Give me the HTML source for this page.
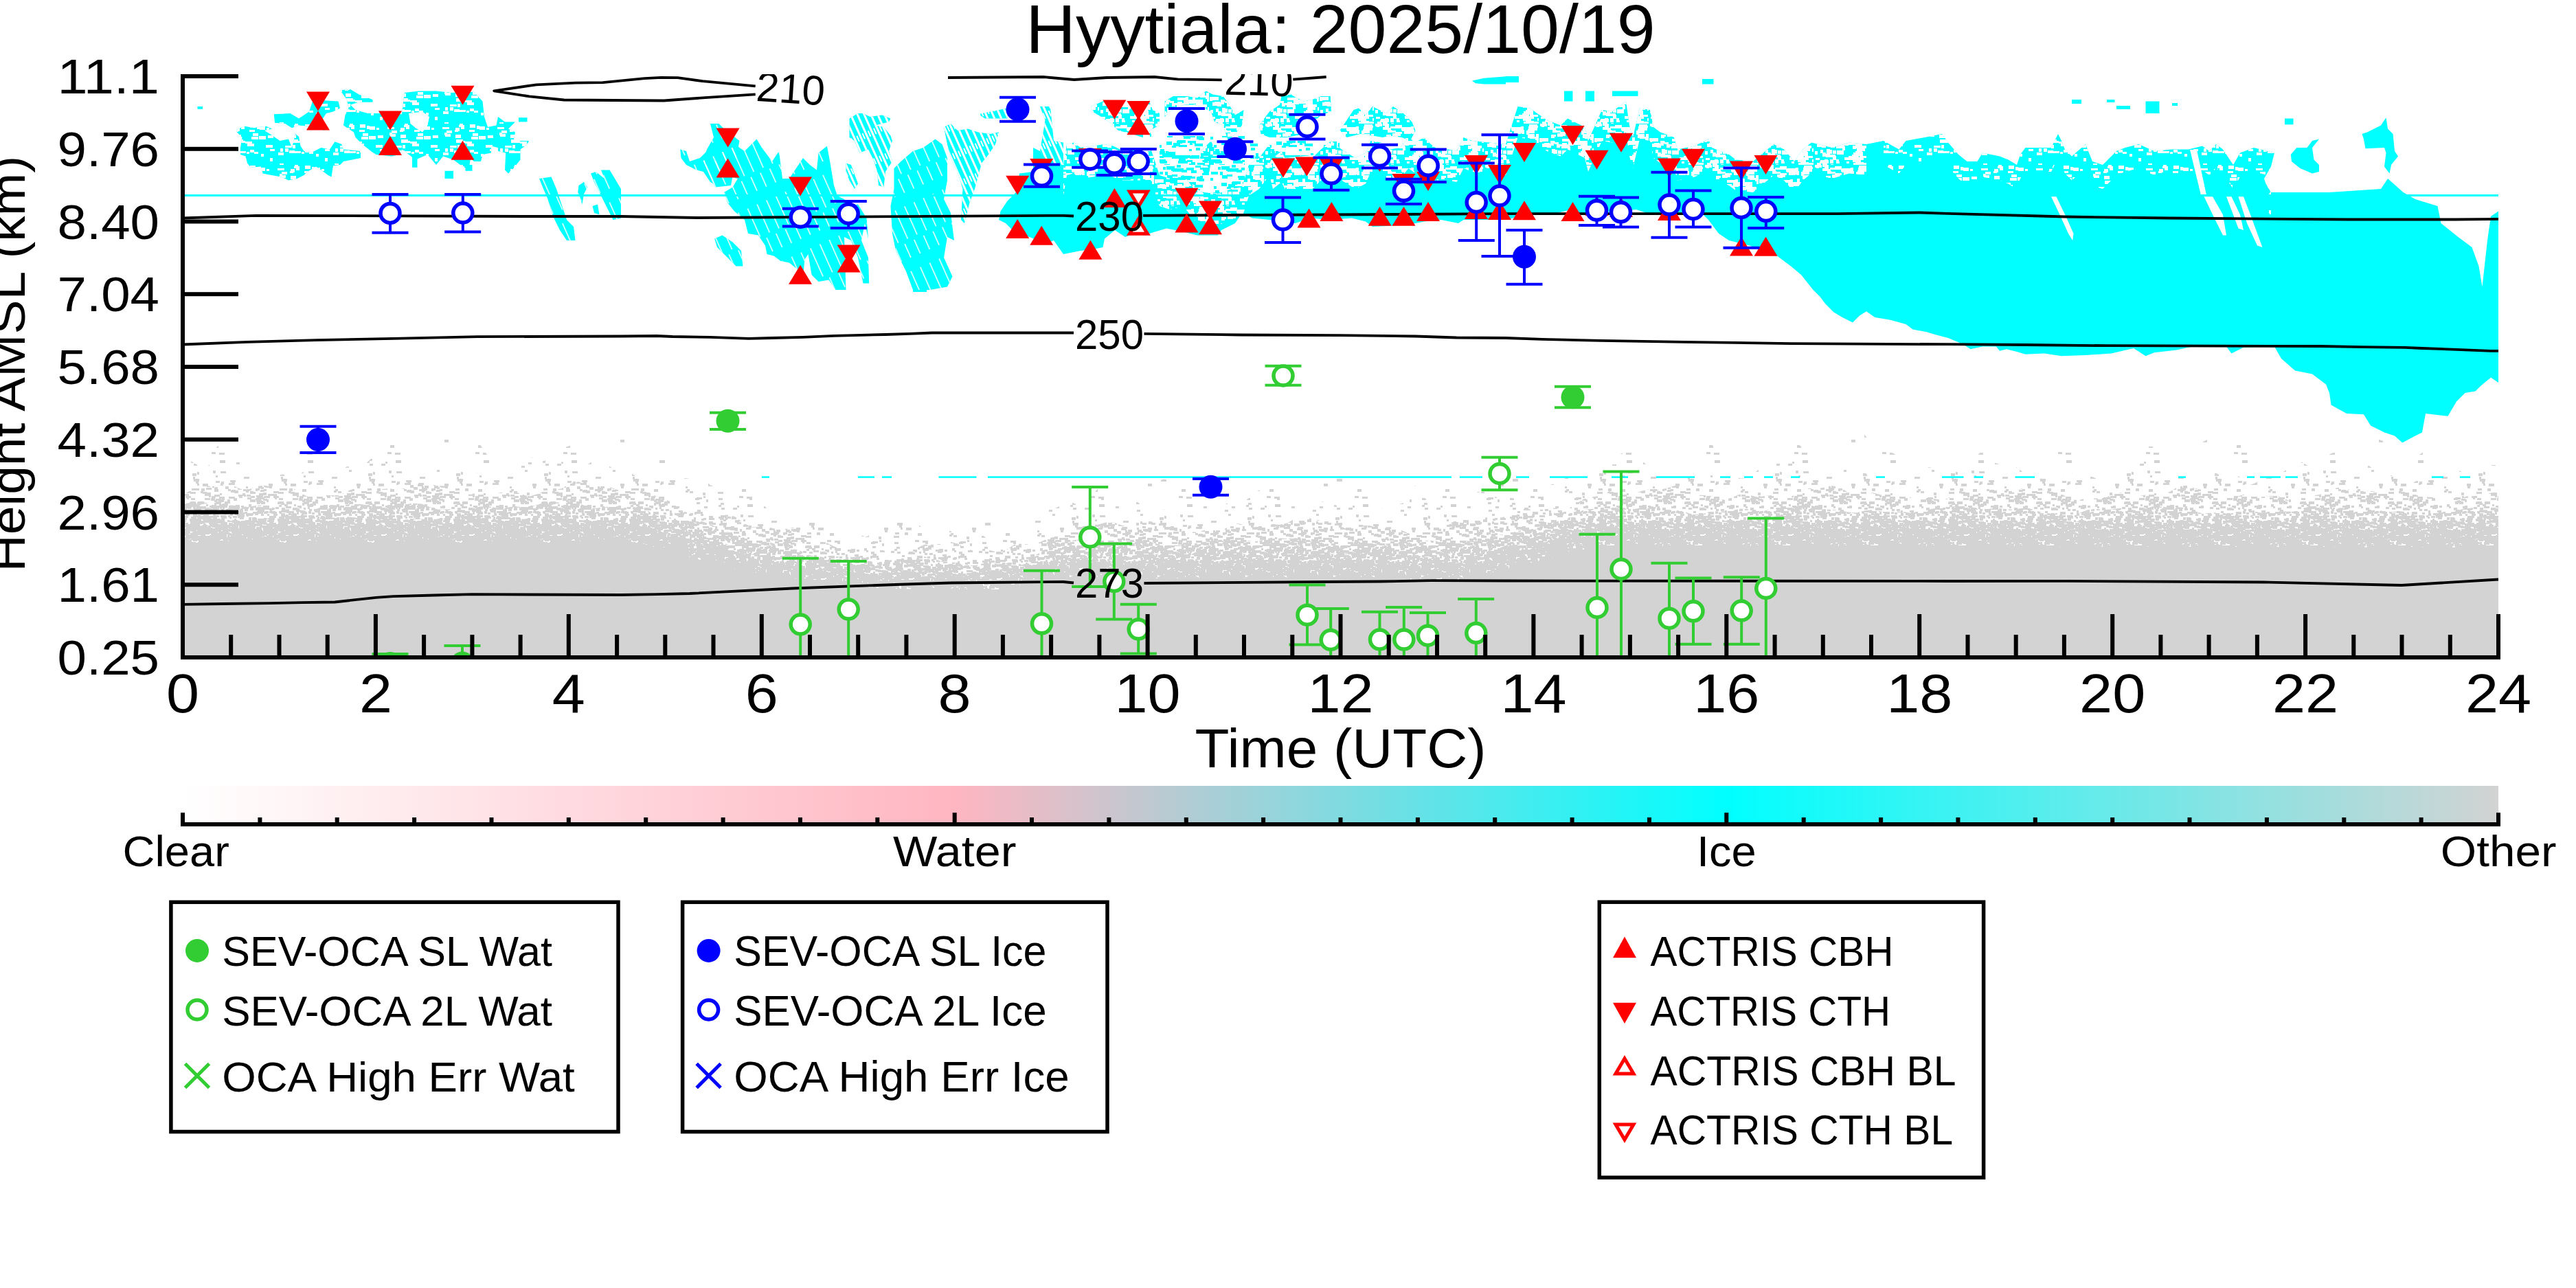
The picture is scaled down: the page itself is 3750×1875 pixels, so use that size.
<!DOCTYPE html><html><head><meta charset="utf-8"><style>html,body{margin:0;padding:0;background:#fff;width:3750px;height:1875px;overflow:hidden}</style></head><body><svg width="3750" height="1875" viewBox="0 0 3750 1875" style="display:block;font-family:'Liberation Sans', sans-serif">
<rect width="3750" height="1875" fill="#fff"/>
<defs><clipPath id="pc"><rect x="266" y="108" width="3371" height="849"/></clipPath>
<linearGradient id="cb" x1="0" x2="1" y1="0" y2="0"><stop offset="0" stop-color="#fff"/><stop offset="0.3333" stop-color="#ffb6c1"/><stop offset="0.6667" stop-color="#00ffff"/><stop offset="1" stop-color="#d3d3d3"/></linearGradient>
<linearGradient id="gg" x1="0" x2="0" y1="0" y2="1"><stop offset="0" stop-color="#d3d3d3" stop-opacity="0"/><stop offset="0.194" stop-color="#d3d3d3" stop-opacity="0.03"/><stop offset="0.419" stop-color="#d3d3d3" stop-opacity="0.15"/><stop offset="0.6" stop-color="#d3d3d3" stop-opacity="0.4"/><stop offset="0.755" stop-color="#d3d3d3" stop-opacity="0.7"/><stop offset="0.839" stop-color="#d3d3d3" stop-opacity="0.85"/><stop offset="1" stop-color="#d3d3d3" stop-opacity="1"/></linearGradient>
<pattern id="blotch" width="80" height="60" patternUnits="userSpaceOnUse"><g fill="#fff"><rect x="50" y="41" width="6" height="3"/><rect x="68" y="6" width="4" height="3"/><rect x="7" y="58" width="6" height="5"/><rect x="4" y="5" width="10" height="3"/><rect x="8" y="15" width="8" height="4"/><rect x="54" y="3" width="4" height="5"/><rect x="28" y="40" width="10" height="3"/><rect x="73" y="37" width="10" height="3"/><rect x="28" y="2" width="8" height="3"/><rect x="37" y="26" width="10" height="3"/><rect x="15" y="36" width="5" height="5"/><rect x="23" y="6" width="6" height="5"/><rect x="24" y="23" width="10" height="5"/><rect x="8" y="36" width="4" height="5"/><rect x="26" y="31" width="4" height="5"/><rect x="40" y="29" width="10" height="4"/><rect x="46" y="19" width="10" height="4"/><rect x="31" y="5" width="5" height="3"/><rect x="67" y="31" width="10" height="4"/><rect x="57" y="18" width="6" height="5"/><rect x="15" y="32" width="10" height="3"/><rect x="43" y="9" width="8" height="3"/><rect x="5" y="42" width="8" height="4"/><rect x="73" y="50" width="4" height="5"/><rect x="44" y="38" width="6" height="4"/><rect x="58" y="4" width="8" height="5"/><rect x="60" y="44" width="4" height="4"/><rect x="39" y="41" width="4" height="3"/><rect x="57" y="18" width="10" height="5"/><rect x="44" y="1" width="8" height="5"/><rect x="21" y="39" width="8" height="4"/><rect x="7" y="13" width="4" height="4"/><rect x="31" y="25" width="6" height="3"/><rect x="10" y="10" width="8" height="4"/><rect x="70" y="17" width="8" height="4"/><rect x="70" y="17" width="5" height="4"/><rect x="48" y="14" width="8" height="4"/><rect x="22" y="9" width="5" height="3"/><rect x="29" y="0" width="5" height="5"/><rect x="23" y="16" width="8" height="5"/></g></pattern>
<pattern id="blotch2" width="80" height="60" patternUnits="userSpaceOnUse"><g fill="#fff"><rect x="18" y="26" width="6" height="3"/><rect x="78" y="36" width="10" height="5"/><rect x="65" y="39" width="6" height="4"/><rect x="58" y="57" width="12" height="3"/><rect x="50" y="25" width="12" height="6"/><rect x="61" y="40" width="8" height="3"/><rect x="24" y="4" width="8" height="3"/><rect x="20" y="7" width="5" height="6"/><rect x="13" y="0" width="6" height="3"/><rect x="68" y="6" width="10" height="4"/><rect x="9" y="55" width="6" height="3"/><rect x="19" y="40" width="5" height="6"/><rect x="77" y="23" width="6" height="5"/><rect x="14" y="54" width="8" height="3"/><rect x="61" y="30" width="8" height="6"/><rect x="18" y="6" width="6" height="3"/><rect x="33" y="30" width="12" height="5"/><rect x="66" y="1" width="12" height="4"/><rect x="18" y="44" width="5" height="5"/><rect x="67" y="19" width="10" height="3"/><rect x="33" y="33" width="12" height="3"/><rect x="45" y="49" width="6" height="4"/><rect x="28" y="39" width="5" height="5"/><rect x="51" y="47" width="5" height="4"/><rect x="66" y="31" width="5" height="4"/><rect x="3" y="50" width="6" height="3"/><rect x="33" y="12" width="6" height="6"/><rect x="57" y="51" width="12" height="5"/><rect x="46" y="5" width="12" height="5"/><rect x="29" y="30" width="5" height="3"/><rect x="26" y="30" width="5" height="5"/><rect x="61" y="58" width="10" height="3"/><rect x="10" y="53" width="12" height="5"/><rect x="49" y="50" width="12" height="3"/><rect x="61" y="56" width="12" height="4"/><rect x="42" y="5" width="5" height="6"/><rect x="59" y="25" width="12" height="6"/><rect x="20" y="10" width="12" height="3"/><rect x="19" y="37" width="5" height="3"/><rect x="78" y="52" width="8" height="4"/><rect x="44" y="9" width="10" height="6"/><rect x="2" y="0" width="10" height="4"/><rect x="67" y="47" width="12" height="3"/><rect x="24" y="52" width="5" height="6"/><rect x="32" y="13" width="5" height="3"/><rect x="75" y="20" width="6" height="4"/><rect x="16" y="3" width="6" height="6"/><rect x="58" y="42" width="12" height="5"/><rect x="64" y="8" width="10" height="6"/><rect x="67" y="32" width="10" height="4"/><rect x="23" y="38" width="4" height="6"/><rect x="22" y="9" width="4" height="4"/><rect x="71" y="3" width="8" height="3"/><rect x="13" y="56" width="6" height="6"/><rect x="31" y="12" width="10" height="3"/><rect x="12" y="32" width="6" height="3"/><rect x="8" y="28" width="8" height="3"/><rect x="35" y="28" width="6" height="4"/><rect x="64" y="15" width="10" height="6"/><rect x="71" y="57" width="12" height="5"/><rect x="17" y="26" width="5" height="6"/><rect x="56" y="20" width="4" height="6"/><rect x="54" y="4" width="4" height="4"/><rect x="15" y="57" width="5" height="5"/><rect x="18" y="16" width="5" height="5"/><rect x="28" y="47" width="5" height="6"/><rect x="62" y="10" width="4" height="6"/><rect x="20" y="45" width="12" height="4"/><rect x="43" y="26" width="8" height="6"/><rect x="40" y="5" width="5" height="5"/><rect x="2" y="21" width="12" height="5"/><rect x="56" y="45" width="10" height="6"/><rect x="42" y="33" width="4" height="6"/><rect x="65" y="4" width="10" height="5"/><rect x="13" y="5" width="4" height="4"/><rect x="5" y="57" width="6" height="5"/><rect x="16" y="52" width="5" height="5"/><rect x="51" y="9" width="8" height="5"/><rect x="41" y="5" width="10" height="6"/><rect x="23" y="27" width="6" height="3"/><rect x="2" y="40" width="4" height="5"/><rect x="10" y="38" width="4" height="5"/><rect x="33" y="55" width="5" height="3"/><rect x="1" y="21" width="4" height="6"/><rect x="34" y="39" width="10" height="6"/><rect x="67" y="45" width="5" height="3"/><rect x="20" y="16" width="5" height="3"/><rect x="25" y="59" width="4" height="4"/><rect x="67" y="48" width="6" height="5"/><rect x="57" y="32" width="5" height="5"/><rect x="34" y="22" width="12" height="4"/><rect x="4" y="0" width="4" height="5"/><rect x="65" y="30" width="4" height="4"/><rect x="13" y="42" width="5" height="6"/><rect x="63" y="34" width="12" height="6"/><rect x="27" y="14" width="8" height="5"/><rect x="17" y="25" width="6" height="4"/><rect x="16" y="0" width="6" height="3"/><rect x="55" y="10" width="4" height="5"/><rect x="48" y="55" width="4" height="3"/><rect x="76" y="15" width="10" height="5"/><rect x="5" y="29" width="12" height="5"/><rect x="34" y="28" width="5" height="4"/><rect x="46" y="21" width="4" height="5"/><rect x="31" y="2" width="10" height="5"/><rect x="45" y="11" width="6" height="4"/><rect x="48" y="5" width="4" height="5"/><rect x="64" y="41" width="8" height="5"/><rect x="64" y="49" width="5" height="4"/><rect x="33" y="52" width="4" height="3"/></g></pattern>
<pattern id="cspeck" width="80" height="60" patternUnits="userSpaceOnUse"><g fill="#00ffff"><rect x="51" y="37" width="4" height="3"/><rect x="2" y="19" width="4" height="4"/><rect x="29" y="5" width="8" height="5"/><rect x="19" y="42" width="12" height="5"/><rect x="41" y="46" width="12" height="4"/><rect x="36" y="46" width="10" height="3"/><rect x="18" y="2" width="12" height="5"/><rect x="54" y="46" width="12" height="5"/><rect x="67" y="48" width="12" height="3"/><rect x="2" y="52" width="12" height="5"/><rect x="29" y="5" width="12" height="5"/><rect x="17" y="40" width="4" height="3"/><rect x="48" y="53" width="8" height="3"/><rect x="6" y="40" width="10" height="5"/><rect x="68" y="43" width="4" height="5"/><rect x="33" y="0" width="6" height="4"/><rect x="64" y="57" width="10" height="3"/><rect x="67" y="4" width="12" height="3"/><rect x="9" y="54" width="10" height="4"/><rect x="26" y="14" width="8" height="3"/><rect x="48" y="4" width="10" height="4"/><rect x="36" y="49" width="10" height="5"/><rect x="25" y="4" width="4" height="5"/><rect x="42" y="16" width="12" height="3"/><rect x="72" y="8" width="8" height="5"/><rect x="7" y="31" width="4" height="4"/><rect x="12" y="44" width="8" height="5"/><rect x="62" y="18" width="6" height="5"/><rect x="59" y="29" width="12" height="4"/><rect x="70" y="12" width="10" height="3"/><rect x="60" y="1" width="8" height="3"/><rect x="9" y="52" width="8" height="4"/><rect x="34" y="24" width="12" height="4"/><rect x="9" y="37" width="6" height="3"/><rect x="67" y="16" width="4" height="3"/><rect x="77" y="52" width="8" height="3"/><rect x="14" y="45" width="12" height="4"/><rect x="63" y="57" width="8" height="3"/><rect x="3" y="10" width="10" height="4"/><rect x="57" y="25" width="4" height="4"/><rect x="18" y="26" width="8" height="5"/><rect x="40" y="7" width="8" height="4"/><rect x="41" y="48" width="8" height="3"/><rect x="15" y="59" width="8" height="4"/><rect x="1" y="57" width="6" height="5"/><rect x="47" y="4" width="8" height="4"/><rect x="75" y="4" width="10" height="4"/><rect x="35" y="54" width="8" height="4"/><rect x="13" y="3" width="4" height="4"/><rect x="19" y="15" width="8" height="5"/><rect x="65" y="20" width="8" height="4"/><rect x="54" y="56" width="6" height="4"/><rect x="51" y="58" width="4" height="5"/><rect x="26" y="46" width="12" height="5"/><rect x="52" y="28" width="4" height="3"/><rect x="36" y="31" width="12" height="3"/><rect x="16" y="10" width="4" height="5"/><rect x="43" y="18" width="10" height="4"/><rect x="33" y="25" width="8" height="4"/><rect x="61" y="35" width="6" height="4"/><rect x="21" y="41" width="10" height="3"/><rect x="26" y="32" width="6" height="3"/><rect x="28" y="28" width="10" height="5"/><rect x="54" y="8" width="8" height="4"/><rect x="31" y="5" width="12" height="3"/><rect x="71" y="5" width="6" height="4"/><rect x="47" y="16" width="8" height="3"/><rect x="2" y="47" width="12" height="3"/><rect x="52" y="47" width="10" height="4"/><rect x="48" y="17" width="12" height="3"/><rect x="63" y="17" width="8" height="3"/><rect x="16" y="43" width="12" height="4"/><rect x="27" y="5" width="12" height="5"/><rect x="49" y="25" width="8" height="3"/><rect x="39" y="54" width="10" height="4"/></g></pattern>
<pattern id="streak" width="9" height="40" patternUnits="userSpaceOnUse" patternTransform="rotate(-24)"><rect x="0" y="0" width="3" height="40" fill="#fff"/><rect x="5" y="8" width="2" height="9" fill="#fff"/></pattern>
<pattern id="streak2" width="15" height="90" patternUnits="userSpaceOnUse" patternTransform="rotate(-24)"><rect x="0" y="0" width="1.5" height="45" fill="#fff"/><rect x="8" y="50" width="1.5" height="22" fill="#fff"/></pattern>
</defs>
<g clip-path="url(#pc)">
<defs><pattern id="sp0" width="128" height="64" patternUnits="userSpaceOnUse" patternTransform="translate(16 7)"><g fill="#d3d3d3"><rect x="119" y="57" width="6" height="4"/><rect x="48" y="23" width="8" height="4"/><rect x="47" y="12" width="8" height="3"/><rect x="36" y="11" width="6" height="3"/><rect x="10" y="50" width="8" height="4"/><rect x="40" y="1" width="6" height="4"/></g></pattern><pattern id="sp1" width="128" height="64" patternUnits="userSpaceOnUse" patternTransform="translate(4 60)"><g fill="#d3d3d3"><rect x="61" y="3" width="3" height="3"/><rect x="112" y="25" width="6" height="3"/><rect x="75" y="63" width="8" height="3"/><rect x="75" y="-1" width="8" height="3"/><rect x="21" y="58" width="3" height="4"/><rect x="21" y="32" width="5" height="3"/><rect x="73" y="3" width="5" height="3"/><rect x="27" y="51" width="3" height="4"/><rect x="98" y="8" width="3" height="3"/><rect x="0" y="27" width="3" height="4"/><rect x="120" y="48" width="4" height="3"/><rect x="18" y="25" width="6" height="3"/><rect x="22" y="39" width="5" height="3"/><rect x="104" y="15" width="5" height="3"/><rect x="25" y="1" width="4" height="3"/><rect x="124" y="22" width="3" height="3"/><rect x="114" y="24" width="8" height="3"/><rect x="98" y="14" width="4" height="3"/><rect x="54" y="0" width="6" height="3"/><rect x="77" y="2" width="5" height="4"/><rect x="100" y="12" width="4" height="3"/><rect x="54" y="56" width="3" height="3"/><rect x="84" y="37" width="5" height="3"/><rect x="19" y="11" width="6" height="3"/><rect x="62" y="1" width="4" height="4"/><rect x="95" y="58" width="8" height="3"/><rect x="123" y="17" width="4" height="4"/><rect x="39" y="39" width="6" height="3"/><rect x="63" y="24" width="4" height="4"/><rect x="50" y="49" width="4" height="4"/><rect x="20" y="53" width="6" height="4"/><rect x="27" y="4" width="3" height="3"/><rect x="61" y="50" width="8" height="3"/><rect x="125" y="37" width="5" height="3"/><rect x="-3" y="37" width="5" height="3"/><rect x="17" y="16" width="8" height="3"/><rect x="18" y="35" width="4" height="3"/><rect x="4" y="8" width="4" height="3"/><rect x="114" y="31" width="5" height="3"/><rect x="45" y="36" width="3" height="3"/><rect x="33" y="11" width="5" height="4"/><rect x="115" y="42" width="5" height="3"/><rect x="35" y="4" width="8" height="4"/></g></pattern><pattern id="sp2" width="128" height="64" patternUnits="userSpaceOnUse" patternTransform="translate(37 31)"><g fill="#d3d3d3"><rect x="79" y="4" width="5" height="4"/><rect x="19" y="61" width="3" height="4"/><rect x="19" y="-3" width="3" height="4"/><rect x="79" y="40" width="3" height="4"/><rect x="19" y="57" width="4" height="3"/><rect x="11" y="16" width="8" height="3"/><rect x="21" y="60" width="5" height="3"/><rect x="7" y="63" width="3" height="3"/><rect x="7" y="-1" width="3" height="3"/><rect x="97" y="48" width="8" height="3"/><rect x="18" y="10" width="8" height="3"/><rect x="29" y="32" width="3" height="4"/><rect x="84" y="49" width="6" height="4"/><rect x="112" y="59" width="8" height="3"/><rect x="7" y="39" width="8" height="3"/><rect x="123" y="2" width="8" height="3"/><rect x="-5" y="2" width="8" height="3"/><rect x="28" y="63" width="4" height="4"/><rect x="28" y="-1" width="4" height="4"/><rect x="124" y="32" width="8" height="4"/><rect x="-4" y="32" width="8" height="4"/><rect x="77" y="18" width="3" height="3"/><rect x="43" y="43" width="8" height="3"/><rect x="61" y="41" width="6" height="3"/><rect x="64" y="25" width="6" height="4"/><rect x="54" y="49" width="6" height="3"/><rect x="81" y="26" width="4" height="4"/><rect x="127" y="44" width="4" height="3"/><rect x="-1" y="44" width="4" height="3"/><rect x="16" y="35" width="3" height="4"/><rect x="115" y="60" width="4" height="3"/><rect x="105" y="48" width="5" height="3"/><rect x="80" y="57" width="8" height="3"/><rect x="8" y="35" width="5" height="3"/><rect x="71" y="45" width="8" height="3"/><rect x="4" y="17" width="5" height="4"/><rect x="48" y="3" width="6" height="3"/><rect x="36" y="6" width="5" height="3"/><rect x="27" y="47" width="3" height="3"/><rect x="50" y="25" width="3" height="4"/><rect x="45" y="1" width="6" height="3"/><rect x="9" y="22" width="6" height="4"/><rect x="88" y="20" width="4" height="3"/><rect x="57" y="11" width="6" height="4"/><rect x="99" y="16" width="6" height="4"/><rect x="50" y="0" width="6" height="3"/><rect x="87" y="59" width="6" height="4"/><rect x="52" y="12" width="5" height="4"/><rect x="62" y="49" width="3" height="3"/><rect x="82" y="33" width="3" height="3"/><rect x="21" y="4" width="3" height="3"/><rect x="107" y="35" width="6" height="3"/><rect x="55" y="8" width="6" height="3"/><rect x="44" y="42" width="6" height="3"/><rect x="38" y="56" width="4" height="3"/><rect x="22" y="28" width="6" height="4"/><rect x="74" y="21" width="6" height="4"/><rect x="65" y="39" width="8" height="4"/><rect x="53" y="38" width="6" height="4"/><rect x="69" y="63" width="4" height="4"/><rect x="69" y="-1" width="4" height="4"/><rect x="29" y="0" width="4" height="3"/><rect x="7" y="5" width="8" height="3"/><rect x="31" y="62" width="8" height="3"/><rect x="31" y="-2" width="8" height="3"/><rect x="42" y="8" width="3" height="4"/><rect x="105" y="51" width="8" height="3"/><rect x="121" y="63" width="5" height="3"/><rect x="121" y="-1" width="5" height="3"/><rect x="111" y="60" width="4" height="3"/><rect x="27" y="24" width="8" height="3"/><rect x="7" y="33" width="6" height="4"/><rect x="5" y="4" width="4" height="4"/><rect x="58" y="1" width="4" height="3"/><rect x="90" y="31" width="5" height="3"/><rect x="26" y="63" width="8" height="3"/><rect x="26" y="-1" width="8" height="3"/><rect x="64" y="25" width="8" height="3"/><rect x="5" y="48" width="8" height="3"/><rect x="40" y="26" width="6" height="4"/><rect x="55" y="27" width="8" height="4"/><rect x="34" y="29" width="8" height="4"/><rect x="80" y="40" width="5" height="3"/><rect x="49" y="12" width="4" height="3"/><rect x="33" y="11" width="4" height="3"/><rect x="24" y="55" width="5" height="3"/><rect x="32" y="25" width="6" height="4"/><rect x="4" y="12" width="6" height="4"/><rect x="91" y="46" width="4" height="4"/><rect x="87" y="24" width="3" height="4"/><rect x="27" y="3" width="3" height="3"/><rect x="123" y="18" width="3" height="4"/><rect x="29" y="26" width="4" height="3"/><rect x="72" y="12" width="4" height="3"/><rect x="34" y="59" width="8" height="3"/><rect x="83" y="50" width="3" height="3"/><rect x="90" y="55" width="6" height="3"/><rect x="95" y="1" width="4" height="4"/><rect x="46" y="52" width="3" height="3"/><rect x="94" y="51" width="6" height="3"/><rect x="42" y="12" width="4" height="4"/><rect x="82" y="10" width="8" height="3"/><rect x="48" y="43" width="6" height="4"/><rect x="29" y="20" width="5" height="3"/><rect x="84" y="47" width="6" height="3"/><rect x="103" y="26" width="6" height="3"/><rect x="87" y="38" width="4" height="3"/><rect x="2" y="45" width="6" height="3"/><rect x="59" y="34" width="8" height="3"/><rect x="55" y="51" width="5" height="3"/><rect x="19" y="49" width="8" height="3"/><rect x="54" y="15" width="8" height="3"/><rect x="5" y="14" width="6" height="4"/><rect x="60" y="32" width="8" height="3"/><rect x="12" y="25" width="6" height="3"/><rect x="25" y="33" width="6" height="3"/><rect x="87" y="53" width="5" height="3"/><rect x="25" y="56" width="8" height="4"/><rect x="11" y="49" width="3" height="4"/><rect x="120" y="21" width="4" height="3"/><rect x="14" y="54" width="6" height="4"/><rect x="72" y="51" width="6" height="3"/><rect x="93" y="36" width="8" height="3"/><rect x="69" y="36" width="6" height="4"/><rect x="3" y="31" width="5" height="3"/><rect x="40" y="52" width="8" height="3"/><rect x="80" y="50" width="6" height="3"/><rect x="81" y="9" width="3" height="4"/><rect x="122" y="32" width="4" height="3"/><rect x="25" y="59" width="4" height="3"/><rect x="29" y="6" width="4" height="3"/><rect x="116" y="15" width="8" height="3"/><rect x="91" y="19" width="4" height="3"/><rect x="113" y="17" width="3" height="3"/><rect x="67" y="53" width="6" height="3"/><rect x="35" y="37" width="5" height="4"/><rect x="123" y="14" width="4" height="3"/><rect x="91" y="35" width="8" height="3"/><rect x="48" y="35" width="5" height="4"/><rect x="63" y="25" width="4" height="3"/><rect x="15" y="1" width="3" height="4"/><rect x="108" y="3" width="5" height="3"/><rect x="26" y="28" width="8" height="3"/><rect x="18" y="11" width="8" height="3"/><rect x="60" y="47" width="4" height="4"/><rect x="90" y="26" width="6" height="3"/><rect x="126" y="17" width="5" height="3"/><rect x="-2" y="17" width="5" height="3"/><rect x="114" y="27" width="3" height="3"/><rect x="66" y="49" width="6" height="3"/><rect x="39" y="41" width="4" height="3"/><rect x="47" y="54" width="5" height="4"/><rect x="24" y="59" width="5" height="4"/><rect x="21" y="55" width="5" height="3"/><rect x="124" y="59" width="8" height="4"/><rect x="-4" y="59" width="8" height="4"/><rect x="19" y="39" width="5" height="3"/><rect x="20" y="38" width="4" height="4"/><rect x="83" y="36" width="6" height="4"/><rect x="91" y="41" width="4" height="3"/><rect x="82" y="56" width="5" height="3"/><rect x="71" y="56" width="8" height="4"/><rect x="117" y="40" width="8" height="3"/><rect x="63" y="10" width="4" height="3"/><rect x="6" y="46" width="5" height="3"/><rect x="99" y="24" width="6" height="4"/><rect x="99" y="19" width="8" height="3"/><rect x="45" y="22" width="8" height="4"/><rect x="72" y="2" width="3" height="3"/><rect x="14" y="20" width="4" height="4"/><rect x="5" y="54" width="8" height="3"/><rect x="78" y="10" width="3" height="4"/><rect x="70" y="13" width="5" height="3"/><rect x="6" y="18" width="5" height="3"/><rect x="108" y="31" width="3" height="4"/><rect x="86" y="58" width="4" height="3"/><rect x="86" y="42" width="6" height="3"/><rect x="124" y="9" width="4" height="3"/><rect x="105" y="44" width="8" height="3"/><rect x="22" y="59" width="3" height="3"/><rect x="6" y="46" width="8" height="4"/><rect x="107" y="53" width="3" height="3"/></g></pattern><pattern id="sp3" width="128" height="64" patternUnits="userSpaceOnUse" patternTransform="translate(124 1)"><g fill="#d3d3d3"><rect x="96" y="21" width="4" height="4"/><rect x="99" y="54" width="5" height="3"/><rect x="70" y="7" width="8" height="3"/><rect x="29" y="38" width="6" height="3"/><rect x="15" y="58" width="4" height="3"/><rect x="123" y="4" width="3" height="4"/><rect x="50" y="23" width="5" height="3"/><rect x="60" y="60" width="5" height="3"/><rect x="57" y="56" width="8" height="4"/><rect x="103" y="22" width="4" height="3"/><rect x="122" y="33" width="5" height="4"/><rect x="87" y="11" width="6" height="3"/><rect x="102" y="6" width="6" height="3"/><rect x="98" y="35" width="4" height="3"/><rect x="60" y="1" width="3" height="4"/><rect x="115" y="31" width="6" height="3"/><rect x="40" y="53" width="6" height="4"/><rect x="37" y="33" width="4" height="3"/><rect x="68" y="6" width="8" height="3"/><rect x="45" y="0" width="4" height="4"/><rect x="32" y="10" width="4" height="3"/><rect x="24" y="61" width="5" height="3"/><rect x="77" y="2" width="6" height="3"/><rect x="49" y="11" width="4" height="3"/><rect x="9" y="52" width="6" height="3"/><rect x="40" y="39" width="8" height="3"/><rect x="103" y="9" width="5" height="3"/><rect x="119" y="8" width="8" height="3"/><rect x="35" y="13" width="5" height="3"/><rect x="118" y="15" width="6" height="4"/><rect x="96" y="60" width="6" height="3"/><rect x="29" y="58" width="4" height="3"/><rect x="52" y="19" width="3" height="4"/><rect x="96" y="38" width="5" height="4"/><rect x="22" y="32" width="5" height="3"/><rect x="96" y="14" width="4" height="3"/><rect x="70" y="60" width="5" height="3"/><rect x="97" y="11" width="5" height="3"/><rect x="24" y="16" width="3" height="3"/><rect x="49" y="51" width="4" height="3"/><rect x="23" y="12" width="3" height="3"/><rect x="40" y="15" width="4" height="3"/><rect x="18" y="43" width="6" height="3"/><rect x="35" y="26" width="6" height="4"/><rect x="98" y="61" width="4" height="4"/><rect x="98" y="-3" width="4" height="4"/><rect x="3" y="51" width="5" height="3"/><rect x="81" y="31" width="8" height="4"/><rect x="4" y="33" width="8" height="4"/><rect x="87" y="39" width="5" height="3"/><rect x="96" y="26" width="6" height="3"/><rect x="75" y="13" width="8" height="3"/><rect x="40" y="32" width="8" height="4"/><rect x="59" y="45" width="8" height="3"/><rect x="36" y="25" width="8" height="4"/><rect x="50" y="3" width="8" height="4"/><rect x="34" y="31" width="4" height="3"/><rect x="106" y="42" width="6" height="4"/><rect x="92" y="34" width="5" height="3"/><rect x="115" y="17" width="6" height="3"/><rect x="16" y="33" width="4" height="4"/><rect x="85" y="18" width="4" height="4"/><rect x="73" y="46" width="3" height="3"/><rect x="92" y="21" width="4" height="4"/><rect x="19" y="58" width="4" height="4"/><rect x="46" y="17" width="3" height="3"/><rect x="97" y="2" width="5" height="4"/><rect x="105" y="59" width="4" height="3"/><rect x="98" y="15" width="3" height="3"/><rect x="44" y="43" width="8" height="3"/><rect x="67" y="31" width="8" height="3"/><rect x="13" y="4" width="8" height="3"/><rect x="127" y="13" width="4" height="3"/><rect x="-1" y="13" width="4" height="3"/><rect x="105" y="52" width="6" height="3"/><rect x="118" y="52" width="5" height="3"/><rect x="29" y="42" width="6" height="3"/><rect x="110" y="53" width="8" height="4"/><rect x="13" y="37" width="3" height="3"/><rect x="96" y="41" width="8" height="3"/><rect x="17" y="31" width="5" height="4"/><rect x="62" y="50" width="3" height="3"/><rect x="26" y="30" width="3" height="3"/><rect x="101" y="30" width="8" height="3"/><rect x="94" y="53" width="3" height="4"/><rect x="56" y="53" width="8" height="3"/><rect x="18" y="12" width="8" height="3"/><rect x="31" y="58" width="8" height="3"/><rect x="62" y="38" width="3" height="3"/><rect x="44" y="8" width="3" height="3"/><rect x="101" y="18" width="6" height="3"/><rect x="59" y="5" width="5" height="4"/><rect x="116" y="40" width="5" height="3"/><rect x="127" y="18" width="5" height="3"/><rect x="-1" y="18" width="5" height="3"/><rect x="51" y="37" width="6" height="3"/><rect x="80" y="45" width="3" height="3"/><rect x="44" y="25" width="6" height="3"/><rect x="60" y="24" width="8" height="4"/><rect x="27" y="39" width="3" height="4"/><rect x="107" y="17" width="5" height="3"/><rect x="113" y="53" width="5" height="4"/><rect x="57" y="39" width="3" height="3"/><rect x="50" y="34" width="3" height="4"/><rect x="60" y="37" width="4" height="4"/><rect x="29" y="29" width="5" height="3"/><rect x="57" y="35" width="5" height="3"/><rect x="23" y="59" width="4" height="4"/><rect x="18" y="5" width="3" height="3"/><rect x="72" y="32" width="3" height="4"/><rect x="22" y="21" width="6" height="4"/><rect x="62" y="22" width="5" height="3"/><rect x="7" y="23" width="5" height="4"/><rect x="118" y="49" width="4" height="3"/><rect x="15" y="23" width="3" height="3"/><rect x="92" y="41" width="3" height="4"/><rect x="74" y="22" width="6" height="3"/><rect x="28" y="55" width="8" height="3"/><rect x="112" y="32" width="4" height="4"/><rect x="125" y="28" width="4" height="3"/><rect x="-3" y="28" width="4" height="3"/><rect x="127" y="33" width="8" height="4"/><rect x="-1" y="33" width="8" height="4"/><rect x="13" y="57" width="3" height="3"/><rect x="38" y="2" width="4" height="3"/><rect x="111" y="56" width="8" height="3"/><rect x="18" y="14" width="5" height="3"/><rect x="60" y="18" width="4" height="4"/><rect x="108" y="5" width="3" height="3"/><rect x="67" y="63" width="5" height="4"/><rect x="67" y="-1" width="5" height="4"/><rect x="43" y="48" width="3" height="4"/><rect x="40" y="63" width="5" height="3"/><rect x="40" y="-1" width="5" height="3"/><rect x="15" y="40" width="8" height="3"/><rect x="93" y="27" width="6" height="3"/><rect x="125" y="17" width="3" height="3"/><rect x="116" y="5" width="4" height="4"/><rect x="104" y="18" width="3" height="3"/><rect x="76" y="60" width="3" height="3"/><rect x="8" y="29" width="6" height="3"/><rect x="30" y="30" width="5" height="3"/><rect x="22" y="29" width="6" height="3"/><rect x="86" y="27" width="5" height="3"/><rect x="103" y="7" width="3" height="3"/><rect x="45" y="59" width="5" height="4"/><rect x="97" y="48" width="6" height="3"/><rect x="107" y="44" width="3" height="3"/><rect x="41" y="61" width="4" height="3"/><rect x="54" y="59" width="4" height="3"/><rect x="114" y="62" width="5" height="3"/><rect x="114" y="-2" width="5" height="3"/><rect x="52" y="49" width="4" height="3"/><rect x="12" y="35" width="6" height="3"/><rect x="4" y="23" width="5" height="3"/><rect x="100" y="27" width="5" height="4"/><rect x="92" y="7" width="5" height="3"/><rect x="92" y="17" width="4" height="4"/><rect x="30" y="2" width="4" height="4"/><rect x="115" y="10" width="5" height="3"/><rect x="65" y="7" width="6" height="3"/><rect x="61" y="62" width="5" height="3"/><rect x="61" y="-2" width="5" height="3"/><rect x="38" y="16" width="3" height="3"/><rect x="79" y="52" width="3" height="3"/><rect x="34" y="33" width="6" height="3"/><rect x="115" y="48" width="5" height="4"/><rect x="71" y="57" width="4" height="3"/><rect x="98" y="45" width="6" height="3"/><rect x="74" y="47" width="4" height="3"/><rect x="55" y="17" width="5" height="4"/><rect x="123" y="1" width="3" height="3"/><rect x="17" y="27" width="5" height="4"/><rect x="90" y="15" width="8" height="4"/><rect x="66" y="11" width="5" height="3"/><rect x="100" y="63" width="6" height="3"/><rect x="100" y="-1" width="6" height="3"/><rect x="98" y="42" width="3" height="3"/><rect x="71" y="28" width="5" height="3"/><rect x="51" y="60" width="4" height="3"/><rect x="61" y="11" width="4" height="3"/><rect x="38" y="61" width="5" height="3"/><rect x="78" y="2" width="8" height="3"/><rect x="93" y="8" width="6" height="3"/><rect x="13" y="48" width="6" height="3"/><rect x="76" y="60" width="6" height="4"/><rect x="18" y="3" width="5" height="3"/><rect x="82" y="47" width="3" height="3"/><rect x="67" y="23" width="8" height="3"/><rect x="87" y="46" width="6" height="3"/><rect x="55" y="9" width="3" height="4"/><rect x="105" y="53" width="3" height="4"/><rect x="17" y="59" width="3" height="3"/><rect x="98" y="4" width="6" height="3"/><rect x="69" y="39" width="4" height="4"/><rect x="121" y="2" width="6" height="3"/><rect x="49" y="34" width="4" height="4"/><rect x="56" y="30" width="4" height="3"/><rect x="100" y="0" width="8" height="3"/><rect x="126" y="10" width="4" height="4"/><rect x="-2" y="10" width="4" height="4"/><rect x="85" y="33" width="8" height="4"/><rect x="4" y="40" width="5" height="3"/><rect x="101" y="20" width="4" height="4"/><rect x="40" y="42" width="4" height="3"/><rect x="125" y="37" width="8" height="4"/><rect x="-3" y="37" width="8" height="4"/><rect x="73" y="46" width="5" height="3"/><rect x="60" y="31" width="8" height="3"/><rect x="45" y="16" width="5" height="3"/><rect x="26" y="39" width="3" height="3"/><rect x="123" y="5" width="3" height="3"/><rect x="105" y="61" width="4" height="4"/><rect x="105" y="-3" width="4" height="4"/><rect x="64" y="50" width="3" height="3"/><rect x="100" y="32" width="8" height="4"/><rect x="83" y="23" width="5" height="3"/><rect x="33" y="53" width="5" height="3"/><rect x="68" y="20" width="4" height="4"/><rect x="96" y="37" width="4" height="3"/><rect x="47" y="1" width="4" height="4"/><rect x="34" y="34" width="6" height="4"/><rect x="64" y="50" width="5" height="3"/><rect x="35" y="6" width="6" height="4"/><rect x="30" y="5" width="4" height="4"/><rect x="91" y="15" width="4" height="3"/><rect x="6" y="61" width="6" height="3"/><rect x="17" y="39" width="4" height="3"/><rect x="72" y="28" width="6" height="4"/><rect x="104" y="18" width="6" height="4"/><rect x="55" y="36" width="8" height="3"/><rect x="44" y="13" width="4" height="3"/><rect x="124" y="55" width="8" height="3"/><rect x="-4" y="55" width="8" height="3"/><rect x="82" y="2" width="3" height="3"/><rect x="36" y="35" width="5" height="4"/><rect x="82" y="29" width="6" height="3"/><rect x="51" y="46" width="3" height="3"/><rect x="13" y="19" width="8" height="3"/><rect x="79" y="10" width="3" height="3"/><rect x="86" y="61" width="3" height="3"/><rect x="104" y="61" width="4" height="3"/><rect x="89" y="50" width="3" height="3"/><rect x="55" y="32" width="8" height="3"/><rect x="74" y="31" width="5" height="3"/><rect x="12" y="22" width="6" height="4"/><rect x="30" y="9" width="3" height="3"/><rect x="6" y="39" width="5" height="3"/><rect x="119" y="1" width="3" height="4"/><rect x="93" y="1" width="4" height="3"/><rect x="62" y="63" width="8" height="3"/><rect x="62" y="-1" width="8" height="3"/><rect x="25" y="61" width="6" height="3"/><rect x="104" y="32" width="6" height="4"/><rect x="2" y="18" width="8" height="3"/><rect x="99" y="47" width="4" height="3"/><rect x="70" y="46" width="8" height="4"/><rect x="79" y="35" width="6" height="3"/><rect x="82" y="12" width="3" height="4"/><rect x="54" y="23" width="5" height="3"/><rect x="33" y="38" width="4" height="3"/><rect x="88" y="13" width="4" height="3"/><rect x="95" y="44" width="4" height="3"/><rect x="5" y="1" width="4" height="3"/><rect x="13" y="51" width="6" height="4"/><rect x="52" y="2" width="3" height="3"/><rect x="17" y="13" width="4" height="3"/><rect x="110" y="60" width="8" height="3"/><rect x="104" y="22" width="4" height="3"/><rect x="99" y="41" width="5" height="3"/><rect x="2" y="18" width="4" height="3"/><rect x="14" y="27" width="6" height="4"/><rect x="88" y="56" width="8" height="4"/><rect x="29" y="15" width="6" height="4"/><rect x="119" y="53" width="6" height="3"/><rect x="58" y="48" width="6" height="4"/><rect x="10" y="4" width="8" height="4"/><rect x="115" y="57" width="8" height="4"/><rect x="11" y="6" width="5" height="4"/><rect x="119" y="42" width="5" height="3"/><rect x="80" y="24" width="5" height="4"/><rect x="102" y="6" width="6" height="4"/><rect x="28" y="29" width="4" height="3"/><rect x="36" y="14" width="4" height="4"/><rect x="64" y="33" width="3" height="4"/><rect x="9" y="43" width="3" height="3"/><rect x="89" y="58" width="5" height="4"/><rect x="3" y="54" width="4" height="4"/><rect x="71" y="30" width="4" height="3"/><rect x="112" y="62" width="3" height="3"/><rect x="112" y="-2" width="3" height="3"/><rect x="127" y="7" width="4" height="3"/><rect x="-1" y="7" width="4" height="3"/><rect x="38" y="46" width="8" height="3"/><rect x="85" y="4" width="4" height="3"/><rect x="73" y="15" width="5" height="3"/><rect x="99" y="3" width="6" height="3"/><rect x="125" y="9" width="8" height="3"/><rect x="-3" y="9" width="8" height="3"/><rect x="52" y="40" width="3" height="4"/><rect x="110" y="48" width="4" height="4"/><rect x="80" y="35" width="3" height="3"/><rect x="53" y="23" width="8" height="3"/><rect x="119" y="5" width="4" height="3"/><rect x="29" y="33" width="4" height="3"/><rect x="91" y="39" width="5" height="4"/><rect x="17" y="26" width="4" height="3"/><rect x="104" y="25" width="5" height="3"/><rect x="68" y="54" width="4" height="3"/><rect x="104" y="35" width="5" height="4"/><rect x="31" y="12" width="6" height="3"/><rect x="106" y="30" width="5" height="4"/><rect x="30" y="36" width="6" height="4"/><rect x="20" y="58" width="3" height="3"/><rect x="99" y="25" width="4" height="3"/><rect x="56" y="57" width="6" height="4"/><rect x="107" y="42" width="3" height="3"/><rect x="112" y="34" width="5" height="4"/><rect x="3" y="31" width="5" height="4"/><rect x="95" y="16" width="3" height="3"/><rect x="99" y="53" width="8" height="3"/><rect x="26" y="13" width="5" height="3"/><rect x="25" y="58" width="8" height="4"/><rect x="93" y="2" width="4" height="3"/><rect x="88" y="2" width="5" height="3"/><rect x="18" y="46" width="4" height="3"/><rect x="80" y="61" width="4" height="3"/><rect x="56" y="2" width="8" height="3"/><rect x="58" y="14" width="6" height="3"/><rect x="118" y="51" width="3" height="3"/><rect x="53" y="63" width="4" height="4"/><rect x="53" y="-1" width="4" height="4"/><rect x="101" y="12" width="5" height="3"/><rect x="42" y="32" width="3" height="3"/><rect x="110" y="59" width="6" height="3"/><rect x="94" y="46" width="4" height="3"/><rect x="89" y="52" width="3" height="3"/><rect x="28" y="12" width="8" height="4"/><rect x="31" y="8" width="5" height="4"/><rect x="33" y="11" width="8" height="3"/><rect x="78" y="37" width="8" height="4"/><rect x="63" y="52" width="5" height="3"/><rect x="55" y="57" width="6" height="3"/><rect x="26" y="58" width="4" height="4"/><rect x="39" y="18" width="4" height="3"/><rect x="44" y="52" width="8" height="4"/><rect x="30" y="52" width="8" height="4"/><rect x="39" y="14" width="3" height="3"/><rect x="75" y="3" width="6" height="3"/><rect x="126" y="38" width="6" height="3"/><rect x="-2" y="38" width="6" height="3"/><rect x="11" y="49" width="8" height="4"/><rect x="20" y="27" width="6" height="3"/><rect x="28" y="53" width="5" height="4"/><rect x="52" y="17" width="5" height="3"/><rect x="24" y="50" width="8" height="4"/><rect x="66" y="28" width="5" height="3"/><rect x="109" y="61" width="5" height="3"/><rect x="110" y="42" width="6" height="3"/><rect x="12" y="39" width="6" height="3"/><rect x="41" y="48" width="8" height="3"/><rect x="102" y="28" width="8" height="3"/><rect x="95" y="4" width="3" height="4"/><rect x="123" y="29" width="5" height="3"/></g></pattern><pattern id="sp4" width="128" height="64" patternUnits="userSpaceOnUse" patternTransform="translate(72 6)"><g fill="#d3d3d3"><rect x="26" y="0" width="5" height="3"/><rect x="63" y="46" width="8" height="3"/><rect x="94" y="38" width="8" height="4"/><rect x="14" y="40" width="4" height="4"/><rect x="30" y="44" width="4" height="3"/><rect x="54" y="32" width="3" height="3"/><rect x="108" y="47" width="8" height="3"/><rect x="73" y="12" width="6" height="3"/><rect x="57" y="32" width="3" height="3"/><rect x="81" y="19" width="5" height="3"/><rect x="72" y="7" width="4" height="3"/><rect x="101" y="10" width="6" height="3"/><rect x="87" y="2" width="8" height="3"/><rect x="54" y="0" width="8" height="4"/><rect x="85" y="9" width="6" height="3"/><rect x="112" y="17" width="4" height="3"/><rect x="111" y="15" width="6" height="3"/><rect x="18" y="14" width="6" height="3"/><rect x="28" y="15" width="5" height="4"/><rect x="29" y="27" width="6" height="3"/><rect x="82" y="17" width="3" height="3"/><rect x="70" y="60" width="3" height="3"/><rect x="110" y="48" width="6" height="3"/><rect x="126" y="63" width="4" height="4"/><rect x="-2" y="63" width="4" height="4"/><rect x="126" y="-1" width="4" height="4"/><rect x="99" y="61" width="6" height="4"/><rect x="99" y="-3" width="6" height="4"/><rect x="42" y="41" width="3" height="4"/><rect x="88" y="20" width="4" height="3"/><rect x="99" y="57" width="5" height="3"/><rect x="118" y="45" width="8" height="4"/><rect x="123" y="50" width="8" height="3"/><rect x="-5" y="50" width="8" height="3"/><rect x="125" y="29" width="5" height="3"/><rect x="-3" y="29" width="5" height="3"/><rect x="105" y="5" width="5" height="3"/><rect x="65" y="48" width="5" height="3"/><rect x="54" y="55" width="4" height="4"/><rect x="46" y="52" width="8" height="3"/><rect x="99" y="62" width="8" height="3"/><rect x="99" y="-2" width="8" height="3"/><rect x="47" y="13" width="3" height="3"/><rect x="38" y="4" width="5" height="4"/><rect x="40" y="62" width="5" height="4"/><rect x="40" y="-2" width="5" height="4"/><rect x="38" y="57" width="5" height="3"/><rect x="25" y="31" width="5" height="3"/><rect x="51" y="44" width="4" height="3"/><rect x="48" y="21" width="3" height="3"/><rect x="83" y="46" width="5" height="4"/><rect x="74" y="33" width="3" height="4"/><rect x="91" y="2" width="3" height="3"/><rect x="64" y="37" width="4" height="4"/><rect x="33" y="33" width="5" height="3"/><rect x="69" y="3" width="6" height="3"/><rect x="38" y="49" width="5" height="3"/><rect x="33" y="11" width="4" height="4"/><rect x="41" y="33" width="8" height="4"/><rect x="109" y="46" width="5" height="3"/><rect x="123" y="57" width="8" height="3"/><rect x="-5" y="57" width="8" height="3"/><rect x="55" y="34" width="5" height="3"/><rect x="89" y="29" width="8" height="4"/><rect x="28" y="9" width="3" height="4"/><rect x="26" y="15" width="5" height="3"/><rect x="79" y="45" width="4" height="3"/><rect x="17" y="18" width="4" height="3"/><rect x="36" y="9" width="3" height="3"/><rect x="47" y="11" width="6" height="4"/><rect x="90" y="63" width="8" height="4"/><rect x="90" y="-1" width="8" height="4"/><rect x="26" y="53" width="4" height="4"/><rect x="49" y="10" width="4" height="3"/><rect x="22" y="17" width="6" height="3"/><rect x="85" y="28" width="5" height="3"/><rect x="39" y="54" width="5" height="3"/><rect x="125" y="40" width="3" height="4"/><rect x="40" y="4" width="4" height="3"/><rect x="76" y="38" width="3" height="3"/><rect x="8" y="19" width="3" height="3"/><rect x="21" y="0" width="4" height="4"/><rect x="55" y="50" width="5" height="3"/><rect x="89" y="42" width="4" height="3"/><rect x="100" y="1" width="4" height="3"/><rect x="12" y="47" width="4" height="3"/><rect x="85" y="45" width="8" height="4"/><rect x="60" y="53" width="6" height="4"/><rect x="38" y="27" width="4" height="3"/><rect x="122" y="28" width="5" height="3"/><rect x="60" y="33" width="5" height="3"/><rect x="65" y="2" width="8" height="4"/><rect x="59" y="8" width="4" height="3"/><rect x="84" y="26" width="5" height="4"/><rect x="23" y="10" width="3" height="3"/><rect x="113" y="27" width="8" height="3"/><rect x="35" y="47" width="3" height="3"/><rect x="18" y="49" width="5" height="3"/><rect x="59" y="43" width="4" height="3"/><rect x="73" y="8" width="4" height="3"/><rect x="13" y="63" width="6" height="3"/><rect x="13" y="-1" width="6" height="3"/><rect x="16" y="54" width="3" height="3"/><rect x="17" y="26" width="4" height="3"/><rect x="57" y="40" width="4" height="3"/><rect x="34" y="18" width="5" height="3"/><rect x="49" y="30" width="5" height="3"/><rect x="60" y="58" width="4" height="4"/><rect x="30" y="34" width="5" height="3"/><rect x="47" y="44" width="4" height="3"/><rect x="78" y="41" width="3" height="3"/><rect x="31" y="35" width="4" height="4"/><rect x="113" y="33" width="8" height="4"/><rect x="57" y="2" width="3" height="3"/><rect x="47" y="20" width="3" height="3"/><rect x="26" y="37" width="5" height="4"/><rect x="117" y="44" width="6" height="4"/><rect x="119" y="4" width="8" height="3"/><rect x="120" y="3" width="4" height="3"/><rect x="102" y="6" width="6" height="4"/><rect x="11" y="22" width="5" height="3"/><rect x="54" y="2" width="6" height="4"/><rect x="108" y="63" width="3" height="3"/><rect x="108" y="-1" width="3" height="3"/><rect x="16" y="59" width="8" height="4"/><rect x="87" y="1" width="3" height="3"/><rect x="10" y="43" width="4" height="3"/><rect x="94" y="60" width="5" height="4"/><rect x="81" y="21" width="5" height="4"/><rect x="106" y="54" width="5" height="3"/><rect x="117" y="32" width="8" height="4"/><rect x="59" y="20" width="5" height="3"/><rect x="73" y="21" width="6" height="4"/><rect x="103" y="20" width="5" height="3"/><rect x="24" y="0" width="5" height="3"/><rect x="28" y="63" width="5" height="3"/><rect x="28" y="-1" width="5" height="3"/><rect x="97" y="0" width="8" height="4"/><rect x="68" y="63" width="6" height="3"/><rect x="68" y="-1" width="6" height="3"/><rect x="118" y="7" width="8" height="4"/><rect x="127" y="61" width="3" height="3"/><rect x="-1" y="61" width="3" height="3"/><rect x="36" y="3" width="3" height="4"/><rect x="113" y="6" width="5" height="4"/><rect x="12" y="30" width="3" height="3"/><rect x="10" y="32" width="8" height="3"/><rect x="26" y="54" width="4" height="4"/><rect x="14" y="9" width="5" height="4"/><rect x="38" y="37" width="6" height="3"/><rect x="87" y="25" width="5" height="4"/><rect x="114" y="38" width="4" height="4"/><rect x="63" y="35" width="4" height="4"/><rect x="30" y="60" width="5" height="3"/><rect x="62" y="5" width="5" height="4"/><rect x="87" y="60" width="3" height="4"/><rect x="102" y="8" width="8" height="4"/><rect x="66" y="36" width="4" height="3"/><rect x="65" y="23" width="6" height="3"/><rect x="66" y="16" width="8" height="4"/><rect x="104" y="50" width="3" height="3"/><rect x="67" y="63" width="3" height="4"/><rect x="67" y="-1" width="3" height="4"/><rect x="98" y="45" width="6" height="3"/><rect x="41" y="63" width="3" height="3"/><rect x="41" y="-1" width="3" height="3"/><rect x="30" y="19" width="4" height="3"/><rect x="80" y="59" width="8" height="3"/><rect x="47" y="3" width="5" height="4"/><rect x="26" y="42" width="5" height="4"/><rect x="6" y="37" width="5" height="3"/><rect x="77" y="59" width="8" height="4"/><rect x="27" y="35" width="3" height="3"/><rect x="124" y="8" width="4" height="4"/><rect x="12" y="60" width="3" height="3"/><rect x="73" y="25" width="8" height="3"/><rect x="61" y="55" width="8" height="3"/><rect x="17" y="43" width="5" height="3"/><rect x="75" y="53" width="3" height="3"/><rect x="60" y="60" width="4" height="3"/><rect x="109" y="55" width="3" height="3"/><rect x="106" y="32" width="6" height="4"/><rect x="107" y="1" width="8" height="4"/><rect x="48" y="23" width="8" height="3"/><rect x="38" y="23" width="3" height="4"/><rect x="81" y="34" width="8" height="3"/><rect x="14" y="58" width="3" height="4"/><rect x="27" y="60" width="3" height="3"/><rect x="14" y="9" width="4" height="3"/><rect x="118" y="56" width="3" height="3"/><rect x="127" y="31" width="4" height="3"/><rect x="-1" y="31" width="4" height="3"/><rect x="61" y="52" width="6" height="4"/><rect x="32" y="31" width="3" height="3"/><rect x="121" y="51" width="3" height="4"/><rect x="18" y="50" width="3" height="3"/><rect x="27" y="26" width="6" height="4"/><rect x="124" y="40" width="4" height="4"/><rect x="77" y="2" width="3" height="3"/><rect x="105" y="51" width="4" height="4"/><rect x="8" y="11" width="4" height="3"/><rect x="53" y="46" width="5" height="3"/><rect x="115" y="55" width="6" height="3"/><rect x="5" y="52" width="5" height="3"/><rect x="22" y="58" width="5" height="4"/><rect x="116" y="48" width="6" height="4"/><rect x="19" y="29" width="8" height="3"/><rect x="116" y="55" width="5" height="3"/><rect x="76" y="28" width="4" height="4"/><rect x="87" y="50" width="8" height="3"/><rect x="88" y="54" width="3" height="3"/><rect x="97" y="28" width="5" height="3"/><rect x="50" y="55" width="6" height="3"/><rect x="13" y="27" width="3" height="3"/><rect x="86" y="46" width="6" height="3"/><rect x="64" y="32" width="8" height="3"/><rect x="40" y="3" width="8" height="3"/><rect x="83" y="2" width="4" height="4"/><rect x="87" y="63" width="5" height="4"/><rect x="87" y="-1" width="5" height="4"/><rect x="126" y="62" width="5" height="3"/><rect x="-2" y="62" width="5" height="3"/><rect x="126" y="-2" width="5" height="3"/><rect x="37" y="12" width="5" height="3"/><rect x="117" y="59" width="8" height="3"/><rect x="112" y="2" width="8" height="4"/><rect x="110" y="6" width="5" height="3"/><rect x="76" y="21" width="3" height="3"/><rect x="97" y="35" width="5" height="3"/><rect x="6" y="47" width="4" height="3"/><rect x="103" y="19" width="6" height="4"/><rect x="63" y="26" width="5" height="4"/><rect x="30" y="10" width="4" height="3"/><rect x="48" y="33" width="3" height="4"/><rect x="14" y="3" width="3" height="3"/><rect x="54" y="46" width="5" height="3"/><rect x="55" y="60" width="5" height="3"/><rect x="113" y="36" width="5" height="3"/><rect x="91" y="28" width="8" height="4"/><rect x="81" y="19" width="8" height="3"/><rect x="110" y="22" width="5" height="3"/><rect x="43" y="60" width="4" height="4"/><rect x="89" y="27" width="5" height="4"/><rect x="122" y="46" width="5" height="3"/><rect x="126" y="6" width="3" height="3"/><rect x="-2" y="6" width="3" height="3"/><rect x="6" y="12" width="3" height="4"/><rect x="90" y="62" width="5" height="3"/><rect x="90" y="-2" width="5" height="3"/><rect x="98" y="8" width="8" height="4"/><rect x="5" y="22" width="3" height="3"/><rect x="11" y="19" width="8" height="3"/><rect x="119" y="36" width="5" height="3"/><rect x="5" y="45" width="4" height="4"/><rect x="0" y="31" width="4" height="3"/><rect x="66" y="1" width="5" height="3"/><rect x="79" y="53" width="3" height="3"/><rect x="68" y="22" width="8" height="3"/><rect x="24" y="60" width="3" height="3"/><rect x="79" y="56" width="8" height="3"/><rect x="105" y="49" width="8" height="3"/><rect x="67" y="59" width="5" height="4"/><rect x="57" y="36" width="6" height="4"/><rect x="77" y="50" width="3" height="3"/><rect x="10" y="58" width="3" height="4"/><rect x="48" y="47" width="5" height="4"/><rect x="118" y="47" width="8" height="4"/><rect x="101" y="29" width="6" height="3"/><rect x="49" y="9" width="8" height="4"/><rect x="85" y="54" width="3" height="3"/><rect x="79" y="4" width="8" height="4"/><rect x="91" y="9" width="5" height="4"/><rect x="3" y="18" width="8" height="3"/><rect x="28" y="57" width="6" height="4"/><rect x="14" y="22" width="8" height="3"/><rect x="62" y="63" width="3" height="3"/><rect x="62" y="-1" width="3" height="3"/><rect x="86" y="2" width="4" height="3"/><rect x="54" y="9" width="3" height="3"/><rect x="85" y="22" width="4" height="3"/><rect x="25" y="23" width="8" height="4"/><rect x="57" y="21" width="5" height="3"/><rect x="8" y="17" width="3" height="3"/><rect x="7" y="20" width="4" height="4"/><rect x="82" y="33" width="6" height="4"/><rect x="29" y="0" width="4" height="3"/><rect x="77" y="49" width="3" height="4"/><rect x="47" y="53" width="5" height="3"/><rect x="9" y="30" width="6" height="4"/><rect x="69" y="25" width="8" height="3"/><rect x="64" y="23" width="3" height="3"/><rect x="74" y="15" width="4" height="3"/><rect x="81" y="63" width="6" height="4"/><rect x="81" y="-1" width="6" height="4"/><rect x="105" y="62" width="3" height="3"/><rect x="105" y="-2" width="3" height="3"/><rect x="31" y="32" width="8" height="3"/><rect x="7" y="46" width="3" height="3"/><rect x="84" y="49" width="8" height="3"/><rect x="46" y="26" width="4" height="4"/><rect x="127" y="30" width="8" height="3"/><rect x="-1" y="30" width="8" height="3"/><rect x="124" y="5" width="6" height="3"/><rect x="-4" y="5" width="6" height="3"/><rect x="8" y="16" width="3" height="4"/><rect x="119" y="28" width="4" height="3"/><rect x="96" y="20" width="6" height="4"/><rect x="13" y="44" width="5" height="4"/><rect x="70" y="20" width="3" height="3"/><rect x="7" y="30" width="8" height="3"/><rect x="22" y="5" width="6" height="3"/><rect x="9" y="14" width="4" height="3"/><rect x="46" y="24" width="4" height="3"/><rect x="111" y="25" width="6" height="3"/><rect x="43" y="9" width="3" height="4"/><rect x="96" y="52" width="4" height="4"/><rect x="24" y="49" width="4" height="3"/><rect x="78" y="5" width="3" height="3"/><rect x="49" y="42" width="8" height="3"/><rect x="100" y="37" width="3" height="3"/><rect x="33" y="20" width="8" height="3"/><rect x="95" y="13" width="6" height="4"/><rect x="72" y="38" width="3" height="3"/><rect x="25" y="23" width="5" height="3"/><rect x="64" y="14" width="6" height="3"/><rect x="106" y="46" width="8" height="3"/><rect x="71" y="29" width="8" height="4"/><rect x="69" y="18" width="6" height="4"/><rect x="127" y="11" width="5" height="3"/><rect x="-1" y="11" width="5" height="3"/><rect x="15" y="55" width="4" height="4"/><rect x="53" y="41" width="8" height="3"/><rect x="49" y="34" width="8" height="3"/><rect x="7" y="33" width="6" height="4"/><rect x="48" y="33" width="4" height="3"/><rect x="86" y="0" width="4" height="3"/><rect x="0" y="42" width="3" height="3"/><rect x="6" y="8" width="5" height="3"/><rect x="59" y="61" width="6" height="4"/><rect x="59" y="-3" width="6" height="4"/><rect x="118" y="60" width="4" height="4"/><rect x="81" y="50" width="6" height="3"/><rect x="118" y="19" width="4" height="3"/><rect x="41" y="4" width="4" height="3"/><rect x="46" y="24" width="6" height="3"/><rect x="91" y="7" width="8" height="4"/><rect x="9" y="17" width="5" height="3"/><rect x="65" y="32" width="6" height="4"/><rect x="95" y="14" width="8" height="3"/><rect x="6" y="60" width="3" height="4"/><rect x="7" y="20" width="4" height="3"/><rect x="89" y="16" width="3" height="3"/><rect x="88" y="15" width="3" height="4"/><rect x="95" y="54" width="5" height="4"/><rect x="61" y="6" width="8" height="4"/><rect x="73" y="56" width="8" height="3"/><rect x="108" y="59" width="5" height="4"/><rect x="112" y="60" width="4" height="3"/><rect x="40" y="34" width="5" height="3"/><rect x="33" y="46" width="3" height="4"/><rect x="24" y="37" width="8" height="3"/><rect x="107" y="35" width="3" height="3"/><rect x="123" y="50" width="6" height="4"/><rect x="-5" y="50" width="6" height="4"/><rect x="20" y="15" width="6" height="3"/><rect x="102" y="10" width="3" height="4"/><rect x="38" y="54" width="4" height="3"/><rect x="58" y="18" width="3" height="4"/><rect x="75" y="39" width="6" height="4"/><rect x="54" y="1" width="5" height="3"/><rect x="123" y="18" width="3" height="3"/><rect x="34" y="14" width="4" height="3"/><rect x="39" y="27" width="3" height="4"/><rect x="46" y="6" width="5" height="3"/></g></pattern><pattern id="sp5" width="128" height="64" patternUnits="userSpaceOnUse" patternTransform="translate(91 8)"><g fill="#d3d3d3"><rect x="36" y="54" width="5" height="4"/><rect x="9" y="42" width="3" height="3"/><rect x="52" y="5" width="6" height="3"/><rect x="120" y="63" width="8" height="3"/><rect x="120" y="-1" width="8" height="3"/><rect x="106" y="26" width="5" height="3"/><rect x="40" y="58" width="3" height="3"/><rect x="82" y="7" width="8" height="3"/><rect x="61" y="17" width="6" height="3"/><rect x="72" y="31" width="8" height="4"/><rect x="81" y="21" width="4" height="4"/><rect x="67" y="31" width="8" height="4"/><rect x="107" y="28" width="5" height="4"/><rect x="30" y="12" width="6" height="3"/><rect x="62" y="53" width="4" height="3"/><rect x="124" y="46" width="6" height="4"/><rect x="-4" y="46" width="6" height="4"/><rect x="19" y="22" width="4" height="3"/><rect x="63" y="16" width="4" height="4"/><rect x="110" y="52" width="3" height="4"/><rect x="95" y="52" width="4" height="4"/><rect x="64" y="45" width="5" height="3"/><rect x="68" y="19" width="6" height="3"/><rect x="11" y="32" width="5" height="3"/><rect x="25" y="22" width="6" height="3"/><rect x="96" y="14" width="5" height="4"/><rect x="21" y="32" width="4" height="4"/><rect x="24" y="8" width="6" height="3"/><rect x="121" y="25" width="5" height="4"/><rect x="71" y="39" width="5" height="3"/><rect x="53" y="41" width="6" height="3"/><rect x="3" y="15" width="6" height="3"/><rect x="21" y="1" width="6" height="3"/><rect x="119" y="62" width="4" height="3"/><rect x="119" y="-2" width="4" height="3"/><rect x="8" y="53" width="5" height="3"/><rect x="66" y="17" width="6" height="3"/><rect x="31" y="16" width="5" height="4"/><rect x="23" y="22" width="5" height="4"/><rect x="24" y="11" width="8" height="4"/><rect x="40" y="38" width="4" height="3"/><rect x="75" y="37" width="5" height="4"/><rect x="9" y="60" width="3" height="3"/><rect x="30" y="20" width="4" height="3"/><rect x="105" y="56" width="8" height="4"/><rect x="12" y="20" width="3" height="3"/><rect x="112" y="17" width="5" height="3"/><rect x="71" y="42" width="6" height="3"/><rect x="107" y="0" width="3" height="3"/><rect x="96" y="11" width="6" height="4"/><rect x="89" y="34" width="4" height="3"/><rect x="46" y="52" width="8" height="4"/><rect x="52" y="54" width="5" height="4"/><rect x="65" y="7" width="6" height="3"/><rect x="35" y="25" width="6" height="3"/><rect x="125" y="0" width="8" height="4"/><rect x="-3" y="0" width="8" height="4"/><rect x="97" y="20" width="4" height="4"/><rect x="112" y="22" width="6" height="4"/><rect x="53" y="15" width="6" height="4"/><rect x="109" y="29" width="5" height="3"/><rect x="121" y="16" width="3" height="3"/><rect x="61" y="36" width="5" height="3"/><rect x="111" y="58" width="8" height="3"/><rect x="94" y="58" width="3" height="3"/><rect x="83" y="18" width="8" height="4"/><rect x="99" y="45" width="4" height="3"/><rect x="20" y="54" width="3" height="4"/><rect x="7" y="10" width="4" height="3"/><rect x="94" y="14" width="5" height="3"/><rect x="15" y="48" width="5" height="3"/><rect x="47" y="13" width="5" height="3"/><rect x="113" y="29" width="5" height="3"/><rect x="21" y="25" width="4" height="4"/><rect x="80" y="60" width="4" height="3"/><rect x="77" y="5" width="3" height="4"/><rect x="90" y="11" width="6" height="3"/><rect x="67" y="8" width="6" height="3"/><rect x="87" y="12" width="5" height="4"/><rect x="51" y="28" width="4" height="3"/><rect x="77" y="56" width="3" height="3"/><rect x="81" y="26" width="3" height="4"/><rect x="8" y="6" width="3" height="3"/><rect x="74" y="53" width="5" height="3"/><rect x="106" y="9" width="6" height="3"/><rect x="103" y="43" width="6" height="3"/><rect x="127" y="8" width="6" height="3"/><rect x="-1" y="8" width="6" height="3"/><rect x="105" y="34" width="3" height="3"/><rect x="102" y="37" width="8" height="3"/><rect x="116" y="5" width="5" height="3"/><rect x="125" y="48" width="5" height="4"/><rect x="-3" y="48" width="5" height="4"/><rect x="13" y="0" width="3" height="3"/><rect x="40" y="14" width="5" height="3"/><rect x="123" y="2" width="4" height="3"/><rect x="1" y="56" width="3" height="3"/><rect x="41" y="3" width="8" height="4"/><rect x="102" y="63" width="6" height="3"/><rect x="102" y="-1" width="6" height="3"/><rect x="98" y="34" width="3" height="3"/><rect x="36" y="38" width="8" height="3"/><rect x="13" y="6" width="6" height="4"/><rect x="33" y="48" width="8" height="3"/><rect x="42" y="34" width="3" height="4"/><rect x="28" y="39" width="4" height="3"/><rect x="84" y="28" width="6" height="3"/><rect x="70" y="10" width="6" height="4"/><rect x="118" y="7" width="6" height="4"/><rect x="19" y="4" width="8" height="4"/><rect x="63" y="43" width="6" height="3"/><rect x="97" y="59" width="4" height="3"/><rect x="32" y="34" width="3" height="3"/><rect x="28" y="23" width="8" height="4"/><rect x="105" y="60" width="5" height="3"/><rect x="34" y="39" width="8" height="3"/><rect x="58" y="31" width="3" height="4"/><rect x="123" y="44" width="4" height="3"/><rect x="4" y="16" width="5" height="3"/><rect x="10" y="30" width="3" height="3"/><rect x="30" y="10" width="3" height="3"/><rect x="26" y="56" width="5" height="4"/><rect x="120" y="16" width="5" height="4"/><rect x="69" y="41" width="5" height="4"/><rect x="65" y="27" width="4" height="3"/><rect x="29" y="4" width="4" height="3"/><rect x="85" y="9" width="6" height="4"/><rect x="100" y="7" width="3" height="3"/><rect x="124" y="6" width="8" height="4"/><rect x="-4" y="6" width="8" height="4"/><rect x="114" y="25" width="8" height="4"/><rect x="111" y="47" width="5" height="4"/><rect x="17" y="48" width="3" height="4"/><rect x="52" y="19" width="6" height="3"/><rect x="27" y="20" width="6" height="3"/><rect x="62" y="29" width="3" height="3"/><rect x="106" y="17" width="4" height="3"/><rect x="44" y="39" width="3" height="4"/><rect x="90" y="10" width="8" height="3"/><rect x="18" y="44" width="5" height="4"/><rect x="13" y="59" width="3" height="4"/><rect x="18" y="59" width="8" height="3"/><rect x="43" y="46" width="6" height="3"/><rect x="1" y="41" width="5" height="3"/><rect x="124" y="25" width="8" height="3"/><rect x="-4" y="25" width="8" height="3"/><rect x="53" y="59" width="3" height="4"/><rect x="2" y="41" width="6" height="4"/><rect x="101" y="40" width="5" height="3"/><rect x="24" y="39" width="5" height="3"/><rect x="31" y="11" width="6" height="4"/><rect x="108" y="45" width="8" height="4"/><rect x="50" y="38" width="3" height="3"/><rect x="3" y="38" width="4" height="3"/><rect x="74" y="43" width="6" height="4"/><rect x="68" y="45" width="6" height="4"/><rect x="89" y="36" width="3" height="3"/><rect x="79" y="48" width="8" height="3"/><rect x="33" y="31" width="3" height="3"/><rect x="40" y="13" width="3" height="4"/><rect x="118" y="17" width="8" height="3"/><rect x="68" y="7" width="6" height="3"/><rect x="17" y="2" width="6" height="3"/><rect x="55" y="21" width="5" height="3"/><rect x="109" y="40" width="5" height="3"/><rect x="64" y="45" width="8" height="3"/><rect x="19" y="61" width="3" height="4"/><rect x="19" y="-3" width="3" height="4"/><rect x="32" y="28" width="3" height="4"/><rect x="0" y="16" width="8" height="4"/><rect x="127" y="57" width="3" height="4"/><rect x="-1" y="57" width="3" height="4"/><rect x="114" y="34" width="6" height="3"/><rect x="1" y="59" width="3" height="4"/><rect x="45" y="53" width="3" height="3"/><rect x="32" y="52" width="5" height="4"/><rect x="70" y="36" width="8" height="4"/><rect x="21" y="50" width="5" height="3"/><rect x="48" y="0" width="5" height="3"/><rect x="124" y="7" width="3" height="3"/><rect x="12" y="42" width="6" height="3"/><rect x="75" y="34" width="8" height="3"/><rect x="56" y="2" width="4" height="3"/><rect x="40" y="63" width="4" height="3"/><rect x="40" y="-1" width="4" height="3"/><rect x="105" y="47" width="8" height="3"/><rect x="78" y="24" width="8" height="3"/><rect x="26" y="59" width="8" height="3"/><rect x="12" y="31" width="3" height="3"/><rect x="82" y="25" width="4" height="3"/><rect x="39" y="63" width="4" height="3"/><rect x="39" y="-1" width="4" height="3"/><rect x="126" y="6" width="3" height="3"/><rect x="-2" y="6" width="3" height="3"/><rect x="17" y="21" width="5" height="3"/><rect x="10" y="0" width="5" height="4"/><rect x="91" y="5" width="5" height="3"/><rect x="61" y="28" width="4" height="3"/><rect x="76" y="7" width="3" height="3"/><rect x="25" y="33" width="4" height="3"/><rect x="62" y="50" width="6" height="3"/><rect x="96" y="30" width="5" height="3"/><rect x="124" y="28" width="6" height="3"/><rect x="-4" y="28" width="6" height="3"/><rect x="123" y="36" width="4" height="3"/><rect x="22" y="44" width="4" height="4"/><rect x="30" y="6" width="6" height="3"/><rect x="99" y="30" width="6" height="4"/><rect x="115" y="26" width="4" height="3"/><rect x="32" y="60" width="3" height="3"/><rect x="121" y="53" width="3" height="3"/><rect x="3" y="17" width="3" height="4"/><rect x="6" y="32" width="5" height="3"/><rect x="77" y="57" width="8" height="3"/><rect x="125" y="3" width="4" height="3"/><rect x="-3" y="3" width="4" height="3"/><rect x="125" y="23" width="4" height="4"/><rect x="-3" y="23" width="4" height="4"/><rect x="55" y="40" width="6" height="4"/><rect x="14" y="56" width="5" height="3"/><rect x="112" y="17" width="6" height="3"/><rect x="110" y="37" width="5" height="3"/><rect x="77" y="8" width="4" height="3"/><rect x="37" y="8" width="8" height="4"/><rect x="20" y="53" width="5" height="3"/><rect x="21" y="48" width="6" height="3"/><rect x="112" y="7" width="6" height="4"/><rect x="104" y="18" width="3" height="4"/><rect x="16" y="17" width="6" height="4"/><rect x="20" y="54" width="3" height="4"/><rect x="27" y="9" width="3" height="3"/><rect x="113" y="20" width="8" height="3"/><rect x="12" y="2" width="5" height="4"/><rect x="110" y="12" width="4" height="3"/><rect x="17" y="33" width="4" height="4"/><rect x="55" y="44" width="4" height="3"/><rect x="52" y="60" width="6" height="4"/><rect x="4" y="52" width="4" height="3"/><rect x="102" y="19" width="3" height="3"/><rect x="87" y="31" width="3" height="3"/><rect x="51" y="35" width="4" height="4"/><rect x="74" y="33" width="8" height="4"/><rect x="54" y="44" width="4" height="3"/><rect x="6" y="32" width="4" height="4"/><rect x="29" y="5" width="3" height="3"/><rect x="63" y="30" width="8" height="4"/><rect x="48" y="18" width="3" height="3"/><rect x="48" y="46" width="6" height="3"/><rect x="44" y="31" width="3" height="4"/><rect x="82" y="12" width="8" height="3"/><rect x="72" y="31" width="6" height="4"/><rect x="57" y="3" width="6" height="3"/><rect x="30" y="55" width="4" height="3"/><rect x="75" y="4" width="4" height="4"/><rect x="60" y="37" width="4" height="4"/><rect x="112" y="39" width="3" height="4"/><rect x="5" y="50" width="3" height="3"/><rect x="120" y="22" width="8" height="3"/><rect x="58" y="35" width="8" height="3"/><rect x="49" y="10" width="4" height="3"/><rect x="44" y="61" width="4" height="4"/><rect x="44" y="-3" width="4" height="4"/><rect x="36" y="37" width="6" height="4"/><rect x="55" y="35" width="8" height="3"/><rect x="76" y="34" width="3" height="4"/><rect x="73" y="39" width="8" height="3"/><rect x="126" y="23" width="5" height="3"/><rect x="-2" y="23" width="5" height="3"/><rect x="126" y="43" width="5" height="3"/><rect x="-2" y="43" width="5" height="3"/><rect x="98" y="56" width="8" height="3"/><rect x="4" y="40" width="3" height="3"/><rect x="58" y="55" width="8" height="4"/><rect x="92" y="34" width="6" height="4"/><rect x="12" y="54" width="3" height="4"/><rect x="123" y="21" width="6" height="4"/><rect x="-5" y="21" width="6" height="4"/><rect x="91" y="38" width="6" height="4"/><rect x="39" y="22" width="4" height="3"/><rect x="56" y="37" width="4" height="3"/><rect x="115" y="0" width="3" height="4"/><rect x="114" y="9" width="8" height="3"/><rect x="91" y="47" width="6" height="3"/><rect x="29" y="60" width="6" height="3"/><rect x="108" y="41" width="8" height="3"/><rect x="69" y="43" width="4" height="4"/><rect x="11" y="30" width="8" height="4"/><rect x="73" y="63" width="6" height="3"/><rect x="73" y="-1" width="6" height="3"/><rect x="59" y="26" width="4" height="3"/><rect x="108" y="44" width="6" height="3"/><rect x="119" y="60" width="8" height="3"/><rect x="85" y="46" width="4" height="3"/><rect x="111" y="63" width="5" height="3"/><rect x="111" y="-1" width="5" height="3"/><rect x="67" y="48" width="5" height="4"/><rect x="102" y="54" width="6" height="3"/><rect x="111" y="29" width="8" height="3"/><rect x="49" y="11" width="4" height="4"/><rect x="3" y="6" width="5" height="3"/><rect x="45" y="63" width="5" height="3"/><rect x="45" y="-1" width="5" height="3"/><rect x="5" y="21" width="3" height="3"/><rect x="13" y="50" width="5" height="3"/><rect x="125" y="30" width="5" height="3"/><rect x="-3" y="30" width="5" height="3"/><rect x="8" y="30" width="8" height="3"/><rect x="92" y="61" width="6" height="3"/><rect x="109" y="61" width="3" height="3"/><rect x="40" y="62" width="4" height="3"/><rect x="40" y="-2" width="4" height="3"/><rect x="59" y="7" width="6" height="3"/><rect x="61" y="7" width="3" height="4"/><rect x="101" y="13" width="4" height="3"/><rect x="67" y="4" width="4" height="3"/><rect x="123" y="58" width="5" height="3"/><rect x="45" y="32" width="4" height="4"/><rect x="26" y="4" width="3" height="4"/><rect x="11" y="3" width="3" height="3"/><rect x="114" y="41" width="4" height="3"/><rect x="59" y="56" width="4" height="3"/><rect x="110" y="31" width="8" height="3"/><rect x="32" y="10" width="3" height="3"/><rect x="47" y="32" width="8" height="3"/><rect x="94" y="55" width="5" height="3"/><rect x="2" y="63" width="6" height="3"/><rect x="2" y="-1" width="6" height="3"/><rect x="31" y="51" width="6" height="3"/><rect x="104" y="40" width="5" height="4"/><rect x="91" y="50" width="3" height="4"/><rect x="1" y="61" width="4" height="3"/><rect x="37" y="58" width="5" height="4"/><rect x="103" y="2" width="8" height="3"/><rect x="110" y="54" width="4" height="3"/><rect x="26" y="62" width="8" height="3"/><rect x="26" y="-2" width="8" height="3"/><rect x="64" y="38" width="6" height="4"/><rect x="122" y="10" width="6" height="4"/><rect x="30" y="50" width="5" height="3"/><rect x="6" y="17" width="4" height="3"/><rect x="94" y="1" width="8" height="3"/><rect x="43" y="5" width="6" height="4"/><rect x="17" y="57" width="8" height="3"/><rect x="59" y="59" width="4" height="3"/><rect x="47" y="23" width="8" height="3"/><rect x="48" y="36" width="4" height="3"/><rect x="126" y="58" width="8" height="4"/><rect x="-2" y="58" width="8" height="4"/><rect x="122" y="52" width="6" height="4"/><rect x="93" y="25" width="6" height="4"/><rect x="63" y="13" width="3" height="4"/><rect x="73" y="31" width="3" height="4"/><rect x="111" y="45" width="8" height="3"/><rect x="44" y="38" width="6" height="3"/><rect x="81" y="59" width="3" height="3"/><rect x="114" y="8" width="5" height="4"/><rect x="5" y="52" width="6" height="4"/><rect x="114" y="36" width="6" height="4"/><rect x="68" y="53" width="5" height="3"/><rect x="109" y="46" width="4" height="4"/><rect x="71" y="60" width="5" height="3"/><rect x="19" y="9" width="8" height="3"/><rect x="39" y="8" width="5" height="3"/><rect x="45" y="12" width="5" height="3"/><rect x="126" y="42" width="6" height="3"/><rect x="-2" y="42" width="6" height="3"/><rect x="36" y="57" width="5" height="4"/><rect x="107" y="61" width="5" height="3"/><rect x="17" y="23" width="6" height="4"/><rect x="16" y="47" width="8" height="3"/><rect x="87" y="59" width="6" height="3"/><rect x="34" y="34" width="4" height="3"/><rect x="120" y="30" width="5" height="4"/><rect x="90" y="53" width="6" height="3"/><rect x="64" y="24" width="4" height="4"/><rect x="6" y="58" width="3" height="3"/><rect x="95" y="41" width="6" height="3"/><rect x="89" y="31" width="5" height="4"/><rect x="102" y="22" width="4" height="3"/><rect x="28" y="19" width="3" height="4"/><rect x="94" y="48" width="5" height="3"/><rect x="77" y="46" width="4" height="3"/><rect x="40" y="51" width="4" height="3"/><rect x="90" y="33" width="3" height="3"/><rect x="52" y="13" width="4" height="3"/><rect x="98" y="57" width="6" height="3"/><rect x="117" y="8" width="6" height="3"/><rect x="83" y="51" width="3" height="3"/><rect x="1" y="62" width="8" height="3"/><rect x="1" y="-2" width="8" height="3"/><rect x="2" y="62" width="3" height="3"/><rect x="2" y="-2" width="3" height="3"/><rect x="20" y="18" width="3" height="4"/><rect x="39" y="52" width="5" height="3"/><rect x="114" y="31" width="8" height="4"/><rect x="79" y="42" width="5" height="4"/><rect x="62" y="7" width="5" height="3"/><rect x="20" y="42" width="8" height="4"/><rect x="23" y="6" width="6" height="4"/><rect x="77" y="29" width="4" height="3"/><rect x="73" y="14" width="4" height="3"/><rect x="40" y="12" width="5" height="3"/><rect x="35" y="62" width="6" height="3"/><rect x="35" y="-2" width="6" height="3"/><rect x="111" y="39" width="4" height="3"/><rect x="7" y="4" width="5" height="3"/><rect x="27" y="55" width="6" height="3"/><rect x="39" y="9" width="8" height="4"/><rect x="111" y="17" width="6" height="3"/><rect x="37" y="61" width="5" height="4"/><rect x="37" y="-3" width="5" height="4"/><rect x="116" y="56" width="3" height="3"/><rect x="1" y="37" width="8" height="3"/><rect x="99" y="61" width="8" height="3"/><rect x="61" y="40" width="5" height="3"/><rect x="86" y="50" width="8" height="3"/><rect x="93" y="7" width="6" height="3"/><rect x="77" y="6" width="3" height="3"/><rect x="26" y="55" width="8" height="4"/><rect x="104" y="12" width="8" height="4"/><rect x="53" y="62" width="5" height="3"/><rect x="53" y="-2" width="5" height="3"/><rect x="59" y="7" width="6" height="3"/><rect x="42" y="60" width="4" height="4"/><rect x="99" y="48" width="8" height="3"/><rect x="6" y="59" width="6" height="3"/><rect x="38" y="10" width="4" height="3"/><rect x="116" y="10" width="8" height="4"/><rect x="125" y="36" width="3" height="4"/><rect x="105" y="22" width="8" height="3"/><rect x="127" y="4" width="5" height="3"/><rect x="-1" y="4" width="5" height="3"/><rect x="99" y="23" width="8" height="4"/><rect x="46" y="22" width="6" height="3"/><rect x="42" y="58" width="6" height="3"/><rect x="47" y="21" width="5" height="3"/><rect x="15" y="27" width="5" height="3"/><rect x="108" y="58" width="5" height="4"/><rect x="119" y="39" width="4" height="3"/><rect x="21" y="7" width="3" height="3"/><rect x="76" y="22" width="3" height="3"/><rect x="46" y="9" width="3" height="4"/><rect x="28" y="4" width="5" height="4"/><rect x="31" y="29" width="6" height="3"/><rect x="98" y="26" width="5" height="3"/><rect x="2" y="22" width="6" height="3"/><rect x="41" y="48" width="5" height="3"/><rect x="68" y="20" width="4" height="3"/><rect x="20" y="32" width="3" height="3"/><rect x="21" y="57" width="3" height="4"/><rect x="1" y="59" width="8" height="3"/><rect x="45" y="42" width="6" height="3"/><rect x="35" y="34" width="8" height="3"/><rect x="88" y="3" width="6" height="3"/><rect x="118" y="28" width="5" height="4"/><rect x="112" y="27" width="4" height="4"/><rect x="73" y="10" width="5" height="3"/><rect x="35" y="8" width="5" height="3"/><rect x="6" y="38" width="5" height="3"/><rect x="3" y="45" width="6" height="3"/><rect x="12" y="27" width="6" height="3"/><rect x="18" y="62" width="3" height="4"/><rect x="18" y="-2" width="3" height="4"/><rect x="22" y="38" width="8" height="3"/><rect x="39" y="61" width="4" height="3"/><rect x="122" y="35" width="5" height="3"/><rect x="111" y="33" width="4" height="4"/><rect x="52" y="48" width="5" height="4"/><rect x="76" y="40" width="8" height="4"/><rect x="68" y="45" width="5" height="3"/><rect x="45" y="12" width="4" height="3"/><rect x="125" y="43" width="6" height="4"/><rect x="-3" y="43" width="6" height="4"/><rect x="13" y="31" width="5" height="3"/><rect x="82" y="38" width="3" height="3"/><rect x="110" y="39" width="8" height="3"/><rect x="54" y="57" width="6" height="4"/><rect x="121" y="7" width="3" height="3"/><rect x="86" y="12" width="5" height="3"/><rect x="20" y="11" width="8" height="3"/><rect x="91" y="11" width="6" height="3"/><rect x="18" y="27" width="5" height="3"/><rect x="43" y="18" width="6" height="4"/><rect x="100" y="55" width="8" height="3"/><rect x="12" y="51" width="6" height="3"/><rect x="18" y="13" width="3" height="3"/><rect x="56" y="30" width="6" height="3"/><rect x="55" y="51" width="8" height="4"/><rect x="35" y="47" width="4" height="3"/><rect x="122" y="9" width="3" height="4"/><rect x="90" y="7" width="3" height="3"/><rect x="112" y="25" width="8" height="4"/><rect x="36" y="1" width="6" height="3"/></g></pattern></defs>
<polygon points="266.0,655.8 278.0,652.9 290.0,660.9 302.0,664.3 314.0,652.4 326.0,640.8 338.0,639.5 350.0,635.5 362.0,625.8 374.0,627.5 386.0,641.8 398.0,649.1 410.0,646.5 422.0,649.6 434.0,656.6 446.0,652.8 458.0,645.1 470.0,650.9 482.0,663.4 494.0,665.6 506.0,664.0 518.0,669.9 530.0,671.3 542.0,657.4 554.0,643.4 566.0,642.6 578.0,642.6 590.0,635.7 602.0,635.8 614.0,646.4 626.0,649.0 638.0,639.4 650.0,635.5 662.0,640.5 674.0,639.9 686.0,636.4 698.0,646.1 710.0,663.1 722.0,667.9 734.0,664.5 746.0,667.4 758.0,669.2 770.0,658.1 782.0,647.5 794.0,651.4 806.0,657.2 818.0,652.4 830.0,648.7 842.0,653.1 854.0,650.0 866.0,634.9 878.0,626.7 890.0,631.8 902.0,634.9 914.0,633.6 926.0,642.6 938.0,659.9 950.0,666.3 962.0,662.8 974.0,667.1 986.0,675.7 998.0,675.3 1010.0,676.2 1022.0,690.8 1034.0,706.4 1046.0,707.6 1058.0,704.7 1070.0,709.2 1082.0,709.4 1094.0,699.1 1106.0,695.8 1118.0,704.9 1130.0,712.6 1142.0,712.1 1154.0,717.3 1166.0,729.0 1178.0,729.9 1190.0,722.1 1202.0,724.9 1214.0,737.4 1226.0,743.4 1238.0,746.7 1250.0,760.3 1262.0,774.1 1274.0,771.5 1286.0,762.1 1298.0,760.1 1310.0,758.4 1322.0,747.8 1334.0,742.2 1346.0,750.6 1358.0,755.9 1370.0,748.4 1382.0,742.8 1394.0,745.2 1406.0,741.0 1418.0,730.3 1430.0,731.7 1442.0,745.9 1454.0,754.0 1466.0,751.5 1478.0,754.2 1490.0,758.0 1502.0,747.2 1514.0,730.8 1526.0,726.3 1538.0,726.2 1550.0,721.0 1562.0,717.1 1574.0,723.4 1586.0,725.2 1598.0,711.4 1610.0,697.7 1622.0,694.7 1634.0,689.9 1646.0,679.3 1658.0,680.4 1670.0,694.3 1682.0,701.2 1694.0,697.6 1706.0,699.4 1718.0,706.0 1730.0,702.5 1742.0,695.3 1754.0,701.8 1766.0,715.2 1778.0,718.1 1790.0,716.2 1802.0,721.5 1814.0,722.7 1826.0,708.8 1838.0,694.8 1850.0,694.4 1862.0,695.3 1874.0,688.8 1886.0,688.3 1898.0,698.0 1910.0,699.7 1922.0,689.0 1934.0,684.0 1946.0,688.9 1958.0,688.9 1970.0,685.9 1982.0,695.8 1994.0,712.8 2006.0,718.0 2018.0,715.0 2030.0,718.3 2042.0,721.3 2054.0,712.0 2066.0,703.1 2078.0,708.7 2090.0,716.3 2102.0,712.7 2114.0,706.5 2126.0,707.2 2138.0,701.0 2150.0,682.9 2162.0,671.6 2174.0,674.4 2186.0,675.5 2198.0,671.6 2210.0,677.3 2222.0,688.8 2234.0,687.8 2246.0,676.9 2258.0,674.1 2270.0,676.6 2282.0,670.6 2294.0,664.1 2306.0,671.9 2318.0,681.2 2330.0,675.6 2342.0,665.2 2354.0,662.8 2366.0,657.8 2378.0,642.7 2390.0,634.4 2402.0,641.5 2414.0,647.2 2426.0,643.8 2438.0,645.4 2450.0,653.6 2462.0,651.7 2474.0,641.3 2486.0,641.8 2498.0,652.7 2510.0,657.5 2522.0,658.8 2534.0,669.9 2546.0,681.1 2558.0,676.2 2570.0,664.8 2582.0,662.8 2594.0,661.9 2606.0,652.3 2618.0,647.1 2630.0,655.2 2642.0,660.3 2654.0,651.9 2666.0,644.9 2678.0,646.2 2690.0,641.9 2702.0,631.2 2714.0,632.6 2726.0,646.9 2738.0,655.3 2750.0,656.1 2762.0,663.6 2774.0,672.7 2786.0,667.8 2798.0,657.5 2810.0,659.3 2822.0,666.4 2834.0,664.3 2846.0,662.0 2858.0,669.3 2870.0,672.1 2882.0,659.2 2894.0,646.1 2906.0,644.3 2918.0,641.4 2930.0,632.8 2942.0,634.2 2954.0,647.9 2966.0,654.4 2978.0,649.8 2990.0,650.6 3002.0,656.9 3014.0,654.1 3026.0,647.7 3038.0,654.9 3050.0,669.3 3062.0,673.0 3074.0,671.0 3086.0,675.7 3098.0,677.0 3110.0,663.4 3122.0,649.8 3134.0,650.1 3146.0,652.0 3158.0,646.0 3170.0,645.1 3182.0,654.0 3194.0,655.0 3206.0,643.4 3218.0,637.8 3230.0,642.7 3242.0,643.5 3254.0,641.1 3266.0,651.2 3278.0,668.3 3290.0,673.1 3302.0,668.6 3314.0,670.5 3326.0,673.0 3338.0,663.9 3350.0,655.0 3362.0,660.5 3374.0,668.0 3386.0,663.6 3398.0,658.4 3410.0,660.8 3422.0,656.8 3434.0,641.1 3446.0,632.2 3458.0,637.9 3470.0,642.3 3482.0,641.1 3494.0,648.6 3506.0,662.7 3518.0,664.5 3530.0,656.4 3542.0,656.7 3554.0,663.4 3566.0,662.0 3578.0,659.6 3590.0,669.8 3602.0,680.8 3614.0,676.4 3626.0,666.8 3637.0,664.9 3637.0,960.0 266.0,960.0" fill="url(#sp0)"/>
<polygon points="266.0,670.6 278.0,671.2 290.0,678.4 302.0,678.5 314.0,670.0 326.0,667.3 338.0,671.9 350.0,672.6 362.0,671.7 374.0,680.4 386.0,692.8 398.0,694.7 410.0,690.5 422.0,691.6 434.0,692.1 446.0,684.0 458.0,677.7 470.0,682.3 482.0,687.0 494.0,682.8 506.0,679.1 518.0,681.0 530.0,677.3 542.0,665.7 554.0,661.0 566.0,666.8 578.0,670.4 590.0,670.3 602.0,677.3 614.0,687.6 626.0,687.7 638.0,681.4 650.0,682.2 662.0,686.7 674.0,684.7 686.0,683.1 698.0,690.8 710.0,697.4 722.0,692.3 734.0,684.7 746.0,683.1 758.0,678.8 770.0,667.9 782.0,663.7 794.0,670.5 806.0,674.9 818.0,672.2 830.0,673.6 842.0,679.2 854.0,676.9 866.0,669.6 878.0,671.6 890.0,680.8 902.0,684.5 914.0,685.6 926.0,693.6 938.0,702.0 950.0,699.7 962.0,694.0 974.0,696.3 986.0,699.2 998.0,695.9 1010.0,697.9 1022.0,709.4 1034.0,717.1 1046.0,714.6 1058.0,714.3 1070.0,720.3 1082.0,722.2 1094.0,720.3 1106.0,728.2 1118.0,742.2 1130.0,750.2 1142.0,752.5 1154.0,759.7 1166.0,767.3 1178.0,764.4 1190.0,759.0 1202.0,763.5 1214.0,771.2 1226.0,771.4 1238.0,771.8 1250.0,778.9 1262.0,781.2 1274.0,772.3 1286.0,764.5 1298.0,764.2 1310.0,763.0 1322.0,757.9 1334.0,760.8 1346.0,771.7 1358.0,775.8 1370.0,771.7 1382.0,772.5 1394.0,777.1 1406.0,775.0 1418.0,771.3 1430.0,778.3 1442.0,789.2 1454.0,790.8 1466.0,784.9 1478.0,782.3 1490.0,776.4 1502.0,760.1 1514.0,745.6 1526.0,742.0 1538.0,738.9 1550.0,733.0 1562.0,732.0 1574.0,737.4 1586.0,735.8 1598.0,725.7 1610.0,721.5 1622.0,725.3 1634.0,725.6 1646.0,724.0 1658.0,732.3 1670.0,744.6 1682.0,746.3 1694.0,741.6 1706.0,742.3 1718.0,743.2 1730.0,735.9 1742.0,730.2 1754.0,735.2 1766.0,740.3 1778.0,736.0 1790.0,731.5 1802.0,732.6 1814.0,728.4 1826.0,716.7 1838.0,711.8 1850.0,717.8 1862.0,721.7 1874.0,721.4 1886.0,727.5 1898.0,737.2 1910.0,736.9 1922.0,730.2 1934.0,731.0 1946.0,736.1 1958.0,735.1 1970.0,734.0 1982.0,741.7 1994.0,748.5 2006.0,743.6 2018.0,736.3 2030.0,735.4 2042.0,732.4 2054.0,723.0 2066.0,719.8 2078.0,727.6 2090.0,732.9 2102.0,730.5 2114.0,729.1 2126.0,731.3 2138.0,726.2 2150.0,716.3 2162.0,715.8 2174.0,723.0 2186.0,724.7 2198.0,723.3 2210.0,728.3 2222.0,731.5 2234.0,722.4 2246.0,709.8 2258.0,705.6 2270.0,702.6 2282.0,693.2 2294.0,687.4 2306.0,692.0 2318.0,693.1 2330.0,683.7 2342.0,676.2 2354.0,676.0 2366.0,673.2 2378.0,666.7 2390.0,670.0 2402.0,682.0 2414.0,687.9 2426.0,687.5 2438.0,691.9 2450.0,697.2 2462.0,692.5 2474.0,685.4 2486.0,688.5 2498.0,694.9 2510.0,693.8 2522.0,691.9 2534.0,696.4 2546.0,696.4 2558.0,685.1 2570.0,675.3 2582.0,675.0 2594.0,674.1 2606.0,669.1 2618.0,671.7 2630.0,682.0 2642.0,685.3 2654.0,680.4 2666.0,680.3 2678.0,684.8 2690.0,683.1 2702.0,679.9 2714.0,687.1 2726.0,698.4 2738.0,700.1 2750.0,697.3 2762.0,699.3 2774.0,698.6 2786.0,687.8 2798.0,678.7 2810.0,680.6 2822.0,683.2 2834.0,679.1 2846.0,678.5 2858.0,684.0 2870.0,682.9 2882.0,673.2 2894.0,669.5 2906.0,674.6 2918.0,676.5 2930.0,676.3 2942.0,684.9 2954.0,697.1 2966.0,698.7 2978.0,693.8 2990.0,694.4 3002.0,696.0 3014.0,689.7 3026.0,684.7 3038.0,690.3 3050.0,696.0 3062.0,691.6 3074.0,686.5 3086.0,687.0 3098.0,682.8 3110.0,671.1 3122.0,666.3 3134.0,672.6 3146.0,676.9 3158.0,676.5 3170.0,682.0 3182.0,691.1 3194.0,690.6 3206.0,683.8 3218.0,684.8 3230.0,690.8 3242.0,690.9 3254.0,690.3 3266.0,698.3 3278.0,705.2 3290.0,699.9 3302.0,691.3 3314.0,689.3 3326.0,685.8 3338.0,676.1 3350.0,672.2 3362.0,679.2 3374.0,683.5 3386.0,679.6 3398.0,678.8 3410.0,683.0 3422.0,680.5 3434.0,673.2 3446.0,675.6 3458.0,686.1 3470.0,691.0 3482.0,692.2 3494.0,699.5 3506.0,705.8 3518.0,700.1 3530.0,691.0 3542.0,690.5 3554.0,691.7 3566.0,686.5 3578.0,684.1 3590.0,690.4 3602.0,692.5 3614.0,683.9 3626.0,677.0 3637.0,677.3 3637.0,960.0 266.0,960.0" fill="url(#sp1)"/>
<polygon points="266.0,720.9 278.0,713.2 290.0,707.0 302.0,707.5 314.0,707.9 326.0,705.1 338.0,706.3 350.0,711.7 362.0,712.4 374.0,707.7 386.0,706.7 398.0,709.7 410.0,709.6 422.0,708.8 434.0,714.5 446.0,722.2 458.0,723.1 470.0,720.5 482.0,721.3 494.0,720.9 506.0,714.8 518.0,710.2 530.0,712.8 542.0,715.2 554.0,712.5 566.0,710.9 578.0,712.9 590.0,710.8 602.0,703.7 614.0,701.2 626.0,705.1 638.0,707.2 650.0,707.4 662.0,712.5 674.0,719.6 686.0,719.7 698.0,715.8 710.0,716.3 722.0,718.4 734.0,716.0 746.0,714.3 758.0,718.9 770.0,722.8 782.0,719.3 794.0,714.8 806.0,714.1 818.0,711.1 830.0,703.9 842.0,701.3 854.0,705.9 866.0,708.8 878.0,707.7 890.0,709.8 902.0,714.2 914.0,712.9 926.0,708.3 938.0,711.4 950.0,720.2 962.0,725.3 974.0,729.3 986.0,738.0 998.0,745.6 1010.0,745.6 1022.0,744.0 1034.0,747.2 1046.0,750.3 1058.0,749.5 1070.0,752.1 1082.0,761.0 1094.0,767.3 1106.0,767.4 1118.0,767.0 1130.0,770.3 1142.0,770.3 1154.0,767.9 1166.0,772.2 1178.0,781.7 1190.0,787.2 1202.0,789.5 1214.0,795.2 1226.0,800.5 1238.0,798.6 1250.0,795.2 1262.0,798.1 1274.0,802.4 1286.0,801.8 1298.0,800.8 1310.0,804.4 1322.0,804.8 1334.0,798.1 1346.0,792.7 1358.0,792.8 1370.0,791.8 1382.0,788.6 1394.0,791.2 1406.0,798.8 1418.0,801.8 1430.0,800.0 1442.0,801.3 1454.0,804.3 1466.0,799.4 1478.0,792.0 1490.0,791.6 1502.0,793.4 1514.0,789.3 1526.0,783.4 1538.0,780.9 1550.0,778.7 1562.0,770.4 1574.0,763.6 1586.0,763.7 1598.0,763.8 1610.0,760.5 1622.0,760.7 1634.0,765.0 1646.0,764.6 1658.0,759.2 1670.0,757.7 1682.0,760.8 1694.0,761.1 1706.0,760.5 1718.0,766.1 1730.0,773.8 1742.0,774.7 1754.0,771.8 1766.0,772.3 1778.0,772.1 1790.0,766.4 1802.0,762.1 1814.0,764.9 1826.0,767.6 1838.0,764.7 1850.0,762.5 1862.0,763.9 1874.0,761.5 1886.0,754.2 1898.0,751.5 1910.0,755.4 1922.0,757.7 1934.0,757.8 1946.0,762.6 1958.0,769.2 1970.0,769.1 1982.0,764.9 1994.0,765.3 2006.0,768.3 2018.0,767.5 2030.0,767.1 2042.0,772.8 2054.0,777.7 2066.0,775.0 2078.0,771.1 2090.0,771.0 2102.0,769.0 2114.0,760.3 2126.0,755.2 2138.0,757.3 2150.0,757.6 2162.0,753.5 2174.0,752.3 2186.0,753.5 2198.0,749.5 2210.0,742.2 2222.0,740.4 2234.0,742.9 2246.0,741.6 2258.0,738.9 2270.0,740.7 2282.0,741.3 2294.0,733.8 2306.0,725.9 2318.0,723.6 2330.0,721.5 2342.0,715.5 2354.0,713.0 2366.0,717.4 2378.0,719.2 2390.0,714.7 2402.0,711.8 2414.0,712.9 2426.0,711.0 2438.0,706.9 2450.0,709.3 2462.0,717.1 2474.0,720.8 2486.0,721.0 2498.0,724.4 2510.0,727.7 2522.0,724.1 2534.0,719.0 2546.0,720.4 2558.0,723.5 2570.0,721.9 2582.0,720.7 2594.0,723.9 2606.0,723.9 2618.0,716.7 2630.0,710.9 2642.0,710.9 2654.0,710.0 2666.0,706.9 2678.0,709.1 2690.0,716.4 2702.0,719.0 2714.0,716.6 2726.0,717.3 2738.0,720.2 2750.0,718.5 2762.0,715.9 2774.0,720.2 2786.0,726.7 2798.0,727.3 2810.0,725.5 2822.0,727.0 2834.0,726.2 2846.0,718.6 2858.0,712.6 2870.0,713.6 2882.0,714.7 2894.0,712.1 2906.0,712.5 2918.0,717.0 2930.0,716.9 2942.0,711.4 2954.0,709.7 2966.0,713.1 2978.0,713.9 2990.0,713.6 3002.0,719.4 3014.0,727.2 3026.0,728.1 3038.0,725.1 3050.0,725.5 3062.0,725.8 3074.0,720.7 3086.0,716.9 3098.0,720.1 3110.0,723.2 3122.0,720.4 3134.0,717.8 3146.0,718.8 3158.0,716.3 3170.0,709.0 3182.0,706.3 3194.0,710.5 3206.0,713.2 3218.0,713.3 3230.0,717.8 3242.0,724.2 3254.0,724.0 3266.0,719.8 3278.0,720.3 3290.0,723.4 3302.0,722.4 3314.0,721.5 3326.0,726.5 3338.0,730.5 3350.0,726.8 3362.0,721.6 3374.0,720.5 3386.0,717.8 3398.0,711.1 3410.0,708.8 3422.0,713.6 3434.0,716.5 3446.0,714.7 3458.0,715.5 3470.0,718.9 3482.0,717.4 3494.0,712.9 3506.0,714.5 3518.0,720.8 3530.0,723.3 3542.0,724.0 3554.0,728.9 3566.0,732.8 3578.0,728.7 3590.0,722.6 3602.0,721.9 3614.0,721.7 3626.0,717.6 3637.0,715.9 3637.0,960.0 266.0,960.0" fill="url(#sp2)"/>
<polygon points="266.0,733.9 278.0,731.5 290.0,729.7 302.0,732.5 314.0,736.1 326.0,736.1 338.0,735.5 350.0,737.3 362.0,738.1 374.0,735.8 386.0,735.4 398.0,739.1 410.0,741.7 422.0,741.3 434.0,742.0 446.0,743.8 458.0,741.9 470.0,737.0 482.0,735.0 494.0,735.7 506.0,734.6 518.0,733.0 530.0,734.8 542.0,737.1 554.0,735.3 566.0,732.4 578.0,732.9 590.0,733.9 602.0,732.8 614.0,733.5 626.0,738.2 638.0,741.8 650.0,741.4 662.0,741.0 674.0,742.4 686.0,741.2 698.0,737.5 710.0,736.8 722.0,739.2 734.0,739.5 746.0,737.6 758.0,737.7 770.0,738.3 782.0,735.1 794.0,730.8 806.0,730.6 818.0,732.4 830.0,732.2 842.0,732.8 854.0,736.9 866.0,739.9 878.0,738.5 890.0,737.1 902.0,738.7 914.0,739.3 926.0,737.7 938.0,740.4 950.0,747.7 962.0,752.3 974.0,753.3 986.0,755.4 998.0,758.7 1010.0,759.2 1022.0,758.9 1034.0,762.9 1046.0,769.3 1058.0,773.2 1070.0,776.3 1082.0,782.2 1094.0,787.5 1106.0,788.7 1118.0,788.4 1130.0,792.4 1142.0,796.8 1154.0,798.8 1166.0,802.2 1178.0,808.1 1190.0,811.0 1202.0,809.7 1214.0,809.4 1226.0,811.4 1238.0,811.4 1250.0,810.2 1262.0,812.7 1274.0,817.1 1286.0,817.7 1298.0,815.0 1310.0,814.6 1322.0,814.8 1334.0,812.1 1346.0,810.2 1358.0,813.1 1370.0,817.1 1382.0,818.0 1394.0,819.2 1406.0,822.5 1418.0,823.5 1430.0,820.6 1442.0,819.3 1454.0,821.5 1466.0,819.8 1478.0,814.6 1490.0,811.7 1502.0,810.2 1514.0,804.8 1526.0,796.4 1538.0,790.5 1550.0,789.4 1562.0,786.8 1574.0,784.7 1586.0,787.0 1598.0,790.2 1610.0,789.6 1622.0,788.2 1634.0,789.4 1646.0,789.8 1658.0,787.5 1670.0,787.2 1682.0,791.1 1694.0,793.9 1706.0,793.5 1718.0,793.9 1730.0,795.5 1742.0,793.6 1754.0,788.7 1766.0,786.7 1778.0,787.5 1790.0,786.6 1802.0,784.9 1814.0,786.4 1826.0,788.4 1838.0,786.3 1850.0,783.0 1862.0,783.2 1874.0,784.3 1886.0,783.3 1898.0,784.0 1910.0,788.6 1922.0,792.2 1934.0,791.6 1946.0,791.0 1958.0,792.2 1970.0,791.2 1982.0,787.7 1994.0,787.1 2006.0,790.2 2018.0,791.6 2030.0,790.5 2042.0,791.2 2054.0,792.6 2066.0,790.2 2078.0,786.7 2090.0,787.4 2102.0,790.3 2114.0,788.4 2126.0,786.3 2138.0,787.5 2150.0,787.7 2162.0,783.5 2174.0,779.3 2186.0,778.3 2198.0,776.6 2210.0,772.7 2222.0,770.5 2234.0,771.1 2246.0,769.0 2258.0,763.0 2270.0,758.1 2282.0,754.4 2294.0,748.0 2306.0,742.0 2318.0,740.8 2330.0,742.1 2342.0,740.7 2354.0,738.7 2366.0,740.2 2378.0,741.4 2390.0,738.8 2402.0,736.8 2414.0,739.1 2426.0,742.0 2438.0,742.5 2450.0,744.2 2462.0,748.2 2474.0,749.3 2486.0,746.2 2498.0,744.2 2510.0,744.6 2522.0,743.3 2534.0,740.6 2546.0,741.3 2558.0,744.0 2570.0,743.2 2582.0,740.0 2594.0,739.2 2606.0,739.1 2618.0,736.3 2630.0,734.3 2642.0,737.2 2654.0,741.1 2666.0,741.9 2678.0,742.6 2690.0,745.5 2702.0,746.4 2714.0,743.5 2726.0,742.1 2738.0,744.4 2750.0,745.7 2762.0,744.6 2774.0,745.4 2786.0,747.7 2798.0,746.0 2810.0,741.3 2822.0,739.1 2834.0,739.1 2846.0,737.1 2858.0,735.4 2870.0,738.0 2882.0,741.4 2894.0,741.0 2906.0,739.6 2918.0,740.9 2930.0,741.8 2942.0,739.9 2954.0,739.9 2966.0,744.1 2978.0,747.3 2990.0,747.0 3002.0,747.3 3014.0,748.9 3026.0,747.2 3038.0,742.5 3050.0,740.7 3062.0,742.0 3074.0,741.4 3086.0,739.8 3098.0,741.1 3110.0,743.0 3122.0,740.8 3134.0,737.3 3146.0,737.5 3158.0,738.9 3170.0,738.2 3182.0,739.0 3194.0,743.7 3206.0,747.4 3218.0,746.7 3230.0,746.0 3242.0,747.4 3254.0,746.7 3266.0,743.6 3278.0,743.4 3290.0,746.3 3302.0,747.0 3314.0,744.9 3326.0,744.5 3338.0,744.8 3350.0,741.4 3362.0,737.0 3374.0,736.8 3386.0,738.9 3398.0,739.0 3410.0,739.4 3422.0,742.9 3434.0,745.5 3446.0,743.9 3458.0,742.2 3470.0,743.9 3482.0,745.2 3494.0,744.3 3506.0,745.6 3518.0,749.7 3530.0,750.9 3542.0,748.1 3554.0,746.4 3566.0,746.1 3578.0,743.2 3590.0,739.3 3602.0,739.6 3614.0,742.3 3626.0,742.2 3637.0,740.9 3637.0,960.0 266.0,960.0" fill="url(#sp3)"/>
<polygon points="266.0,755.0 278.0,753.8 290.0,754.7 302.0,756.4 314.0,756.7 326.0,756.8 338.0,758.2 350.0,758.7 362.0,756.8 374.0,755.0 386.0,754.8 398.0,754.5 410.0,753.1 422.0,753.1 434.0,754.6 446.0,754.9 458.0,753.5 470.0,753.0 482.0,753.6 494.0,753.0 506.0,752.2 518.0,753.6 530.0,756.0 542.0,756.7 554.0,756.7 566.0,757.6 578.0,758.1 590.0,756.5 602.0,755.1 614.0,755.6 626.0,756.3 638.0,755.6 650.0,755.3 662.0,756.2 674.0,755.7 686.0,753.5 698.0,752.1 710.0,752.5 722.0,752.4 734.0,751.9 746.0,753.2 758.0,755.4 770.0,755.9 782.0,755.1 794.0,755.5 806.0,756.2 818.0,755.5 830.0,754.9 842.0,756.4 854.0,758.0 866.0,757.6 878.0,756.9 890.0,757.1 902.0,756.3 914.0,753.9 926.0,752.5 938.0,754.9 950.0,758.8 962.0,761.7 974.0,765.8 986.0,770.8 998.0,774.0 1010.0,776.0 1022.0,779.6 1034.0,784.4 1046.0,788.3 1058.0,792.0 1070.0,797.6 1082.0,803.1 1094.0,806.3 1106.0,808.6 1118.0,810.2 1130.0,811.5 1142.0,811.3 1154.0,812.1 1166.0,814.9 1178.0,817.1 1190.0,817.7 1202.0,818.7 1214.0,820.6 1226.0,821.3 1238.0,821.0 1250.0,822.6 1262.0,825.8 1274.0,828.3 1286.0,829.8 1298.0,831.5 1310.0,833.3 1322.0,832.8 1334.0,831.6 1346.0,832.1 1358.0,832.9 1370.0,832.5 1382.0,832.4 1394.0,834.0 1406.0,834.8 1418.0,833.3 1430.0,831.9 1442.0,831.7 1454.0,830.9 1466.0,826.9 1478.0,823.5 1490.0,821.8 1502.0,819.2 1514.0,815.3 1526.0,812.4 1538.0,809.9 1550.0,808.5 1562.0,807.2 1574.0,807.9 1586.0,809.6 1598.0,809.9 1610.0,809.8 1622.0,810.9 1634.0,811.2 1646.0,809.2 1658.0,807.2 1670.0,807.1 1682.0,806.8 1694.0,805.5 1706.0,805.3 1718.0,806.7 1730.0,806.8 1742.0,805.2 1754.0,804.4 1766.0,804.8 1778.0,804.3 1790.0,803.5 1802.0,804.8 1814.0,807.1 1826.0,807.8 1838.0,807.6 1850.0,808.3 1862.0,808.8 1874.0,807.2 1886.0,805.8 1898.0,806.4 1910.0,807.2 1922.0,806.4 1934.0,806.0 1946.0,806.7 1958.0,806.1 1970.0,803.7 1982.0,802.2 1994.0,802.5 2006.0,802.9 2018.0,803.3 2030.0,805.5 2042.0,808.6 2054.0,809.9 2066.0,809.9 2078.0,811.1 2090.0,812.8 2102.0,813.1 2114.0,810.9 2126.0,809.9 2138.0,808.9 2150.0,805.9 2162.0,802.5 2174.0,800.0 2186.0,796.6 2198.0,791.6 2210.0,787.6 2222.0,785.1 2234.0,782.2 2246.0,778.2 2258.0,775.3 2270.0,773.2 2282.0,769.5 2294.0,764.6 2306.0,762.7 2318.0,762.6 2330.0,761.6 2342.0,760.5 2354.0,761.5 2366.0,763.4 2378.0,763.0 2390.0,761.8 2402.0,761.8 2414.0,761.6 2426.0,760.0 2438.0,759.2 2450.0,760.4 2462.0,761.1 2474.0,760.0 2486.0,759.2 2498.0,759.4 2510.0,758.4 2522.0,756.5 2534.0,756.4 2546.0,758.1 2558.0,759.0 2570.0,759.2 2582.0,760.6 2594.0,762.2 2606.0,761.6 2618.0,760.3 2630.0,760.7 2642.0,761.5 2654.0,761.1 2666.0,761.0 2678.0,762.5 2690.0,763.1 2702.0,761.4 2714.0,759.7 2726.0,759.4 2738.0,758.6 2750.0,756.9 2762.0,756.9 2774.0,758.6 2786.0,759.4 2798.0,758.8 2810.0,759.1 2822.0,760.0 2834.0,759.4 2846.0,758.3 2858.0,759.3 2870.0,761.3 2882.0,761.8 2894.0,761.9 2906.0,763.2 2918.0,763.7 2930.0,761.9 2942.0,760.1 2954.0,760.1 2966.0,760.1 2978.0,759.0 2990.0,759.0 3002.0,760.3 3014.0,760.4 3026.0,758.8 3038.0,758.0 3050.0,758.5 3062.0,758.1 3074.0,757.5 3086.0,758.9 3098.0,761.4 3110.0,762.2 3122.0,762.0 3134.0,762.7 3146.0,763.3 3158.0,762.0 3170.0,760.8 3182.0,761.6 3194.0,762.7 3206.0,762.1 3218.0,761.7 3230.0,762.4 3242.0,761.8 3254.0,759.5 3266.0,758.1 3278.0,758.5 3290.0,758.6 3302.0,758.2 3314.0,759.3 3326.0,761.4 3338.0,761.8 3350.0,760.8 3362.0,761.0 3374.0,761.9 3386.0,761.5 3398.0,761.2 3410.0,762.9 3422.0,764.7 3434.0,764.4 3446.0,763.5 3458.0,763.6 3470.0,763.0 3482.0,760.7 3494.0,759.4 3506.0,760.3 3518.0,760.8 3530.0,760.1 3542.0,760.4 3554.0,761.5 3566.0,761.0 3578.0,759.3 3590.0,759.3 3602.0,760.7 3614.0,761.3 3626.0,761.5 3637.0,763.3 3637.0,960.0 266.0,960.0" fill="url(#sp4)"/>
<polygon points="266.0,765.0 278.0,765.0 290.0,765.0 302.0,765.0 314.0,765.0 326.0,765.0 338.0,765.0 350.0,765.0 362.0,765.0 374.0,765.0 386.0,765.0 398.0,765.0 410.0,765.0 422.0,765.0 434.0,765.0 446.0,765.0 458.0,765.0 470.0,765.0 482.0,765.0 494.0,765.0 506.0,765.0 518.0,765.0 530.0,765.0 542.0,765.0 554.0,765.0 566.0,765.0 578.0,765.0 590.0,765.0 602.0,765.0 614.0,765.0 626.0,765.0 638.0,765.0 650.0,765.0 662.0,765.0 674.0,765.0 686.0,765.0 698.0,765.0 710.0,765.0 722.0,765.0 734.0,765.0 746.0,765.0 758.0,765.0 770.0,765.0 782.0,765.0 794.0,765.0 806.0,765.0 818.0,765.0 830.0,765.0 842.0,765.0 854.0,765.0 866.0,765.0 878.0,765.0 890.0,765.0 902.0,765.0 914.0,765.0 926.0,765.0 938.0,766.8 950.0,770.3 962.0,773.8 974.0,777.4 986.0,780.9 998.0,784.4 1010.0,787.9 1022.0,791.3 1034.0,794.7 1046.0,798.1 1058.0,801.6 1070.0,805.0 1082.0,808.4 1094.0,811.9 1106.0,815.1 1118.0,816.7 1130.0,818.2 1142.0,819.8 1154.0,821.3 1166.0,822.9 1178.0,824.4 1190.0,826.0 1202.0,827.5 1214.0,829.1 1226.0,830.6 1238.0,832.2 1250.0,833.7 1262.0,835.3 1274.0,836.8 1286.0,838.0 1298.0,838.2 1310.0,838.3 1322.0,838.4 1334.0,838.6 1346.0,838.7 1358.0,838.9 1370.0,839.0 1382.0,839.1 1394.0,839.3 1406.0,839.4 1418.0,839.5 1430.0,839.7 1442.0,839.8 1454.0,840.0 1466.0,837.9 1478.0,834.6 1490.0,831.4 1502.0,828.2 1514.0,825.0 1526.0,821.8 1538.0,818.5 1550.0,817.9 1562.0,817.9 1574.0,817.8 1586.0,817.7 1598.0,817.6 1610.0,817.5 1622.0,817.5 1634.0,817.4 1646.0,817.3 1658.0,817.2 1670.0,817.2 1682.0,817.1 1694.0,817.0 1706.0,816.9 1718.0,816.8 1730.0,816.8 1742.0,816.7 1754.0,816.6 1766.0,816.5 1778.0,816.4 1790.0,816.4 1802.0,816.3 1814.0,816.2 1826.0,816.1 1838.0,816.1 1850.0,816.0 1862.0,815.9 1874.0,815.8 1886.0,815.7 1898.0,815.7 1910.0,815.6 1922.0,815.5 1934.0,815.4 1946.0,815.4 1958.0,815.3 1970.0,815.2 1982.0,815.1 1994.0,815.0 2006.0,815.5 2018.0,816.4 2030.0,817.3 2042.0,818.2 2054.0,819.1 2066.0,820.0 2078.0,820.9 2090.0,821.9 2102.0,822.8 2114.0,821.0 2126.0,818.4 2138.0,815.8 2150.0,813.1 2162.0,810.5 2174.0,807.9 2186.0,805.3 2198.0,802.6 2210.0,800.0 2222.0,796.7 2234.0,793.4 2246.0,790.1 2258.0,786.8 2270.0,783.4 2282.0,780.1 2294.0,776.8 2306.0,775.0 2318.0,773.6 2330.0,772.3 2342.0,770.9 2354.0,770.0 2366.0,770.0 2378.0,770.0 2390.0,770.0 2402.0,770.0 2414.0,770.0 2426.0,770.0 2438.0,770.0 2450.0,770.0 2462.0,770.0 2474.0,770.0 2486.0,770.0 2498.0,770.0 2510.0,770.0 2522.0,770.0 2534.0,770.0 2546.0,770.0 2558.0,770.0 2570.0,770.0 2582.0,770.0 2594.0,770.0 2606.0,770.0 2618.0,770.0 2630.0,770.0 2642.0,770.0 2654.0,770.0 2666.0,770.0 2678.0,770.0 2690.0,770.0 2702.0,770.0 2714.0,770.0 2726.0,770.0 2738.0,770.0 2750.0,770.0 2762.0,770.0 2774.0,770.0 2786.0,770.0 2798.0,770.0 2810.0,770.0 2822.0,770.0 2834.0,770.0 2846.0,770.0 2858.0,770.0 2870.0,770.0 2882.0,770.0 2894.0,770.0 2906.0,770.0 2918.0,770.0 2930.0,770.1 2942.0,770.1 2954.0,770.1 2966.0,770.2 2978.0,770.2 2990.0,770.2 3002.0,770.3 3014.0,770.3 3026.0,770.3 3038.0,770.4 3050.0,770.4 3062.0,770.4 3074.0,770.5 3086.0,770.5 3098.0,770.5 3110.0,770.6 3122.0,770.6 3134.0,770.6 3146.0,770.7 3158.0,770.7 3170.0,770.7 3182.0,770.8 3194.0,770.8 3206.0,770.8 3218.0,770.9 3230.0,770.9 3242.0,770.9 3254.0,771.0 3266.0,771.0 3278.0,771.0 3290.0,771.1 3302.0,771.1 3314.0,771.1 3326.0,771.2 3338.0,771.2 3350.0,771.2 3362.0,771.3 3374.0,771.3 3386.0,771.3 3398.0,771.4 3410.0,771.4 3422.0,771.4 3434.0,771.4 3446.0,771.5 3458.0,771.5 3470.0,771.5 3482.0,771.6 3494.0,771.6 3506.0,771.6 3518.0,771.7 3530.0,771.7 3542.0,771.7 3554.0,771.8 3566.0,771.8 3578.0,771.8 3590.0,771.9 3602.0,771.9 3614.0,771.9 3626.0,772.0 3637.0,772.0 3637.0,960.0 266.0,960.0" fill="url(#sp5)"/>
<polygon points="266.0,790.0 278.0,790.0 290.0,790.0 302.0,790.0 314.0,790.0 326.0,790.0 338.0,790.0 350.0,790.0 362.0,790.0 374.0,790.0 386.0,790.0 398.0,790.0 410.0,790.0 422.0,790.0 434.0,790.0 446.0,790.0 458.0,790.0 470.0,790.0 482.0,790.0 494.0,790.0 506.0,790.0 518.0,790.0 530.0,790.0 542.0,790.0 554.0,790.0 566.0,790.0 578.0,790.0 590.0,790.0 602.0,790.0 614.0,790.0 626.0,790.0 638.0,790.0 650.0,790.0 662.0,790.0 674.0,790.0 686.0,790.0 698.0,790.0 710.0,790.0 722.0,790.0 734.0,790.0 746.0,790.0 758.0,790.0 770.0,790.0 782.0,790.0 794.0,790.0 806.0,790.0 818.0,790.0 830.0,790.0 842.0,790.0 854.0,790.0 866.0,790.0 878.0,790.0 890.0,790.0 902.0,790.0 914.0,790.0 926.0,790.0 938.0,791.8 950.0,795.3 962.0,798.8 974.0,802.4 986.0,805.9 998.0,809.4 1010.0,812.5 1022.0,815.5 1034.0,818.5 1046.0,821.5 1058.0,824.5 1070.0,827.5 1082.0,830.5 1094.0,833.5 1106.0,836.4 1118.0,837.7 1130.0,839.1 1142.0,840.5 1154.0,841.9 1166.0,843.3 1178.0,844.7 1190.0,846.0 1202.0,847.4 1214.0,848.8 1226.0,850.2 1238.0,851.6 1250.0,852.9 1262.0,854.3 1274.0,855.7 1286.0,856.8 1298.0,856.9 1310.0,857.1 1322.0,857.2 1334.0,857.3 1346.0,857.5 1358.0,857.6 1370.0,857.7 1382.0,857.9 1394.0,858.0 1406.0,858.2 1418.0,858.3 1430.0,858.4 1442.0,858.6 1454.0,858.7 1466.0,857.0 1478.0,854.3 1490.0,851.6 1502.0,849.0 1514.0,846.3 1526.0,843.6 1538.0,840.9 1550.0,840.7 1562.0,840.9 1574.0,841.1 1586.0,841.2 1598.0,841.4 1610.0,841.6 1622.0,841.8 1634.0,842.0 1646.0,842.2 1658.0,842.2 1670.0,842.2 1682.0,842.1 1694.0,842.0 1706.0,841.9 1718.0,841.8 1730.0,841.8 1742.0,841.7 1754.0,841.6 1766.0,841.5 1778.0,841.4 1790.0,841.4 1802.0,841.3 1814.0,841.2 1826.0,841.1 1838.0,841.1 1850.0,841.0 1862.0,840.9 1874.0,840.8 1886.0,840.7 1898.0,840.7 1910.0,840.6 1922.0,840.5 1934.0,840.4 1946.0,840.4 1958.0,840.3 1970.0,840.2 1982.0,840.1 1994.0,840.0 2006.0,840.5 2018.0,841.4 2030.0,842.3 2042.0,843.2 2054.0,844.1 2066.0,845.0 2078.0,845.9 2090.0,846.9 2102.0,847.8 2114.0,846.0 2126.0,843.4 2138.0,840.8 2150.0,838.1 2162.0,835.5 2174.0,832.9 2186.0,830.3 2198.0,827.6 2210.0,825.0 2222.0,821.7 2234.0,818.4 2246.0,815.1 2258.0,811.8 2270.0,808.4 2282.0,805.1 2294.0,801.8 2306.0,800.0 2318.0,798.6 2330.0,797.3 2342.0,795.9 2354.0,795.0 2366.0,795.0 2378.0,795.0 2390.0,795.0 2402.0,795.0 2414.0,795.0 2426.0,795.0 2438.0,795.0 2450.0,795.0 2462.0,795.0 2474.0,795.0 2486.0,795.0 2498.0,795.0 2510.0,795.0 2522.0,795.0 2534.0,795.0 2546.0,795.0 2558.0,795.0 2570.0,795.0 2582.0,795.0 2594.0,795.0 2606.0,795.0 2618.0,795.0 2630.0,795.0 2642.0,795.0 2654.0,795.0 2666.0,795.0 2678.0,795.0 2690.0,795.0 2702.0,795.0 2714.0,795.0 2726.0,795.0 2738.0,795.0 2750.0,795.0 2762.0,795.0 2774.0,795.0 2786.0,795.0 2798.0,795.0 2810.0,795.0 2822.0,795.0 2834.0,795.0 2846.0,795.0 2858.0,795.0 2870.0,795.0 2882.0,795.0 2894.0,795.0 2906.0,795.0 2918.0,795.0 2930.0,795.1 2942.0,795.1 2954.0,795.1 2966.0,795.2 2978.0,795.2 2990.0,795.2 3002.0,795.3 3014.0,795.3 3026.0,795.3 3038.0,795.4 3050.0,795.4 3062.0,795.4 3074.0,795.5 3086.0,795.5 3098.0,795.5 3110.0,795.6 3122.0,795.6 3134.0,795.6 3146.0,795.7 3158.0,795.7 3170.0,795.7 3182.0,795.8 3194.0,795.8 3206.0,795.8 3218.0,795.9 3230.0,795.9 3242.0,795.9 3254.0,796.0 3266.0,796.0 3278.0,796.0 3290.0,796.1 3302.0,796.1 3314.0,796.1 3326.0,796.2 3338.0,796.2 3350.0,796.2 3362.0,796.3 3374.0,796.3 3386.0,796.3 3398.0,796.4 3410.0,796.4 3422.0,796.4 3434.0,796.4 3446.0,796.5 3458.0,796.5 3470.0,796.5 3482.0,796.6 3494.0,796.6 3506.0,796.6 3518.0,796.7 3530.0,796.7 3542.0,796.7 3554.0,796.8 3566.0,796.8 3578.0,796.8 3590.0,796.9 3602.0,796.9 3614.0,796.9 3626.0,797.0 3637.0,797.0 3637.0,960.0 266.0,960.0" fill="#d3d3d3"/>
<polygon points="1454.0,320.0 1456.5,307.5 1466.5,292.5 1479.0,280.0 1484.0,252.5 1504.0,250.0 1504.0,215.0 1514.0,220.0 1529.0,240.0 1548.0,240.0 1553.0,210.0 1563.0,207.5 1573.0,215.0 1608.0,210.0 1620.5,212.5 1630.5,217.5 1675.5,217.5 1688.0,255.0 1703.0,260.0 1723.0,255.0 1738.0,275.0 1753.0,280.0 1773.0,282.5 1793.0,275.0 1808.0,272.5 1818.0,240.0 1833.0,230.0 1848.0,210.0 1853.0,230.0 1865.5,220.0 1870.5,230.0 1910.5,230.0 1923.0,217.5 1938.0,205.0 1953.0,217.5 1973.0,230.0 1988.0,222.5 1995.5,205.0 2010.5,207.5 2023.0,217.5 2038.0,215.0 2050.5,200.0 2060.5,207.5 2073.0,200.0 2083.0,210.0 2093.0,217.5 2108.0,217.5 2120.5,220.0 2130.5,200.0 2143.0,205.0 2192.0,210.0 2209.5,155.0 2227.0,157.5 2252.0,175.0 2272.0,182.5 2282.0,172.5 2307.0,185.0 2312.0,205.0 2332.0,160.0 2347.0,162.5 2367.0,147.5 2372.0,182.5 2377.0,200.0 2387.0,157.5 2402.0,160.0 2407.0,185.0 2417.0,192.5 2437.0,200.0 2442.0,217.5 2467.0,212.5 2487.0,202.5 2492.0,215.0 2517.0,225.0 2527.0,232.5 2552.0,235.0 2582.0,210.0 2597.0,217.5 2612.0,235.0 2624.5,217.5 2637.0,207.5 2667.0,215.0 2692.0,207.5 2717.0,210.0 2742.0,205.0 2764.5,217.5 2774.5,205.0 2802.0,200.0 2827.0,195.0 2836.0,207.5 2851.0,225.0 2863.5,235.0 2878.5,235.0 2886.0,222.5 2911.0,227.5 2923.5,232.5 2936.0,240.0 2941.0,225.0 2948.5,215.0 2966.0,215.0 2986.0,215.0 2996.0,195.0 3001.0,205.0 3006.0,217.5 3016.0,227.5 3036.0,210.0 3046.0,235.0 3061.0,240.0 3081.0,220.0 3093.5,215.0 3113.5,210.0 3136.0,220.0 3161.0,217.5 3186.0,217.5 3206.0,212.5 3216.0,220.0 3226.0,210.0 3236.0,217.5 3251.0,240.0 3261.0,222.5 3281.0,215.0 3311.0,222.5 3306.0,242.5 3296.0,260.0 3298.5,267.5 3306.0,280.0 3391.0,280.0 3466.0,275.0 3476.0,260.0 3498.5,280.0 3516.0,290.0 3548.5,300.0 3553.5,325.0 3578.5,345.0 3598.5,360.0 3608.5,387.5 3613.5,417.5 3621.0,350.0 3626.0,315.0 3637.0,307.5 3637.0,557.0 3626.0,549.5 3611.0,562.0 3603.5,569.5 3588.5,572.0 3576.0,584.5 3563.5,605.8 3531.0,602.0 3526.0,629.5 3516.0,634.5 3497.2,644.5 3486.0,634.5 3471.0,629.5 3451.0,619.5 3441.0,603.2 3416.0,602.0 3393.5,589.5 3391.0,572.0 3386.0,559.5 3366.0,544.5 3341.0,539.5 3321.0,522.0 3311.0,504.5 3266.0,505.8 3248.5,514.5 3241.0,504.5 3191.0,504.5 3168.5,509.5 3136.0,513.2 3123.5,518.2 3106.0,507.0 3073.5,514.5 3036.0,517.0 3001.0,518.2 2976.0,514.5 2948.5,515.8 2936.0,512.0 2921.0,508.2 2911.0,510.8 2906.0,504.5 2886.0,504.5 2868.5,508.2 2861.0,503.2 2851.0,498.2 2836.0,492.0 2817.0,487.0 2804.5,483.2 2784.5,479.5 2774.5,472.0 2752.0,465.8 2729.5,462.0 2717.0,453.2 2707.0,459.5 2697.0,469.5 2682.0,462.0 2669.5,454.5 2657.0,442.0 2649.5,432.0 2639.5,422.0 2622.0,400.0 2607.0,387.5 2587.0,372.5 2567.0,365.0 2547.0,357.5 2517.0,350.0 2502.0,340.0 2487.0,320.0 2479.5,312.5 2397.0,310.0 2382.0,305.0 2297.0,312.5 2287.0,305.0 2267.0,310.0 2232.0,310.0 2192.0,320.0 2148.0,320.0 2130.5,320.0 2123.0,325.0 2098.0,320.0 2073.0,322.5 2048.0,327.5 1998.0,330.0 1988.0,322.5 1968.0,317.5 1935.5,320.0 1908.0,317.5 1885.5,325.0 1848.0,320.0 1823.0,317.5 1808.0,310.0 1798.0,325.0 1778.0,335.0 1773.0,342.5 1743.0,342.5 1723.0,337.5 1698.0,332.5 1673.0,340.0 1658.0,337.5 1638.0,345.0 1623.0,335.0 1608.0,347.5 1605.5,360.0 1593.0,362.5 1573.0,365.0 1548.0,370.0 1534.0,350.0 1521.5,355.0 1499.0,345.0 1479.0,340.0 1464.0,325.0" fill="#00ffff"/>
<polygon points="343.8,188.8 356.2,183.8 370.0,186.2 376.2,185.0 387.5,183.8 396.2,187.5 385.0,190.0 395.0,196.2 407.5,205.0 420.0,202.5 425.0,215.0 430.0,195.0 435.0,198.8 437.5,212.5 442.5,220.0 455.0,221.2 467.5,215.0 480.0,217.5 487.5,206.2 497.5,210.0 500.0,217.5 525.0,220.0 525.0,230.0 500.0,235.0 495.0,240.0 485.0,241.2 482.5,257.5 477.5,255.0 467.5,247.5 460.0,242.5 447.5,250.0 442.5,255.0 432.5,260.0 420.0,262.5 410.0,257.5 395.0,255.0 382.5,252.5 380.0,242.5 365.0,243.8 360.0,237.5 357.5,227.5 350.0,225.0 350.0,215.0 352.5,200.0 345.0,192.5" fill="#00ffff"/>
<polygon points="398.8,166.2 422.5,165.0 435.0,172.5 450.0,162.5 455.0,147.5 472.5,146.2 492.5,147.5 495.0,157.5 485.0,162.5 475.0,165.0 470.0,172.5 472.5,190.0 457.5,185.0 450.0,183.8 435.0,182.5 425.0,186.2 415.0,180.0 400.0,178.8" fill="#00ffff"/>
<polygon points="495.0,131.2 510.0,130.0 522.5,137.5 542.5,145.0 542.5,148.8 522.5,148.8 510.0,152.5 517.5,160.0 535.0,165.0 550.0,165.0 585.0,166.2 588.8,135.0 610.0,132.5 635.0,132.5 657.5,135.0 690.0,133.8 702.5,147.5 705.0,170.0 710.0,185.0 722.5,182.5 725.0,170.0 735.0,177.5 750.0,177.5 740.0,187.5 750.0,192.5 747.5,205.0 770.0,205.0 767.5,210.0 757.5,217.5 757.5,232.5 747.5,245.0 740.0,252.5 735.0,247.5 736.2,222.5 725.0,220.0 725.0,215.0 715.0,212.5 715.0,222.5 702.5,225.0 700.0,235.0 690.0,235.0 685.0,230.0 682.5,247.5 670.0,240.0 660.0,232.5 645.0,227.5 635.0,240.0 622.5,225.0 605.0,232.5 585.0,217.5 582.5,225.0 570.0,227.5 547.5,225.0 540.0,220.0 527.5,210.0 517.5,200.0 515.0,192.5 500.0,182.5 502.5,167.5 507.5,157.5 505.0,145.0" fill="#00ffff"/>
<polygon points="785.0,260.0 802.5,257.5 810.0,275.0 817.5,297.5 825.0,320.0 835.0,330.0 837.5,350.0 825.0,350.0 815.0,335.0 805.0,315.0 797.5,290.0 790.0,272.5" fill="#00ffff"/>
<polygon points="842.5,270.0 850.0,265.0 855.0,272.5 850.0,282.5 847.5,297.5 845.0,290.0 841.2,280.0" fill="#00ffff"/>
<polygon points="860.0,252.5 867.5,250.0 880.0,260.0 875.0,247.5 887.5,247.5 895.0,260.0 904.0,275.0 904.0,317.5 892.5,320.0 885.0,305.0 872.5,280.0 865.0,265.0" fill="#00ffff"/>
<polygon points="862.5,300.0 870.0,297.5 872.5,312.5 865.0,310.0" fill="#00ffff"/>
<polygon points="990.2,217.5 999.0,220.0 1004.0,235.0 1019.0,230.0 1029.0,220.0 1026.5,240.0 1041.5,235.0 1046.5,215.0 1054.0,205.0 1066.5,205.0 1076.5,215.0 1084.0,220.0 1101.5,202.5 1109.0,215.0 1124.0,235.0 1134.0,220.0 1139.0,260.0 1149.0,260.0 1169.0,230.0 1179.0,240.0 1189.0,247.5 1191.5,222.5 1204.0,212.5 1209.0,240.0 1214.0,270.0 1219.0,285.0 1229.0,290.0 1236.5,300.0 1249.0,297.5 1261.5,317.5 1264.0,347.5 1259.0,325.0 1254.0,350.0 1264.0,375.0 1265.2,412.5 1256.5,412.5 1249.0,375.0 1239.0,350.0 1229.0,345.0 1231.5,422.0 1216.5,422.0 1206.5,407.5 1191.5,410.0 1181.5,400.0 1176.5,370.0 1171.5,377.5 1169.0,402.5 1161.5,392.5 1149.0,382.5 1136.5,380.0 1126.5,372.5 1116.5,370.0 1114.0,357.5 1104.0,342.5 1089.0,340.0 1084.0,320.0 1069.0,307.5 1059.0,295.0 1054.0,280.0 1066.5,272.5 1074.0,260.0 1054.0,255.0 1044.0,270.0 1034.0,265.0 1024.0,250.0 1014.0,247.5 999.0,240.0 991.5,230.0" fill="#00ffff"/>
<polygon points="1034.0,180.0 1046.5,180.0 1054.0,187.5 1076.5,205.0 1064.0,270.0 1041.5,272.5 1021.5,240.0 1029.0,217.5 1039.0,200.0" fill="#00ffff"/>
<polygon points="1040.2,347.5 1051.5,342.5 1066.5,352.5 1079.0,365.0 1081.5,387.5 1071.5,387.5 1056.5,372.5 1044.0,360.0" fill="#00ffff"/>
<polygon points="1236.5,172.5 1249.0,165.0 1256.5,165.0 1266.5,170.0 1284.0,167.5 1296.5,172.5 1294.0,177.5 1274.0,182.5 1286.5,185.0 1296.5,197.5 1299.0,205.0 1294.0,220.0 1299.0,235.0 1289.0,250.0 1286.5,272.5 1279.0,270.0 1276.5,247.5 1271.5,232.5 1264.0,217.5 1251.5,222.5 1244.0,205.0 1236.5,200.0" fill="#00ffff"/>
<polygon points="1231.5,237.5 1239.0,240.0 1249.0,267.5 1244.0,275.0 1236.5,262.5 1231.5,250.0" fill="#00ffff"/>
<polygon points="1301.5,245.0 1311.5,235.0 1329.0,220.0 1344.0,215.0 1361.5,202.5 1371.5,210.0 1379.0,230.0 1379.0,262.5 1374.0,290.0 1384.0,310.0 1389.0,350.0 1379.0,345.0 1374.0,375.0 1386.5,402.5 1379.0,417.5 1354.0,422.0 1329.0,422.0 1319.0,395.0 1304.0,365.0 1299.0,340.0 1296.5,300.0 1301.5,275.0" fill="#00ffff"/>
<polygon points="1374.0,185.0 1384.0,180.0 1394.0,190.0 1409.0,187.5 1424.0,192.5 1441.5,195.0 1454.0,192.5 1449.0,210.0 1439.0,225.0 1429.0,237.5 1419.0,275.0 1411.5,295.0 1404.0,325.0 1399.0,320.0 1401.5,275.0 1394.0,250.0 1384.0,230.0 1379.0,210.0" fill="#00ffff"/>
<polygon points="1424.0,166.2 1454.0,160.0 1466.5,157.5 1466.5,172.5 1434.0,172.5" fill="#00ffff"/>
<polygon points="1514.0,155.0 1529.0,155.0 1534.0,205.0 1548.0,207.5 1548.0,240.0 1529.0,240.0 1514.0,220.0 1521.5,175.0" fill="#00ffff"/>
<polygon points="1588.0,155.0 1605.5,147.5 1638.0,150.0 1673.0,147.5 1678.0,160.0 1688.0,165.0 1688.0,182.5 1673.0,190.0 1678.0,200.0 1663.0,200.0 1648.0,195.0 1628.0,190.0 1618.0,180.0 1603.0,170.0 1590.5,162.5" fill="#00ffff"/>
<polygon points="1695.5,147.5 1708.0,140.0 1728.0,140.0 1743.0,142.5 1755.5,132.5 1765.5,137.5 1780.5,140.0 1788.0,150.0 1798.0,167.5 1810.5,160.0 1808.0,182.5 1798.0,195.0 1788.0,205.0 1780.5,182.5 1768.0,177.5 1763.0,162.5 1748.0,155.0 1735.5,152.5 1723.0,152.5 1703.0,162.5 1695.5,170.0" fill="#00ffff"/>
<polygon points="1748.0,220.0 1763.0,205.0 1768.0,217.5 1763.0,235.0 1760.5,250.0 1753.0,250.0 1750.5,235.0" fill="#00ffff"/>
<polygon points="1833.0,182.5 1848.0,162.5 1863.0,152.5 1865.5,140.0 1873.0,132.5 1883.0,140.0 1898.0,147.5 1910.5,145.0 1923.0,140.0 1936.8,140.0 1938.0,162.5 1923.0,167.5 1918.0,172.5 1903.0,175.0 1898.0,195.0 1873.0,200.0 1848.0,200.0 1835.5,195.0" fill="#00ffff"/>
<polygon points="1950.5,190.0 1970.5,160.0 1978.0,157.5 1988.0,167.5 1998.0,155.0 2008.0,160.0 2018.0,165.0 2028.0,155.0 2043.0,165.0 2055.5,177.5 2060.5,190.0 2053.0,205.0 2040.5,200.0 2023.0,197.5 2013.0,200.0 1998.0,197.5 1980.5,195.0 1960.5,200.0" fill="#00ffff"/>
<polygon points="2143.0,117.5 2160.5,113.8 2192.0,111.2 2192.0,122.5 2160.5,122.5 2148.0,121.2" fill="#00ffff"/>
<polygon points="3334.8,225.0 3343.5,215.0 3358.5,215.0 3366.0,205.0 3376.0,202.5 3366.0,215.0 3368.5,232.5 3376.0,240.0 3376.0,250.0 3366.0,252.5 3348.5,245.0 3336.0,235.0" fill="#00ffff"/>
<polygon points="3438.5,195.0 3446.0,192.5 3456.0,187.5 3466.0,182.5 3473.5,171.2 3476.0,187.5 3483.5,195.0 3486.0,220.0 3491.0,227.5 3481.0,240.0 3478.5,252.5 3471.0,242.5 3473.5,222.5 3471.0,215.0 3443.5,216.2 3441.0,202.5" fill="#00ffff"/>
<rect x="755.0" y="171.2" width="12.5" height="6.2" fill="#00ffff"/>
<rect x="647.5" y="248.8" width="12.5" height="11.2" fill="#00ffff"/>
<rect x="677.5" y="240.0" width="10.0" height="8.8" fill="#00ffff"/>
<rect x="600.0" y="223.8" width="7.5" height="20.0" fill="#00ffff"/>
<rect x="287.5" y="155.0" width="7.5" height="3.8" fill="#00ffff"/>
<rect x="3326.0" y="172.5" width="12.5" height="8.8" fill="#00ffff"/>
<rect x="3016.0" y="145.0" width="14.0" height="6.0" fill="#00ffff"/>
<rect x="3067.0" y="145.0" width="11.5" height="4.0" fill="#00ffff"/>
<rect x="3081.0" y="154.0" width="20.0" height="5.0" fill="#00ffff"/>
<rect x="3123.5" y="147.5" width="20.0" height="17.5" fill="#00ffff"/>
<rect x="3162.0" y="150.0" width="8.0" height="4.0" fill="#00ffff"/>
<rect x="2277.0" y="132.5" width="12.5" height="15.0" fill="#00ffff"/>
<rect x="2308.0" y="132.5" width="13.0" height="15.0" fill="#00ffff"/>
<rect x="2347.0" y="132.5" width="37.5" height="7.5" fill="#00ffff"/>
<rect x="2478.0" y="115.0" width="16.5" height="7.5" fill="#00ffff"/>
<rect x="2192.0" y="111.0" width="19.0" height="9.0" fill="#00ffff"/>
<rect x="1329.0" y="422.0" width="20.0" height="3.0" fill="#00ffff"/>
<polygon points="990.2,217.5 999.0,220.0 1004.0,235.0 1019.0,230.0 1029.0,220.0 1026.5,240.0 1041.5,235.0 1046.5,215.0 1054.0,205.0 1066.5,205.0 1076.5,215.0 1084.0,220.0 1101.5,202.5 1109.0,215.0 1124.0,235.0 1134.0,220.0 1139.0,260.0 1149.0,260.0 1169.0,230.0 1179.0,240.0 1189.0,247.5 1191.5,222.5 1204.0,212.5 1209.0,240.0 1214.0,270.0 1219.0,285.0 1229.0,290.0 1236.5,300.0 1249.0,297.5 1261.5,317.5 1264.0,347.5 1259.0,325.0 1254.0,350.0 1264.0,375.0 1265.2,412.5 1256.5,412.5 1249.0,375.0 1239.0,350.0 1229.0,345.0 1231.5,422.0 1216.5,422.0 1206.5,407.5 1191.5,410.0 1181.5,400.0 1176.5,370.0 1171.5,377.5 1169.0,402.5 1161.5,392.5 1149.0,382.5 1136.5,380.0 1126.5,372.5 1116.5,370.0 1114.0,357.5 1104.0,342.5 1089.0,340.0 1084.0,320.0 1069.0,307.5 1059.0,295.0 1054.0,280.0 1066.5,272.5 1074.0,260.0 1054.0,255.0 1044.0,270.0 1034.0,265.0 1024.0,250.0 1014.0,247.5 999.0,240.0 991.5,230.0" fill="url(#streak2)"/>
<polygon points="1034.0,180.0 1046.5,180.0 1054.0,187.5 1076.5,205.0 1064.0,270.0 1041.5,272.5 1021.5,240.0 1029.0,217.5 1039.0,200.0" fill="url(#streak2)"/>
<polygon points="1301.5,245.0 1311.5,235.0 1329.0,220.0 1344.0,215.0 1361.5,202.5 1371.5,210.0 1379.0,230.0 1379.0,262.5 1374.0,290.0 1384.0,310.0 1389.0,350.0 1379.0,345.0 1374.0,375.0 1386.5,402.5 1379.0,417.5 1354.0,422.0 1329.0,422.0 1319.0,395.0 1304.0,365.0 1299.0,340.0 1296.5,300.0 1301.5,275.0" fill="url(#streak2)"/>
<polygon points="785.0,260.0 802.5,257.5 810.0,275.0 817.5,297.5 825.0,320.0 835.0,330.0 837.5,350.0 825.0,350.0 815.0,335.0 805.0,315.0 797.5,290.0 790.0,272.5" fill="url(#streak2)"/>
<polygon points="842.5,270.0 850.0,265.0 855.0,272.5 850.0,282.5 847.5,297.5 845.0,290.0 841.2,280.0" fill="url(#streak2)"/>
<polygon points="860.0,252.5 867.5,250.0 880.0,260.0 875.0,247.5 887.5,247.5 895.0,260.0 904.0,275.0 904.0,317.5 892.5,320.0 885.0,305.0 872.5,280.0 865.0,265.0" fill="url(#streak2)"/>
<polygon points="1040.2,347.5 1051.5,342.5 1066.5,352.5 1079.0,365.0 1081.5,387.5 1071.5,387.5 1056.5,372.5 1044.0,360.0" fill="url(#streak2)"/>
<polygon points="1236.5,172.5 1249.0,165.0 1256.5,165.0 1266.5,170.0 1284.0,167.5 1296.5,172.5 1294.0,177.5 1274.0,182.5 1286.5,185.0 1296.5,197.5 1299.0,205.0 1294.0,220.0 1299.0,235.0 1289.0,250.0 1286.5,272.5 1279.0,270.0 1276.5,247.5 1271.5,232.5 1264.0,217.5 1251.5,222.5 1244.0,205.0 1236.5,200.0" fill="url(#streak)"/>
<polygon points="1231.5,237.5 1239.0,240.0 1249.0,267.5 1244.0,275.0 1236.5,262.5 1231.5,250.0" fill="url(#streak)"/>
<polygon points="1374.0,185.0 1384.0,180.0 1394.0,190.0 1409.0,187.5 1424.0,192.5 1441.5,195.0 1454.0,192.5 1449.0,210.0 1439.0,225.0 1429.0,237.5 1419.0,275.0 1411.5,295.0 1404.0,325.0 1399.0,320.0 1401.5,275.0 1394.0,250.0 1384.0,230.0 1379.0,210.0" fill="url(#streak)"/>
<polygon points="1514.0,155.0 1529.0,155.0 1534.0,205.0 1548.0,207.5 1548.0,240.0 1529.0,240.0 1514.0,220.0 1521.5,175.0" fill="url(#streak)"/>
<polygon points="1424.0,166.2 1454.0,160.0 1466.5,157.5 1466.5,172.5 1434.0,172.5" fill="url(#streak)"/>
<polygon points="1588.0,155.0 1605.5,147.5 1638.0,150.0 1673.0,147.5 1678.0,160.0 1688.0,165.0 1688.0,182.5 1673.0,190.0 1678.0,200.0 1663.0,200.0 1648.0,195.0 1628.0,190.0 1618.0,180.0 1603.0,170.0 1590.5,162.5" fill="url(#blotch2)"/>
<polygon points="1695.5,147.5 1708.0,140.0 1728.0,140.0 1743.0,142.5 1755.5,132.5 1765.5,137.5 1780.5,140.0 1788.0,150.0 1798.0,167.5 1810.5,160.0 1808.0,182.5 1798.0,195.0 1788.0,205.0 1780.5,182.5 1768.0,177.5 1763.0,162.5 1748.0,155.0 1735.5,152.5 1723.0,152.5 1703.0,162.5 1695.5,170.0" fill="url(#blotch2)"/>
<polygon points="1748.0,220.0 1763.0,205.0 1768.0,217.5 1763.0,235.0 1760.5,250.0 1753.0,250.0 1750.5,235.0" fill="url(#blotch2)"/>
<polygon points="1833.0,182.5 1848.0,162.5 1863.0,152.5 1865.5,140.0 1873.0,132.5 1883.0,140.0 1898.0,147.5 1910.5,145.0 1923.0,140.0 1936.8,140.0 1938.0,162.5 1923.0,167.5 1918.0,172.5 1903.0,175.0 1898.0,195.0 1873.0,200.0 1848.0,200.0 1835.5,195.0" fill="url(#blotch2)"/>
<polygon points="1950.5,190.0 1970.5,160.0 1978.0,157.5 1988.0,167.5 1998.0,155.0 2008.0,160.0 2018.0,165.0 2028.0,155.0 2043.0,165.0 2055.5,177.5 2060.5,190.0 2053.0,205.0 2040.5,200.0 2023.0,197.5 2013.0,200.0 1998.0,197.5 1980.5,195.0 1960.5,200.0" fill="url(#blotch2)"/>
<polygon points="343.8,188.8 356.2,183.8 370.0,186.2 376.2,185.0 387.5,183.8 396.2,187.5 385.0,190.0 395.0,196.2 407.5,205.0 420.0,202.5 425.0,215.0 430.0,195.0 435.0,198.8 437.5,212.5 442.5,220.0 455.0,221.2 467.5,215.0 480.0,217.5 487.5,206.2 497.5,210.0 500.0,217.5 525.0,220.0 525.0,230.0 500.0,235.0 495.0,240.0 485.0,241.2 482.5,257.5 477.5,255.0 467.5,247.5 460.0,242.5 447.5,250.0 442.5,255.0 432.5,260.0 420.0,262.5 410.0,257.5 395.0,255.0 382.5,252.5 380.0,242.5 365.0,243.8 360.0,237.5 357.5,227.5 350.0,225.0 350.0,215.0 352.5,200.0 345.0,192.5" fill="url(#blotch)"/>
<polygon points="398.8,166.2 422.5,165.0 435.0,172.5 450.0,162.5 455.0,147.5 472.5,146.2 492.5,147.5 495.0,157.5 485.0,162.5 475.0,165.0 470.0,172.5 472.5,190.0 457.5,185.0 450.0,183.8 435.0,182.5 425.0,186.2 415.0,180.0 400.0,178.8" fill="url(#blotch)"/>
<polygon points="495.0,131.2 510.0,130.0 522.5,137.5 542.5,145.0 542.5,148.8 522.5,148.8 510.0,152.5 517.5,160.0 535.0,165.0 550.0,165.0 585.0,166.2 588.8,135.0 610.0,132.5 635.0,132.5 657.5,135.0 690.0,133.8 702.5,147.5 705.0,170.0 710.0,185.0 722.5,182.5 725.0,170.0 735.0,177.5 750.0,177.5 740.0,187.5 750.0,192.5 747.5,205.0 770.0,205.0 767.5,210.0 757.5,217.5 757.5,232.5 747.5,245.0 740.0,252.5 735.0,247.5 736.2,222.5 725.0,220.0 725.0,215.0 715.0,212.5 715.0,222.5 702.5,225.0 700.0,235.0 690.0,235.0 685.0,230.0 682.5,247.5 670.0,240.0 660.0,232.5 645.0,227.5 635.0,240.0 622.5,225.0 605.0,232.5 585.0,217.5 582.5,225.0 570.0,227.5 547.5,225.0 540.0,220.0 527.5,210.0 517.5,200.0 515.0,192.5 500.0,182.5 502.5,167.5 507.5,157.5 505.0,145.0" fill="url(#blotch)"/>
<polygon points="1688.0,198.0 1812.0,198.0 1812.0,272.0 1773.0,282.0 1738.0,275.0 1703.0,260.0 1688.0,255.0" fill="url(#cspeck)"/>
<polygon points="1820.0,205.0 1950.0,205.0 1950.0,222.0 1870.0,230.0 1820.0,238.0" fill="url(#cspeck)"/>
<polygon points="1548.0,240.0 1553.0,210.0 1563.0,207.5 1573.0,215.0 1608.0,210.0 1620.5,212.5 1630.5,217.5 1675.5,217.5 1688.0,255.0 1703.0,260.0 1723.0,255.0 1738.0,275.0 1753.0,280.0 1773.0,282.5 1793.0,275.0 1808.0,272.5 1818.0,240.0 1833.0,230.0 1848.0,210.0 1853.0,230.0 1865.5,220.0 1870.5,230.0 1910.5,230.0 1923.0,217.5 1938.0,205.0 1953.0,217.5 1973.0,230.0 1988.0,222.5 1995.5,205.0 2010.5,207.5 2023.0,217.5 2038.0,215.0 2050.5,200.0 2060.5,207.5 2073.0,200.0 2083.0,210.0 2093.0,217.5 2108.0,217.5 2120.5,220.0 2130.5,200.0 2143.0,205.0 2192.0,210.0 2209.5,155.0 2227.0,157.5 2252.0,175.0 2272.0,182.5 2282.0,172.5 2307.0,185.0 2312.0,205.0 2332.0,160.0 2347.0,162.5 2367.0,147.5 2372.0,182.5 2377.0,200.0 2387.0,157.5 2402.0,160.0 2407.0,185.0 2417.0,192.5 2437.0,200.0 2442.0,217.5 2467.0,212.5 2487.0,202.5 2492.0,215.0 2517.0,225.0 2527.0,232.5 2552.0,235.0 2582.0,210.0 2597.0,217.5 2612.0,235.0 2624.5,217.5 2637.0,207.5 2667.0,215.0 2692.0,207.5 2717.0,210.0 2717.0,255.0 2692.0,252.5 2667.0,260.0 2637.0,252.5 2624.5,262.5 2612.0,280.0 2597.0,262.5 2582.0,255.0 2552.0,280.0 2527.0,277.5 2517.0,270.0 2492.0,260.0 2487.0,247.5 2467.0,257.5 2442.0,262.5 2437.0,245.0 2417.0,237.5 2407.0,230.0 2402.0,205.0 2387.0,202.5 2377.0,245.0 2372.0,227.5 2367.0,192.5 2347.0,207.5 2332.0,205.0 2312.0,250.0 2307.0,230.0 2282.0,217.5 2272.0,227.5 2252.0,220.0 2227.0,202.5 2209.5,200.0 2192.0,255.0 2143.0,250.0 2130.5,245.0 2120.5,265.0 2108.0,262.5 2093.0,262.5 2083.0,255.0 2073.0,245.0 2060.5,252.5 2050.5,245.0 2038.0,260.0 2023.0,262.5 2010.5,252.5 1995.5,250.0 1988.0,267.5 1973.0,275.0 1953.0,262.5 1938.0,250.0 1923.0,262.5 1910.5,275.0 1870.5,275.0 1865.5,265.0 1853.0,275.0 1848.0,255.0 1833.0,275.0 1818.0,285.0 1808.0,317.5 1793.0,320.0 1773.0,327.5 1753.0,325.0 1738.0,320.0 1723.0,300.0 1703.0,305.0 1688.0,300.0 1675.5,262.5 1630.5,262.5 1620.5,257.5 1608.0,255.0 1573.0,260.0 1563.0,252.5 1553.0,255.0 1548.0,285.0" fill="url(#blotch2)"/>
<polygon points="2742.0,205.0 2764.5,217.5 2774.5,205.0 2802.0,200.0 2827.0,195.0 2836.0,207.5 2851.0,225.0 2863.5,235.0 2878.5,235.0 2886.0,222.5 2911.0,227.5 2923.5,232.5 2936.0,240.0 2941.0,225.0 2948.5,215.0 2966.0,215.0 2986.0,215.0 2996.0,195.0 3001.0,205.0 3006.0,217.5 3016.0,227.5 3036.0,210.0 3046.0,235.0 3061.0,240.0 3081.0,220.0 3093.5,215.0 3113.5,210.0 3136.0,220.0 3161.0,217.5 3186.0,217.5 3206.0,212.5 3216.0,220.0 3226.0,210.0 3236.0,217.5 3251.0,240.0 3261.0,222.5 3281.0,215.0 3311.0,222.5 3306.0,242.5 3296.0,260.0 3298.5,267.5 3306.0,280.0 3306.0,315.0 3298.5,302.5 3296.0,295.0 3306.0,277.5 3311.0,257.5 3281.0,250.0 3261.0,257.5 3251.0,275.0 3236.0,252.5 3226.0,245.0 3216.0,255.0 3206.0,247.5 3186.0,252.5 3161.0,252.5 3136.0,255.0 3113.5,245.0 3093.5,250.0 3081.0,255.0 3061.0,275.0 3046.0,270.0 3036.0,245.0 3016.0,262.5 3006.0,252.5 3001.0,240.0 2996.0,230.0 2986.0,250.0 2966.0,250.0 2948.5,250.0 2941.0,260.0 2936.0,275.0 2923.5,267.5 2911.0,262.5 2886.0,257.5 2878.5,270.0 2863.5,270.0 2851.0,260.0 2836.0,242.5 2827.0,230.0 2802.0,235.0 2774.5,240.0 2764.5,252.5 2742.0,240.0" fill="url(#blotch)"/>
<polygon points="595.0,165.0 615.0,162.5 625.0,170.0 622.5,182.5 615.0,192.5 605.0,186.2 597.5,180.0" fill="#fff"/>
<polygon points="2986.0,286.2 2993.5,286.2 3008.5,317.5 3018.5,340.0 3017.2,350.0 3011.0,340.0 2998.5,312.5" fill="#fff"/>
<polygon points="3208.5,286.2 3221.0,286.2 3236.0,312.5 3241.0,342.5 3236.0,342.5 3223.5,317.5" fill="#fff"/>
<polygon points="3241.0,286.2 3248.5,286.2 3261.0,312.5 3266.0,335.0 3258.5,332.5 3251.0,312.5" fill="#fff"/>
<polygon points="3258.5,286.2 3266.0,286.2 3276.0,312.5 3293.5,360.0 3286.0,357.5 3271.0,325.0" fill="#fff"/>
<polygon points="3188.0,218.0 3198.0,218.0 3212.0,284.0 3204.0,284.0" fill="#fff"/>
<rect x="266" y="283" width="3371" height="3" fill="#00ffff"/>
<rect x="1109.0" y="693.3" width="11.0" height="2.5" fill="#00ffff"/>
<rect x="1249.0" y="693.3" width="24.0" height="2.5" fill="#00ffff"/>
<rect x="1284.0" y="693.3" width="14.0" height="2.5" fill="#00ffff"/>
<rect x="1366.5" y="693.3" width="55.0" height="2.5" fill="#00ffff"/>
<rect x="1438.0" y="693.3" width="675.0" height="2.5" fill="#00ffff"/>
<rect x="2125.0" y="693.3" width="33.0" height="2.5" fill="#00ffff"/>
<rect x="2207.0" y="693.3" width="19.0" height="2.5" fill="#00ffff"/>
<rect x="2256.0" y="693.3" width="55.0" height="2.5" fill="#00ffff"/>
<rect x="2346.0" y="693.3" width="24.0" height="2.5" fill="#00ffff"/>
<rect x="2411.0" y="693.3" width="56.0" height="2.5" fill="#00ffff"/>
<rect x="2504.0" y="693.3" width="15.0" height="2.5" fill="#00ffff"/>
<rect x="2539.0" y="693.3" width="13.0" height="2.5" fill="#00ffff"/>
<rect x="2568.0" y="693.3" width="13.0" height="2.5" fill="#00ffff"/>
<rect x="2607.0" y="693.3" width="13.0" height="2.5" fill="#00ffff"/>
<rect x="2731.0" y="693.3" width="13.0" height="2.5" fill="#00ffff"/>
<rect x="2827.0" y="693.3" width="31.5" height="2.5" fill="#00ffff"/>
<rect x="2873.5" y="693.3" width="13.5" height="2.5" fill="#00ffff"/>
<rect x="2933.5" y="693.3" width="28.5" height="2.5" fill="#00ffff"/>
<rect x="3171.0" y="693.3" width="11.0" height="2.5" fill="#00ffff"/>
<rect x="3271.0" y="693.3" width="11.0" height="2.5" fill="#00ffff"/>
<rect x="3290.0" y="693.3" width="30.0" height="2.5" fill="#00ffff"/>
<rect x="3327.0" y="693.3" width="18.0" height="2.5" fill="#00ffff"/>
<rect x="3540.0" y="693.3" width="17.0" height="2.5" fill="#00ffff"/>
<rect x="3581.0" y="693.3" width="15.0" height="2.5" fill="#00ffff"/>
<polyline points="1099.7,125.3 1023.0,118.2 986.6,113.2 962.4,112.8 938.2,114.2 877.6,120.2 837.3,120.6 780.7,123.3 719.2,132.3 770.7,140.4 821.1,145.5 966.4,146.5 1023.0,142.4 1099.7,137.4" fill="none" stroke="#000" stroke-width="3.8" stroke-linejoin="round"/>
<polyline points="1380.0,113.0 1518.6,112.0 1563.6,116.0 1611.0,113.0 1680.7,112.0 1714.5,115.3 1778.7,116.4" fill="none" stroke="#000" stroke-width="3.8" stroke-linejoin="round"/>
<polyline points="1882.3,115.7 1930.7,112.0" fill="none" stroke="#000" stroke-width="3.8" stroke-linejoin="round"/>
<polyline points="266.0,317.5 372.5,313.8 770.0,315.0 904.0,315.0 1014.0,317.0 1548.0,313.8 1563.0,314.5" fill="none" stroke="#000" stroke-width="3.8" stroke-linejoin="round"/>
<polyline points="1664.0,313.8 2192.0,311.2 2674.5,311.2 2794.5,309.5 2836.0,310.8 3006.0,315.5 3158.5,317.5 3418.5,319.5 3573.5,319.5 3637.0,318.8" fill="none" stroke="#000" stroke-width="3.8" stroke-linejoin="round"/>
<polyline points="266.0,501.5 360.0,497.8 460.0,495.2 572.5,492.8 695.0,490.2 904.0,489.5 956.0,489.0 979.0,490.0 1034.0,490.8 1090.0,492.8 1124.0,492.0 1169.0,490.8 1214.0,488.8 1289.0,487.0 1324.0,485.8 1356.5,484.5 1563.0,484.5" fill="none" stroke="#000" stroke-width="3.8" stroke-linejoin="round"/>
<polyline points="1665.5,485.8 1805.5,487.5 1950.5,488.2 2060.5,489.5 2120.5,491.5 2192.0,492.0 2244.5,493.8 2329.5,495.8 2452.0,497.8 2607.0,500.2 2836.0,501.2 2948.5,502.0 3067.0,503.2 3378.5,504.0 3438.5,505.2 3501.0,505.8 3526.0,507.0 3576.0,508.8 3626.0,510.8 3637.0,510.8" fill="none" stroke="#000" stroke-width="3.8" stroke-linejoin="round"/>
<polyline points="266.0,879.8 325.0,879.0 392.5,878.2 440.0,877.2 487.5,876.5 547.5,869.8 572.5,868.2 632.5,866.5 687.5,865.2 904.0,866.0 956.5,865.2 1004.0,864.0 1154.0,856.5 1304.0,851.0 1384.0,848.5 1548.0,847.0 1563.0,848.5" fill="none" stroke="#000" stroke-width="3.8" stroke-linejoin="round"/>
<polyline points="1665.5,849.0 1930.5,847.0 2008.0,846.5 2083.0,845.2 2192.0,845.5 2836.0,846.0 3008.0,845.8 3295.0,847.5 3496.0,852.0 3637.0,843.5" fill="none" stroke="#000" stroke-width="3.8" stroke-linejoin="round"/>
<polygon points="446.0,133.5 480.0,133.5 463.0,161.5" fill="#ff0000"/>
<polygon points="551.0,161.5 585.0,161.5 568.0,189.5" fill="#ff0000"/>
<polygon points="656.5,124.8 690.5,124.8 673.5,152.8" fill="#ff0000"/>
<polygon points="1042.6,186.5 1076.6,186.5 1059.6,214.5" fill="#ff0000"/>
<polygon points="1148.0,257.6 1182.0,257.6 1165.0,285.6" fill="#ff0000"/>
<polygon points="1218.6,356.6 1252.6,356.6 1235.6,384.6" fill="#ff0000"/>
<polygon points="1464.2,255.8 1498.2,255.8 1481.2,283.8" fill="#ff0000"/>
<polygon points="1499.2,231.0 1533.2,231.0 1516.2,259.0" fill="#ff0000"/>
<polygon points="1605.4,145.4 1639.4,145.4 1622.4,173.4" fill="#ff0000"/>
<polygon points="1640.4,147.0 1674.4,147.0 1657.4,175.0" fill="#ff0000"/>
<polygon points="1569.8,216.0 1603.8,216.0 1586.8,244.0" fill="#ff0000"/>
<polygon points="1710.4,273.8 1744.4,273.8 1727.4,301.8" fill="#ff0000"/>
<polygon points="1745.0,292.5 1779.0,292.5 1762.0,320.5" fill="#ff0000"/>
<polygon points="1851.0,230.4 1885.0,230.4 1868.0,258.4" fill="#ff0000"/>
<polygon points="1885.4,228.5 1919.4,228.5 1902.4,256.5" fill="#ff0000"/>
<polygon points="1921.0,231.0 1955.0,231.0 1938.0,259.0" fill="#ff0000"/>
<polygon points="1991.5,222.0 2025.5,222.0 2008.5,250.0" fill="#ff0000"/>
<polygon points="2026.5,253.0 2060.5,253.0 2043.5,281.0" fill="#ff0000"/>
<polygon points="2062.0,250.0 2096.0,250.0 2079.0,278.0" fill="#ff0000"/>
<polygon points="2132.0,226.0 2166.0,226.0 2149.0,254.0" fill="#ff0000"/>
<polygon points="2166.0,240.0 2200.0,240.0 2183.0,268.0" fill="#ff0000"/>
<polygon points="2202.0,208.0 2236.0,208.0 2219.0,236.0" fill="#ff0000"/>
<polygon points="2272.5,183.0 2306.5,183.0 2289.5,211.0" fill="#ff0000"/>
<polygon points="2307.5,218.8 2341.5,218.8 2324.5,246.8" fill="#ff0000"/>
<polygon points="2343.0,193.8 2377.0,193.8 2360.0,221.8" fill="#ff0000"/>
<polygon points="2413.0,230.5 2447.0,230.5 2430.0,258.5" fill="#ff0000"/>
<polygon points="2448.0,216.8 2482.0,216.8 2465.0,244.8" fill="#ff0000"/>
<polygon points="2518.0,234.5 2552.0,234.5 2535.0,262.5" fill="#ff0000"/>
<polygon points="2553.5,226.0 2587.5,226.0 2570.5,254.0" fill="#ff0000"/>
<polygon points="446.0,189.5 480.0,189.5 463.0,161.5" fill="#ff0000"/>
<polygon points="551.0,226.0 585.0,226.0 568.0,198.0" fill="#ff0000"/>
<polygon points="656.5,232.8 690.5,232.8 673.5,204.8" fill="#ff0000"/>
<polygon points="1042.6,258.4 1076.6,258.4 1059.6,230.4" fill="#ff0000"/>
<polygon points="1148.0,413.8 1182.0,413.8 1165.0,385.8" fill="#ff0000"/>
<polygon points="1218.6,396.5 1252.6,396.5 1235.6,368.5" fill="#ff0000"/>
<polygon points="1464.2,347.0 1498.2,347.0 1481.2,319.0" fill="#ff0000"/>
<polygon points="1499.2,356.8 1533.2,356.8 1516.2,328.8" fill="#ff0000"/>
<polygon points="1640.4,196.2 1674.4,196.2 1657.4,168.2" fill="#ff0000"/>
<polygon points="1605.4,302.0 1639.4,302.0 1622.4,274.0" fill="#ff0000"/>
<polygon points="1710.4,338.4 1744.4,338.4 1727.4,310.4" fill="#ff0000"/>
<polygon points="1745.0,341.2 1779.0,341.2 1762.0,313.2" fill="#ff0000"/>
<polygon points="1570.4,377.8 1604.4,377.8 1587.4,349.8" fill="#ff0000"/>
<polygon points="1888.5,331.5 1922.5,331.5 1905.5,303.5" fill="#ff0000"/>
<polygon points="1921.4,322.1 1955.4,322.1 1938.4,294.1" fill="#ff0000"/>
<polygon points="1991.6,328.8 2025.6,328.8 2008.6,300.8" fill="#ff0000"/>
<polygon points="2026.5,328.8 2060.5,328.8 2043.5,300.8" fill="#ff0000"/>
<polygon points="2062.0,322.1 2096.0,322.1 2079.0,294.1" fill="#ff0000"/>
<polygon points="2132.0,319.0 2166.0,319.0 2149.0,291.0" fill="#ff0000"/>
<polygon points="2166.0,320.0 2200.0,320.0 2183.0,292.0" fill="#ff0000"/>
<polygon points="2202.0,320.2 2236.0,320.2 2219.0,292.2" fill="#ff0000"/>
<polygon points="2272.5,322.0 2306.5,322.0 2289.5,294.0" fill="#ff0000"/>
<polygon points="2307.5,314.0 2341.5,314.0 2324.5,286.0" fill="#ff0000"/>
<polygon points="2343.0,316.0 2377.0,316.0 2360.0,288.0" fill="#ff0000"/>
<polygon points="2413.0,321.0 2447.0,321.0 2430.0,293.0" fill="#ff0000"/>
<polygon points="2518.0,372.4 2552.0,372.4 2535.0,344.4" fill="#ff0000"/>
<polygon points="2553.5,372.8 2587.5,372.8 2570.5,344.8" fill="#ff0000"/>
<polygon points="1644.4,279.0 1670.4,279.0 1657.4,300.5" fill="#fff" stroke="#ff0000" stroke-width="5"/>
<polygon points="1644.4,340.2 1670.4,340.2 1657.4,318.8" fill="#fff" stroke="#ff0000" stroke-width="5"/>
<path d="M568.0 283.0V338.8M541.5 283.0H594.5M541.5 338.8H594.5" stroke="#0000ff" stroke-width="4" fill="none"/>
<circle cx="568.0" cy="310.4" r="14" fill="#fff" stroke="#0000ff" stroke-width="5.5"/>
<path d="M673.8 283.0V337.5M647.2 283.0H700.2M647.2 337.5H700.2" stroke="#0000ff" stroke-width="4" fill="none"/>
<circle cx="673.8" cy="310.0" r="14" fill="#fff" stroke="#0000ff" stroke-width="5.5"/>
<path d="M1165.2 303.8V329.5M1138.8 303.8H1191.8M1138.8 329.5H1191.8" stroke="#0000ff" stroke-width="4" fill="none"/>
<circle cx="1165.2" cy="316.2" r="14" fill="#fff" stroke="#0000ff" stroke-width="5.5"/>
<path d="M1235.2 293.0V332.0M1208.8 293.0H1261.8M1208.8 332.0H1261.8" stroke="#0000ff" stroke-width="4" fill="none"/>
<circle cx="1235.2" cy="311.2" r="14" fill="#fff" stroke="#0000ff" stroke-width="5.5"/>
<path d="M1516.5 239.5V271.8M1490.0 239.5H1543.0M1490.0 271.8H1543.0" stroke="#0000ff" stroke-width="4" fill="none"/>
<circle cx="1516.5" cy="256.2" r="14" fill="#fff" stroke="#0000ff" stroke-width="5.5"/>
<path d="M1586.8 219.5V243.8M1560.2 219.5H1613.2M1560.2 243.8H1613.2" stroke="#0000ff" stroke-width="4" fill="none"/>
<circle cx="1586.8" cy="232.0" r="14" fill="#fff" stroke="#0000ff" stroke-width="5.5"/>
<path d="M1622.2 221.2V255.0M1595.8 221.2H1648.8M1595.8 255.0H1648.8" stroke="#0000ff" stroke-width="4" fill="none"/>
<circle cx="1622.2" cy="238.2" r="14" fill="#fff" stroke="#0000ff" stroke-width="5.5"/>
<path d="M1657.2 217.0V253.0M1630.8 217.0H1683.8M1630.8 253.0H1683.8" stroke="#0000ff" stroke-width="4" fill="none"/>
<circle cx="1657.2" cy="235.0" r="14" fill="#fff" stroke="#0000ff" stroke-width="5.5"/>
<path d="M1867.5 287.5V353.0M1841.0 287.5H1894.0M1841.0 353.0H1894.0" stroke="#0000ff" stroke-width="4" fill="none"/>
<circle cx="1867.5" cy="320.0" r="14" fill="#fff" stroke="#0000ff" stroke-width="5.5"/>
<path d="M1903.0 166.8V202.5M1876.5 166.8H1929.5M1876.5 202.5H1929.5" stroke="#0000ff" stroke-width="4" fill="none"/>
<circle cx="1903.0" cy="184.5" r="14" fill="#fff" stroke="#0000ff" stroke-width="5.5"/>
<path d="M1938.0 229.5V276.8M1911.5 229.5H1964.5M1911.5 276.8H1964.5" stroke="#0000ff" stroke-width="4" fill="none"/>
<circle cx="1938.0" cy="253.0" r="14" fill="#fff" stroke="#0000ff" stroke-width="5.5"/>
<path d="M2008.5 210.8V244.5M1982.0 210.8H2035.0M1982.0 244.5H2035.0" stroke="#0000ff" stroke-width="4" fill="none"/>
<circle cx="2008.5" cy="227.5" r="14" fill="#fff" stroke="#0000ff" stroke-width="5.5"/>
<path d="M2043.5 260.8V297.0M2017.0 260.8H2070.0M2017.0 297.0H2070.0" stroke="#0000ff" stroke-width="4" fill="none"/>
<circle cx="2043.5" cy="278.0" r="14" fill="#fff" stroke="#0000ff" stroke-width="5.5"/>
<path d="M2079.2 217.5V265.0M2052.8 217.5H2105.8M2052.8 265.0H2105.8" stroke="#0000ff" stroke-width="4" fill="none"/>
<circle cx="2079.2" cy="241.2" r="14" fill="#fff" stroke="#0000ff" stroke-width="5.5"/>
<path d="M2149.2 237.5V350.0M2122.8 237.5H2175.8M2122.8 350.0H2175.8" stroke="#0000ff" stroke-width="4" fill="none"/>
<circle cx="2149.2" cy="294.5" r="14" fill="#fff" stroke="#0000ff" stroke-width="5.5"/>
<path d="M2183.0 196.2V373.0M2156.5 196.2H2209.5M2156.5 373.0H2209.5" stroke="#0000ff" stroke-width="4" fill="none"/>
<circle cx="2183.0" cy="285.0" r="14" fill="#fff" stroke="#0000ff" stroke-width="5.5"/>
<path d="M2324.5 285.8V328.0M2298.0 285.8H2351.0M2298.0 328.0H2351.0" stroke="#0000ff" stroke-width="4" fill="none"/>
<circle cx="2324.5" cy="306.2" r="14" fill="#fff" stroke="#0000ff" stroke-width="5.5"/>
<path d="M2359.5 287.5V330.5M2333.0 287.5H2386.0M2333.0 330.5H2386.0" stroke="#0000ff" stroke-width="4" fill="none"/>
<circle cx="2359.5" cy="308.8" r="14" fill="#fff" stroke="#0000ff" stroke-width="5.5"/>
<path d="M2430.0 250.8V345.8M2403.5 250.8H2456.5M2403.5 345.8H2456.5" stroke="#0000ff" stroke-width="4" fill="none"/>
<circle cx="2430.0" cy="298.0" r="14" fill="#fff" stroke="#0000ff" stroke-width="5.5"/>
<path d="M2465.0 277.5V330.5M2438.5 277.5H2491.5M2438.5 330.5H2491.5" stroke="#0000ff" stroke-width="4" fill="none"/>
<circle cx="2465.0" cy="304.5" r="14" fill="#fff" stroke="#0000ff" stroke-width="5.5"/>
<path d="M2535.0 244.5V360.8M2508.5 244.5H2561.5M2508.5 360.8H2561.5" stroke="#0000ff" stroke-width="4" fill="none"/>
<circle cx="2535.0" cy="302.5" r="14" fill="#fff" stroke="#0000ff" stroke-width="5.5"/>
<path d="M2570.8 287.0V332.0M2544.2 287.0H2597.2M2544.2 332.0H2597.2" stroke="#0000ff" stroke-width="4" fill="none"/>
<circle cx="2570.8" cy="307.5" r="14" fill="#fff" stroke="#0000ff" stroke-width="5.5"/>
<path d="M463.0 620.8V659.0M436.5 620.8H489.5M436.5 659.0H489.5" stroke="#0000ff" stroke-width="4" fill="none"/>
<circle cx="463.0" cy="640.0" r="17" fill="#0000ff"/>
<path d="M1481.5 141.8V176.8M1455.0 141.8H1508.0M1455.0 176.8H1508.0" stroke="#0000ff" stroke-width="4" fill="none"/>
<circle cx="1481.5" cy="159.2" r="17" fill="#0000ff"/>
<path d="M1727.5 158.0V195.0M1701.0 158.0H1754.0M1701.0 195.0H1754.0" stroke="#0000ff" stroke-width="4" fill="none"/>
<circle cx="1727.5" cy="176.2" r="17" fill="#0000ff"/>
<path d="M1798.0 206.2V228.0M1771.5 206.2H1824.5M1771.5 228.0H1824.5" stroke="#0000ff" stroke-width="4" fill="none"/>
<circle cx="1798.0" cy="216.8" r="17" fill="#0000ff"/>
<path d="M1762.5 697.0V720.8M1736.0 697.0H1789.0M1736.0 720.8H1789.0" stroke="#0000ff" stroke-width="4" fill="none"/>
<circle cx="1762.5" cy="708.8" r="17" fill="#0000ff"/>
<path d="M2219.0 335.0V413.8M2192.5 335.0H2245.5M2192.5 413.8H2245.5" stroke="#0000ff" stroke-width="4" fill="none"/>
<circle cx="2219.0" cy="373.8" r="17" fill="#0000ff"/>
<path d="M1059.5 600.8V625.0M1033.0 600.8H1086.0M1033.0 625.0H1086.0" stroke="#32cd32" stroke-width="4" fill="none"/>
<circle cx="1059.5" cy="612.8" r="17" fill="#32cd32"/>
<path d="M2289.5 562.8V593.2M2263.0 562.8H2316.0M2263.0 593.2H2316.0" stroke="#32cd32" stroke-width="4" fill="none"/>
<circle cx="2289.5" cy="578.2" r="17" fill="#32cd32"/>
<path d="M568.0 952.0V1010.0M541.5 952.0H594.5M541.5 1010.0H594.5" stroke="#32cd32" stroke-width="4" fill="none"/>
<circle cx="568.0" cy="966.0" r="17" fill="#32cd32"/>
<path d="M673.0 940.0V1010.0M646.5 940.0H699.5M646.5 1010.0H699.5" stroke="#32cd32" stroke-width="4" fill="none"/>
<circle cx="673.0" cy="965.5" r="17" fill="#32cd32"/>
<path d="M1868.0 532.8V560.8M1841.5 532.8H1894.5M1841.5 560.8H1894.5" stroke="#32cd32" stroke-width="4" fill="none"/>
<circle cx="1868.0" cy="547.0" r="14" fill="#fff" stroke="#32cd32" stroke-width="5.5"/>
<path d="M2183.0 665.8V713.2M2156.5 665.8H2209.5M2156.5 713.2H2209.5" stroke="#32cd32" stroke-width="4" fill="none"/>
<circle cx="2183.0" cy="689.5" r="14" fill="#fff" stroke="#32cd32" stroke-width="5.5"/>
<path d="M1165.2 812.8V1010.0M1138.8 812.8H1191.8M1138.8 1010.0H1191.8" stroke="#32cd32" stroke-width="4" fill="none"/>
<circle cx="1165.2" cy="909.0" r="14" fill="#fff" stroke="#32cd32" stroke-width="5.5"/>
<path d="M1235.2 817.0V1010.0M1208.8 817.0H1261.8M1208.8 1010.0H1261.8" stroke="#32cd32" stroke-width="4" fill="none"/>
<circle cx="1235.2" cy="887.0" r="14" fill="#fff" stroke="#32cd32" stroke-width="5.5"/>
<path d="M1516.5 830.8V1010.0M1490.0 830.8H1543.0M1490.0 1010.0H1543.0" stroke="#32cd32" stroke-width="4" fill="none"/>
<circle cx="1516.5" cy="907.8" r="14" fill="#fff" stroke="#32cd32" stroke-width="5.5"/>
<path d="M1586.8 709.0V854.0M1560.2 709.0H1613.2M1560.2 854.0H1613.2" stroke="#32cd32" stroke-width="4" fill="none"/>
<circle cx="1586.8" cy="782.0" r="14" fill="#fff" stroke="#32cd32" stroke-width="5.5"/>
<path d="M1621.8 791.5V901.5M1595.2 791.5H1648.2M1595.2 901.5H1648.2" stroke="#32cd32" stroke-width="4" fill="none"/>
<circle cx="1621.8" cy="846.5" r="14" fill="#fff" stroke="#32cd32" stroke-width="5.5"/>
<path d="M1657.2 879.8V951.5M1630.8 879.8H1683.8M1630.8 951.5H1683.8" stroke="#32cd32" stroke-width="4" fill="none"/>
<circle cx="1657.2" cy="916.0" r="14" fill="#fff" stroke="#32cd32" stroke-width="5.5"/>
<path d="M1903.0 851.5V938.5M1876.5 851.5H1929.5M1876.5 938.5H1929.5" stroke="#32cd32" stroke-width="4" fill="none"/>
<circle cx="1903.0" cy="895.2" r="14" fill="#fff" stroke="#32cd32" stroke-width="5.5"/>
<path d="M1937.2 886.0V1010.0M1910.8 886.0H1963.8M1910.8 1010.0H1963.8" stroke="#32cd32" stroke-width="4" fill="none"/>
<circle cx="1937.2" cy="931.5" r="14" fill="#fff" stroke="#32cd32" stroke-width="5.5"/>
<path d="M2008.5 890.8V1010.0M1982.0 890.8H2035.0M1982.0 1010.0H2035.0" stroke="#32cd32" stroke-width="4" fill="none"/>
<circle cx="2008.5" cy="931.0" r="14" fill="#fff" stroke="#32cd32" stroke-width="5.5"/>
<path d="M2043.8 884.0V1010.0M2017.2 884.0H2070.2M2017.2 1010.0H2070.2" stroke="#32cd32" stroke-width="4" fill="none"/>
<circle cx="2043.8" cy="931.0" r="14" fill="#fff" stroke="#32cd32" stroke-width="5.5"/>
<path d="M2078.5 892.0V1010.0M2052.0 892.0H2105.0M2052.0 1010.0H2105.0" stroke="#32cd32" stroke-width="4" fill="none"/>
<circle cx="2078.5" cy="925.2" r="14" fill="#fff" stroke="#32cd32" stroke-width="5.5"/>
<path d="M2148.8 872.0V1010.0M2122.2 872.0H2175.2M2122.2 1010.0H2175.2" stroke="#32cd32" stroke-width="4" fill="none"/>
<circle cx="2148.8" cy="921.5" r="14" fill="#fff" stroke="#32cd32" stroke-width="5.5"/>
<path d="M2325.0 777.8V1010.0M2298.5 777.8H2351.5M2298.5 1010.0H2351.5" stroke="#32cd32" stroke-width="4" fill="none"/>
<circle cx="2325.0" cy="884.5" r="14" fill="#fff" stroke="#32cd32" stroke-width="5.5"/>
<path d="M2360.0 686.5V1010.0M2333.5 686.5H2386.5M2333.5 1010.0H2386.5" stroke="#32cd32" stroke-width="4" fill="none"/>
<circle cx="2360.0" cy="828.5" r="14" fill="#fff" stroke="#32cd32" stroke-width="5.5"/>
<path d="M2430.0 819.8V1010.0M2403.5 819.8H2456.5M2403.5 1010.0H2456.5" stroke="#32cd32" stroke-width="4" fill="none"/>
<circle cx="2430.0" cy="900.2" r="14" fill="#fff" stroke="#32cd32" stroke-width="5.5"/>
<path d="M2465.0 841.5V937.8M2438.5 841.5H2491.5M2438.5 937.8H2491.5" stroke="#32cd32" stroke-width="4" fill="none"/>
<circle cx="2465.0" cy="889.8" r="14" fill="#fff" stroke="#32cd32" stroke-width="5.5"/>
<path d="M2535.2 840.2V937.8M2508.8 840.2H2561.8M2508.8 937.8H2561.8" stroke="#32cd32" stroke-width="4" fill="none"/>
<circle cx="2535.2" cy="889.0" r="14" fill="#fff" stroke="#32cd32" stroke-width="5.5"/>
<path d="M2570.8 754.5V1010.0M2544.2 754.5H2597.2M2544.2 1010.0H2597.2" stroke="#32cd32" stroke-width="4" fill="none"/>
<circle cx="2570.8" cy="856.5" r="14" fill="#fff" stroke="#32cd32" stroke-width="5.5"/>
<text x="1101.0" y="150.0" font-size="60.6" textLength="100.0" lengthAdjust="spacingAndGlyphs" fill="#000" transform="rotate(3.8 1150 130)">210</text>
<text x="1782.5" y="139.0" font-size="60.6" textLength="100.0" lengthAdjust="spacingAndGlyphs" fill="#000" transform="rotate(1.5 1830 120)">210</text>
<text x="1565.0" y="336.0" font-size="60.6" textLength="100.0" lengthAdjust="spacingAndGlyphs" fill="#000" >230</text>
<text x="1565.0" y="507.5" font-size="60.6" textLength="100.0" lengthAdjust="spacingAndGlyphs" fill="#000" >250</text>
<text x="1565.0" y="870.0" font-size="60.6" textLength="100.0" lengthAdjust="spacingAndGlyphs" fill="#000" >273</text>
</g>
<rect x="263" y="108" width="6" height="852" fill="#000"/>
<rect x="263" y="954" width="3377" height="6" fill="#000"/>
<rect x="263" y="108.0" width="84" height="6" fill="#000"/>
<text x="83.5" y="136.0" font-size="70.7" textLength="148.5" lengthAdjust="spacingAndGlyphs" fill="#000" >11.1</text>
<rect x="263" y="213.8" width="84" height="6" fill="#000"/>
<text x="83.5" y="241.8" font-size="70.7" textLength="148.5" lengthAdjust="spacingAndGlyphs" fill="#000" >9.76</text>
<rect x="263" y="319.5" width="84" height="6" fill="#000"/>
<text x="83.5" y="347.5" font-size="70.7" textLength="148.5" lengthAdjust="spacingAndGlyphs" fill="#000" >8.40</text>
<rect x="263" y="425.2" width="84" height="6" fill="#000"/>
<text x="83.5" y="453.2" font-size="70.7" textLength="148.5" lengthAdjust="spacingAndGlyphs" fill="#000" >7.04</text>
<rect x="263" y="531.0" width="84" height="6" fill="#000"/>
<text x="83.5" y="559.0" font-size="70.7" textLength="148.5" lengthAdjust="spacingAndGlyphs" fill="#000" >5.68</text>
<rect x="263" y="636.8" width="84" height="6" fill="#000"/>
<text x="83.5" y="664.8" font-size="70.7" textLength="148.5" lengthAdjust="spacingAndGlyphs" fill="#000" >4.32</text>
<rect x="263" y="742.5" width="84" height="6" fill="#000"/>
<text x="83.5" y="770.5" font-size="70.7" textLength="148.5" lengthAdjust="spacingAndGlyphs" fill="#000" >2.96</text>
<rect x="263" y="848.2" width="84" height="6" fill="#000"/>
<text x="83.5" y="876.2" font-size="70.7" textLength="148.5" lengthAdjust="spacingAndGlyphs" fill="#000" >1.61</text>
<rect x="263" y="954.0" width="84" height="6" fill="#000"/>
<text x="83.5" y="982.0" font-size="70.7" textLength="148.5" lengthAdjust="spacingAndGlyphs" fill="#000" >0.25</text>
<rect x="263.0" y="894" width="6" height="66" fill="#000"/>
<text x="242.0" y="1037.0" font-size="80.0" textLength="48.0" lengthAdjust="spacingAndGlyphs" fill="#000" >0</text>
<rect x="333.2" y="924" width="6" height="36" fill="#000"/>
<rect x="403.5" y="924" width="6" height="36" fill="#000"/>
<rect x="473.7" y="924" width="6" height="36" fill="#000"/>
<rect x="543.9" y="894" width="6" height="66" fill="#000"/>
<text x="522.9" y="1037.0" font-size="80.0" textLength="48.0" lengthAdjust="spacingAndGlyphs" fill="#000" >2</text>
<rect x="614.1" y="924" width="6" height="36" fill="#000"/>
<rect x="684.4" y="924" width="6" height="36" fill="#000"/>
<rect x="754.6" y="924" width="6" height="36" fill="#000"/>
<rect x="824.8" y="894" width="6" height="66" fill="#000"/>
<text x="803.8" y="1037.0" font-size="80.0" textLength="48.0" lengthAdjust="spacingAndGlyphs" fill="#000" >4</text>
<rect x="895.1" y="924" width="6" height="36" fill="#000"/>
<rect x="965.3" y="924" width="6" height="36" fill="#000"/>
<rect x="1035.5" y="924" width="6" height="36" fill="#000"/>
<rect x="1105.8" y="894" width="6" height="66" fill="#000"/>
<text x="1084.7" y="1037.0" font-size="80.0" textLength="48.0" lengthAdjust="spacingAndGlyphs" fill="#000" >6</text>
<rect x="1176.0" y="924" width="6" height="36" fill="#000"/>
<rect x="1246.2" y="924" width="6" height="36" fill="#000"/>
<rect x="1316.4" y="924" width="6" height="36" fill="#000"/>
<rect x="1386.7" y="894" width="6" height="66" fill="#000"/>
<text x="1365.6" y="1037.0" font-size="80.0" textLength="48.0" lengthAdjust="spacingAndGlyphs" fill="#000" >8</text>
<rect x="1456.9" y="924" width="6" height="36" fill="#000"/>
<rect x="1527.1" y="924" width="6" height="36" fill="#000"/>
<rect x="1597.4" y="924" width="6" height="36" fill="#000"/>
<rect x="1667.6" y="894" width="6" height="66" fill="#000"/>
<text x="1622.5" y="1037.0" font-size="80.0" textLength="96.1" lengthAdjust="spacingAndGlyphs" fill="#000" >10</text>
<rect x="1737.8" y="924" width="6" height="36" fill="#000"/>
<rect x="1808.0" y="924" width="6" height="36" fill="#000"/>
<rect x="1878.3" y="924" width="6" height="36" fill="#000"/>
<rect x="1948.5" y="894" width="6" height="66" fill="#000"/>
<text x="1903.5" y="1037.0" font-size="80.0" textLength="96.1" lengthAdjust="spacingAndGlyphs" fill="#000" >12</text>
<rect x="2018.7" y="924" width="6" height="36" fill="#000"/>
<rect x="2089.0" y="924" width="6" height="36" fill="#000"/>
<rect x="2159.2" y="924" width="6" height="36" fill="#000"/>
<rect x="2229.4" y="894" width="6" height="66" fill="#000"/>
<text x="2184.4" y="1037.0" font-size="80.0" textLength="96.1" lengthAdjust="spacingAndGlyphs" fill="#000" >14</text>
<rect x="2299.6" y="924" width="6" height="36" fill="#000"/>
<rect x="2369.9" y="924" width="6" height="36" fill="#000"/>
<rect x="2440.1" y="924" width="6" height="36" fill="#000"/>
<rect x="2510.3" y="894" width="6" height="66" fill="#000"/>
<text x="2465.3" y="1037.0" font-size="80.0" textLength="96.1" lengthAdjust="spacingAndGlyphs" fill="#000" >16</text>
<rect x="2580.6" y="924" width="6" height="36" fill="#000"/>
<rect x="2650.8" y="924" width="6" height="36" fill="#000"/>
<rect x="2721.0" y="924" width="6" height="36" fill="#000"/>
<rect x="2791.2" y="894" width="6" height="66" fill="#000"/>
<text x="2746.2" y="1037.0" font-size="80.0" textLength="96.1" lengthAdjust="spacingAndGlyphs" fill="#000" >18</text>
<rect x="2861.5" y="924" width="6" height="36" fill="#000"/>
<rect x="2931.7" y="924" width="6" height="36" fill="#000"/>
<rect x="3001.9" y="924" width="6" height="36" fill="#000"/>
<rect x="3072.2" y="894" width="6" height="66" fill="#000"/>
<text x="3027.1" y="1037.0" font-size="80.0" textLength="96.1" lengthAdjust="spacingAndGlyphs" fill="#000" >20</text>
<rect x="3142.4" y="924" width="6" height="36" fill="#000"/>
<rect x="3212.6" y="924" width="6" height="36" fill="#000"/>
<rect x="3282.9" y="924" width="6" height="36" fill="#000"/>
<rect x="3353.1" y="894" width="6" height="66" fill="#000"/>
<text x="3308.0" y="1037.0" font-size="80.0" textLength="96.1" lengthAdjust="spacingAndGlyphs" fill="#000" >22</text>
<rect x="3423.3" y="924" width="6" height="36" fill="#000"/>
<rect x="3493.5" y="924" width="6" height="36" fill="#000"/>
<rect x="3563.8" y="924" width="6" height="36" fill="#000"/>
<rect x="3634.0" y="894" width="6" height="66" fill="#000"/>
<text x="3589.0" y="1037.0" font-size="80.0" textLength="96.1" lengthAdjust="spacingAndGlyphs" fill="#000" >24</text>
<text x="1739.5" y="1116.7" font-size="80.0" textLength="424.1" lengthAdjust="spacingAndGlyphs" fill="#000" >Time (UTC)</text>
<text transform="translate(35.7 529.5) rotate(-90)" x="-302.9" y="0" font-size="70" textLength="605.7" lengthAdjust="spacingAndGlyphs">Height AMSL (km)</text>
<text x="1951.5" y="76.9" font-size="100.5" text-anchor="middle">Hyytiala: 2025/10/19</text>
<rect x="266" y="1144" width="3371" height="53" fill="url(#cb)"/>
<rect x="263" y="1197" width="3377" height="6" fill="#000"/>
<rect x="263.0" y="1183" width="6" height="20" fill="#000"/>
<rect x="375.4" y="1190" width="6" height="13" fill="#000"/>
<rect x="487.7" y="1190" width="6" height="13" fill="#000"/>
<rect x="600.1" y="1190" width="6" height="13" fill="#000"/>
<rect x="712.5" y="1190" width="6" height="13" fill="#000"/>
<rect x="824.8" y="1190" width="6" height="13" fill="#000"/>
<rect x="937.2" y="1190" width="6" height="13" fill="#000"/>
<rect x="1049.6" y="1190" width="6" height="13" fill="#000"/>
<rect x="1161.9" y="1190" width="6" height="13" fill="#000"/>
<rect x="1274.3" y="1190" width="6" height="13" fill="#000"/>
<rect x="1386.7" y="1183" width="6" height="20" fill="#000"/>
<rect x="1499.0" y="1190" width="6" height="13" fill="#000"/>
<rect x="1611.4" y="1190" width="6" height="13" fill="#000"/>
<rect x="1723.8" y="1190" width="6" height="13" fill="#000"/>
<rect x="1836.1" y="1190" width="6" height="13" fill="#000"/>
<rect x="1948.5" y="1190" width="6" height="13" fill="#000"/>
<rect x="2060.9" y="1190" width="6" height="13" fill="#000"/>
<rect x="2173.2" y="1190" width="6" height="13" fill="#000"/>
<rect x="2285.6" y="1190" width="6" height="13" fill="#000"/>
<rect x="2398.0" y="1190" width="6" height="13" fill="#000"/>
<rect x="2510.3" y="1183" width="6" height="20" fill="#000"/>
<rect x="2622.7" y="1190" width="6" height="13" fill="#000"/>
<rect x="2735.1" y="1190" width="6" height="13" fill="#000"/>
<rect x="2847.4" y="1190" width="6" height="13" fill="#000"/>
<rect x="2959.8" y="1190" width="6" height="13" fill="#000"/>
<rect x="3072.2" y="1190" width="6" height="13" fill="#000"/>
<rect x="3184.5" y="1190" width="6" height="13" fill="#000"/>
<rect x="3296.9" y="1190" width="6" height="13" fill="#000"/>
<rect x="3409.3" y="1190" width="6" height="13" fill="#000"/>
<rect x="3521.6" y="1190" width="6" height="13" fill="#000"/>
<rect x="3634.0" y="1183" width="6" height="20" fill="#000"/>
<text x="178.5" y="1260.7" font-size="63.0" textLength="155.3" lengthAdjust="spacingAndGlyphs" fill="#000" >Clear</text>
<text x="1300.0" y="1260.7" font-size="63.0" textLength="179.4" lengthAdjust="spacingAndGlyphs" fill="#000" >Water</text>
<text x="2470.0" y="1260.7" font-size="63.0" textLength="86.7" lengthAdjust="spacingAndGlyphs" fill="#000" >Ice</text>
<text x="3552.7" y="1260.7" font-size="63.0" textLength="168.7" lengthAdjust="spacingAndGlyphs" fill="#000" >Other</text>
<rect x="248.9" y="1313.3" width="651.1" height="334.2" fill="#fff" stroke="#000" stroke-width="5.5"/>
<rect x="993.6" y="1313.3" width="618.4" height="334.2" fill="#fff" stroke="#000" stroke-width="5.5"/>
<rect x="2328.3" y="1313.2" width="559.3" height="401.0" fill="#fff" stroke="#000" stroke-width="5.5"/>
<circle cx="287.0" cy="1383.9" r="17" fill="#32cd32"/>
<circle cx="287.0" cy="1470" r="14" fill="#fff" stroke="#32cd32" stroke-width="5.5"/>
<path d="M269.5 1548.5L304.5 1583.5M304.5 1548.5L269.5 1583.5" stroke="#32cd32" stroke-width="5"/>
<text x="323.2" y="1406.2" font-size="61.4" textLength="480.7" lengthAdjust="spacingAndGlyphs" fill="#000" >SEV-OCA SL Wat</text>
<text x="323.2" y="1492.9" font-size="61.4" textLength="480.8" lengthAdjust="spacingAndGlyphs" fill="#000" >SEV-OCA 2L Wat</text>
<text x="323.2" y="1588.8" font-size="61.4" textLength="513.5" lengthAdjust="spacingAndGlyphs" fill="#000" >OCA High Err Wat</text>
<circle cx="1031.6" cy="1383.9" r="17" fill="#0000ff"/>
<circle cx="1031.6" cy="1470" r="14" fill="#fff" stroke="#0000ff" stroke-width="5.5"/>
<path d="M1014.1 1548.5L1049.1 1583.5M1049.1 1548.5L1014.1 1583.5" stroke="#0000ff" stroke-width="5"/>
<text x="1068.3" y="1406.2" font-size="62.1" textLength="455.2" lengthAdjust="spacingAndGlyphs" fill="#000" >SEV-OCA SL Ice</text>
<text x="1068.3" y="1492.9" font-size="62.1" textLength="455.3" lengthAdjust="spacingAndGlyphs" fill="#000" >SEV-OCA 2L Ice</text>
<text x="1068.3" y="1588.8" font-size="62.1" textLength="488.5" lengthAdjust="spacingAndGlyphs" fill="#000" >OCA High Err Ice</text>
<polygon points="2348.0,1394.2 2382.0,1394.2 2365.0,1363.5" fill="#ff0000"/>
<polygon points="2348.0,1459.8 2382.0,1459.8 2365.0,1489.9" fill="#ff0000"/>
<polygon points="2352.0,1563.0 2378.0,1563.0 2365.0,1541.0" fill="#fff" stroke="#ff0000" stroke-width="5"/>
<polygon points="2352.0,1637.0 2378.0,1637.0 2365.0,1659.0" fill="#fff" stroke="#ff0000" stroke-width="5"/>
<text x="2402.5" y="1406.2" font-size="61.8" textLength="354.0" lengthAdjust="spacingAndGlyphs" fill="#000" >ACTRIS CBH</text>
<text x="2402.5" y="1492.6" font-size="61.8" textLength="349.6" lengthAdjust="spacingAndGlyphs" fill="#000" >ACTRIS CTH</text>
<text x="2402.5" y="1579.7" font-size="61.8" textLength="445.0" lengthAdjust="spacingAndGlyphs" fill="#000" >ACTRIS CBH BL</text>
<text x="2402.5" y="1665.8" font-size="61.8" textLength="440.6" lengthAdjust="spacingAndGlyphs" fill="#000" >ACTRIS CTH BL</text>
</svg></body></html>
